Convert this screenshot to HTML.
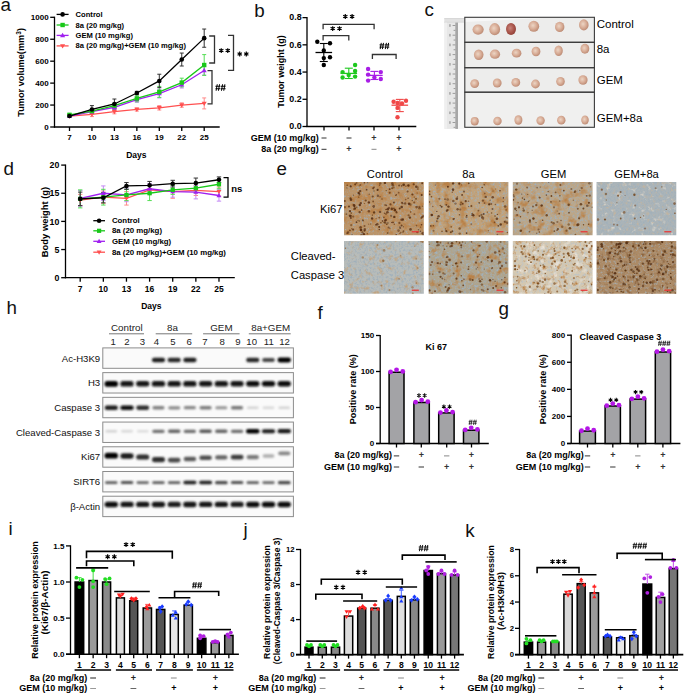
<!DOCTYPE html>
<html><head><meta charset="utf-8"><style>
html,body{margin:0;padding:0;background:#fff;}
svg{display:block;font-family:"Liberation Sans", sans-serif;}
</style></head><body>
<svg width="685" height="694" viewBox="0 0 685 694">
<defs><radialGradient id="tg" cx="0.42" cy="0.42" r="0.6"><stop offset="0" stop-color="#ecd5c4"/><stop offset="0.55" stop-color="#d9ae98"/><stop offset="1" stop-color="#bc8a73"/></radialGradient><radialGradient id="tgd" cx="0.42" cy="0.42" r="0.6"><stop offset="0" stop-color="#c8847a"/><stop offset="0.6" stop-color="#aa564c"/><stop offset="1" stop-color="#914036"/></radialGradient><filter id="nz11_0" x="0" y="0" width="1" height="1" color-interpolation-filters="sRGB"><feTurbulence type="fractalNoise" baseFrequency="0.45" numOctaves="3" seed="3"/><feColorMatrix type="matrix" values="0 0 0 0 0.624 0 0 0 0 0.690 0 0 0 0 0.737 3 0 0 0 -1.6"/></filter><filter id="nz11_1" x="0" y="0" width="1" height="1" color-interpolation-filters="sRGB"><feTurbulence type="fractalNoise" baseFrequency="0.15" numOctaves="3" seed="5"/><feColorMatrix type="matrix" values="0 0 0 0 0.753 0 0 0 0 0.502 0 0 0 0 0.243 3 0 0 0 -1.4"/></filter><filter id="nz12_0" x="0" y="0" width="1" height="1" color-interpolation-filters="sRGB"><feTurbulence type="fractalNoise" baseFrequency="0.45" numOctaves="3" seed="4"/><feColorMatrix type="matrix" values="0 0 0 0 0.624 0 0 0 0 0.690 0 0 0 0 0.737 3 0 0 0 -1.45"/></filter><filter id="nz12_1" x="0" y="0" width="1" height="1" color-interpolation-filters="sRGB"><feTurbulence type="fractalNoise" baseFrequency="0.13" numOctaves="3" seed="6"/><feColorMatrix type="matrix" values="0 0 0 0 0.753 0 0 0 0 0.502 0 0 0 0 0.243 3 0 0 0 -1.45"/></filter><filter id="nz13_0" x="0" y="0" width="1" height="1" color-interpolation-filters="sRGB"><feTurbulence type="fractalNoise" baseFrequency="0.45" numOctaves="3" seed="7"/><feColorMatrix type="matrix" values="0 0 0 0 0.624 0 0 0 0 0.690 0 0 0 0 0.737 3 0 0 0 -1.4"/></filter><filter id="nz13_1" x="0" y="0" width="1" height="1" color-interpolation-filters="sRGB"><feTurbulence type="fractalNoise" baseFrequency="0.12" numOctaves="3" seed="9"/><feColorMatrix type="matrix" values="0 0 0 0 0.753 0 0 0 0 0.502 0 0 0 0 0.243 3 0 0 0 -1.5"/></filter><filter id="nz14_0" x="0" y="0" width="1" height="1" color-interpolation-filters="sRGB"><feTurbulence type="fractalNoise" baseFrequency="0.5" numOctaves="3" seed="10"/><feColorMatrix type="matrix" values="0 0 0 0 0.624 0 0 0 0 0.690 0 0 0 0 0.737 3 0 0 0 -1.3"/></filter><filter id="nz14_1" x="0" y="0" width="1" height="1" color-interpolation-filters="sRGB"><feTurbulence type="fractalNoise" baseFrequency="0.2" numOctaves="3" seed="12"/><feColorMatrix type="matrix" values="0 0 0 0 0.886 0 0 0 0 0.847 0 0 0 0 0.784 3 0 0 0 -1.8"/></filter><filter id="nz14_2" x="0" y="0" width="1" height="1" color-interpolation-filters="sRGB"><feTurbulence type="fractalNoise" baseFrequency="0.3" numOctaves="3" seed="22"/><feColorMatrix type="matrix" values="0 0 0 0 0.769 0 0 0 0 0.706 0 0 0 0 0.612 3 0 0 0 -1.7"/></filter><filter id="nz15_0" x="0" y="0" width="1" height="1" color-interpolation-filters="sRGB"><feTurbulence type="fractalNoise" baseFrequency="0.45" numOctaves="3" seed="13"/><feColorMatrix type="matrix" values="0 0 0 0 0.624 0 0 0 0 0.690 0 0 0 0 0.737 3 0 0 0 -1.3"/></filter><filter id="nz15_1" x="0" y="0" width="1" height="1" color-interpolation-filters="sRGB"><feTurbulence type="fractalNoise" baseFrequency="0.2" numOctaves="3" seed="14"/><feColorMatrix type="matrix" values="0 0 0 0 0.784 0 0 0 0 0.627 0 0 0 0 0.439 3 0 0 0 -1.65"/></filter><filter id="nz16_0" x="0" y="0" width="1" height="1" color-interpolation-filters="sRGB"><feTurbulence type="fractalNoise" baseFrequency="0.45" numOctaves="3" seed="15"/><feColorMatrix type="matrix" values="0 0 0 0 0.624 0 0 0 0 0.690 0 0 0 0 0.737 3 0 0 0 -1.35"/></filter><filter id="nz16_1" x="0" y="0" width="1" height="1" color-interpolation-filters="sRGB"><feTurbulence type="fractalNoise" baseFrequency="0.15" numOctaves="3" seed="16"/><feColorMatrix type="matrix" values="0 0 0 0 0.753 0 0 0 0 0.502 0 0 0 0 0.243 3 0 0 0 -1.5"/></filter><filter id="nz17_0" x="0" y="0" width="1" height="1" color-interpolation-filters="sRGB"><feTurbulence type="fractalNoise" baseFrequency="0.45" numOctaves="3" seed="17"/><feColorMatrix type="matrix" values="0 0 0 0 0.737 0 0 0 0 0.769 0 0 0 0 0.784 3 0 0 0 -1.45"/></filter><filter id="nz17_1" x="0" y="0" width="1" height="1" color-interpolation-filters="sRGB"><feTurbulence type="fractalNoise" baseFrequency="0.2" numOctaves="3" seed="18"/><feColorMatrix type="matrix" values="0 0 0 0 0.753 0 0 0 0 0.502 0 0 0 0 0.243 3 0 0 0 -1.6"/></filter><filter id="nz17_2" x="0" y="0" width="1" height="1" color-interpolation-filters="sRGB"><feTurbulence type="fractalNoise" baseFrequency="0.15" numOctaves="3" seed="19"/><feColorMatrix type="matrix" values="0 0 0 0 0.937 0 0 0 0 0.914 0 0 0 0 0.875 3 0 0 0 -1.6"/></filter><filter id="nz18_0" x="0" y="0" width="1" height="1" color-interpolation-filters="sRGB"><feTurbulence type="fractalNoise" baseFrequency="0.45" numOctaves="3" seed="20"/><feColorMatrix type="matrix" values="0 0 0 0 0.651 0 0 0 0 0.675 0 0 0 0 0.675 3 0 0 0 -1.55"/></filter><filter id="nz18_1" x="0" y="0" width="1" height="1" color-interpolation-filters="sRGB"><feTurbulence type="fractalNoise" baseFrequency="0.2" numOctaves="3" seed="21"/><feColorMatrix type="matrix" values="0 0 0 0 0.541 0 0 0 0 0.353 0 0 0 0 0.180 3 0 0 0 -1.6"/></filter><filter id="desat" color-interpolation-filters="sRGB"><feGaussianBlur stdDeviation="0.5"/><feColorMatrix type="saturate" values="0.88"/></filter><filter id="soft"><feGaussianBlur stdDeviation="0.3"/></filter><filter id="bl" x="-50%" y="-100%" width="200%" height="300%"><feGaussianBlur stdDeviation="0.8"/></filter></defs>
<text x="0.6" y="11.2" font-size="18.8" fill="#111">a</text>
<text x="254.2" y="16.9" font-size="18.8" fill="#111">b</text>
<text x="424.6" y="15.9" font-size="18.8" fill="#111">c</text>
<text x="3.6" y="175" font-size="18.8" fill="#111">d</text>
<text x="276.6" y="175.1" font-size="18.8" fill="#111">e</text>
<text x="317.6" y="318.6" font-size="18.8" fill="#111">f</text>
<text x="498.6" y="315.3" font-size="18.8" fill="#111">g</text>
<text x="6.6" y="314" font-size="18.8" fill="#111">h</text>
<text x="8.6" y="534.5" font-size="18.8" fill="#111">i</text>
<text x="243.5" y="536.0" font-size="18.8" fill="#111">j</text>
<text x="465.2" y="536.7" font-size="18.8" fill="#111">k</text>
<line x1="54.50" y1="16.70" x2="54.50" y2="127.60" stroke="#000" stroke-width="1.3"/>
<line x1="53.90" y1="127.00" x2="219.70" y2="127.00" stroke="#000" stroke-width="1.3"/>
<line x1="50.20" y1="127.00" x2="54.50" y2="127.00" stroke="#000" stroke-width="1.3"/>
<text x="48.60" y="127.20" font-size="8" font-weight="bold" text-anchor="end" dominant-baseline="central" fill="#000">0</text>
<line x1="50.20" y1="105.06" x2="54.50" y2="105.06" stroke="#000" stroke-width="1.3"/>
<text x="48.60" y="105.26" font-size="8" font-weight="bold" text-anchor="end" dominant-baseline="central" fill="#000">200</text>
<line x1="50.20" y1="83.12" x2="54.50" y2="83.12" stroke="#000" stroke-width="1.3"/>
<text x="48.60" y="83.32" font-size="8" font-weight="bold" text-anchor="end" dominant-baseline="central" fill="#000">400</text>
<line x1="50.20" y1="61.18" x2="54.50" y2="61.18" stroke="#000" stroke-width="1.3"/>
<text x="48.60" y="61.38" font-size="8" font-weight="bold" text-anchor="end" dominant-baseline="central" fill="#000">600</text>
<line x1="50.20" y1="39.24" x2="54.50" y2="39.24" stroke="#000" stroke-width="1.3"/>
<text x="48.60" y="39.44" font-size="8" font-weight="bold" text-anchor="end" dominant-baseline="central" fill="#000">800</text>
<line x1="50.20" y1="17.30" x2="54.50" y2="17.30" stroke="#000" stroke-width="1.3"/>
<text x="48.60" y="17.50" font-size="8" font-weight="bold" text-anchor="end" dominant-baseline="central" fill="#000">1000</text>
<line x1="69.50" y1="127.00" x2="69.50" y2="131.00" stroke="#000" stroke-width="1.3"/>
<text x="69.50" y="137.80" font-size="8" font-weight="bold" text-anchor="middle" dominant-baseline="central" fill="#000">7</text>
<line x1="91.95" y1="127.00" x2="91.95" y2="131.00" stroke="#000" stroke-width="1.3"/>
<text x="91.95" y="137.80" font-size="8" font-weight="bold" text-anchor="middle" dominant-baseline="central" fill="#000">10</text>
<line x1="114.40" y1="127.00" x2="114.40" y2="131.00" stroke="#000" stroke-width="1.3"/>
<text x="114.40" y="137.80" font-size="8" font-weight="bold" text-anchor="middle" dominant-baseline="central" fill="#000">13</text>
<line x1="136.85" y1="127.00" x2="136.85" y2="131.00" stroke="#000" stroke-width="1.3"/>
<text x="136.85" y="137.80" font-size="8" font-weight="bold" text-anchor="middle" dominant-baseline="central" fill="#000">16</text>
<line x1="159.30" y1="127.00" x2="159.30" y2="131.00" stroke="#000" stroke-width="1.3"/>
<text x="159.30" y="137.80" font-size="8" font-weight="bold" text-anchor="middle" dominant-baseline="central" fill="#000">19</text>
<line x1="181.75" y1="127.00" x2="181.75" y2="131.00" stroke="#000" stroke-width="1.3"/>
<text x="181.75" y="137.80" font-size="8" font-weight="bold" text-anchor="middle" dominant-baseline="central" fill="#000">22</text>
<line x1="204.20" y1="127.00" x2="204.20" y2="131.00" stroke="#000" stroke-width="1.3"/>
<text x="204.20" y="137.80" font-size="8" font-weight="bold" text-anchor="middle" dominant-baseline="central" fill="#000">25</text>
<text x="136.30" y="155.00" font-size="8.5" font-weight="bold" text-anchor="middle" dominant-baseline="central" fill="#000">Days</text>
<text x="0" y="0" font-size="9.2" font-weight="bold" text-anchor="middle" dominant-baseline="central" transform="translate(21.4 72.4) rotate(-90)">Tumor volume(mm<tspan font-size="6.5" dy="-3.6">3</tspan><tspan dy="3.6">)</tspan></text>
<line x1="69.50" y1="117.13" x2="69.50" y2="114.93" stroke="#ff8a8a" stroke-width="1.0"/>
<line x1="67.50" y1="114.93" x2="71.50" y2="114.93" stroke="#ff8a8a" stroke-width="1.0"/>
<line x1="67.50" y1="117.13" x2="71.50" y2="117.13" stroke="#ff8a8a" stroke-width="1.0"/>
<line x1="91.95" y1="116.58" x2="91.95" y2="112.19" stroke="#ff8a8a" stroke-width="1.0"/>
<line x1="89.95" y1="112.19" x2="93.95" y2="112.19" stroke="#ff8a8a" stroke-width="1.0"/>
<line x1="89.95" y1="116.58" x2="93.95" y2="116.58" stroke="#ff8a8a" stroke-width="1.0"/>
<line x1="114.40" y1="113.84" x2="114.40" y2="109.45" stroke="#ff8a8a" stroke-width="1.0"/>
<line x1="112.40" y1="109.45" x2="116.40" y2="109.45" stroke="#ff8a8a" stroke-width="1.0"/>
<line x1="112.40" y1="113.84" x2="116.40" y2="113.84" stroke="#ff8a8a" stroke-width="1.0"/>
<line x1="136.85" y1="111.09" x2="136.85" y2="107.80" stroke="#ff8a8a" stroke-width="1.0"/>
<line x1="134.85" y1="107.80" x2="138.85" y2="107.80" stroke="#ff8a8a" stroke-width="1.0"/>
<line x1="134.85" y1="111.09" x2="138.85" y2="111.09" stroke="#ff8a8a" stroke-width="1.0"/>
<line x1="159.30" y1="110.00" x2="159.30" y2="105.61" stroke="#ff8a8a" stroke-width="1.0"/>
<line x1="157.30" y1="105.61" x2="161.30" y2="105.61" stroke="#ff8a8a" stroke-width="1.0"/>
<line x1="157.30" y1="110.00" x2="161.30" y2="110.00" stroke="#ff8a8a" stroke-width="1.0"/>
<line x1="181.75" y1="107.25" x2="181.75" y2="102.87" stroke="#ff8a8a" stroke-width="1.0"/>
<line x1="179.75" y1="102.87" x2="183.75" y2="102.87" stroke="#ff8a8a" stroke-width="1.0"/>
<line x1="179.75" y1="107.25" x2="183.75" y2="107.25" stroke="#ff8a8a" stroke-width="1.0"/>
<line x1="204.20" y1="108.90" x2="204.20" y2="97.93" stroke="#ff8a8a" stroke-width="1.0"/>
<line x1="202.20" y1="97.93" x2="206.20" y2="97.93" stroke="#ff8a8a" stroke-width="1.0"/>
<line x1="202.20" y1="108.90" x2="206.20" y2="108.90" stroke="#ff8a8a" stroke-width="1.0"/>
<line x1="69.50" y1="117.13" x2="69.50" y2="114.93" stroke="#c58af5" stroke-width="1.0"/>
<line x1="67.50" y1="114.93" x2="71.50" y2="114.93" stroke="#c58af5" stroke-width="1.0"/>
<line x1="67.50" y1="117.13" x2="71.50" y2="117.13" stroke="#c58af5" stroke-width="1.0"/>
<line x1="91.95" y1="113.29" x2="91.95" y2="110.00" stroke="#c58af5" stroke-width="1.0"/>
<line x1="89.95" y1="110.00" x2="93.95" y2="110.00" stroke="#c58af5" stroke-width="1.0"/>
<line x1="89.95" y1="113.29" x2="93.95" y2="113.29" stroke="#c58af5" stroke-width="1.0"/>
<line x1="114.40" y1="109.45" x2="114.40" y2="105.06" stroke="#c58af5" stroke-width="1.0"/>
<line x1="112.40" y1="105.06" x2="116.40" y2="105.06" stroke="#c58af5" stroke-width="1.0"/>
<line x1="112.40" y1="109.45" x2="116.40" y2="109.45" stroke="#c58af5" stroke-width="1.0"/>
<line x1="136.85" y1="102.32" x2="136.85" y2="96.83" stroke="#c58af5" stroke-width="1.0"/>
<line x1="134.85" y1="96.83" x2="138.85" y2="96.83" stroke="#c58af5" stroke-width="1.0"/>
<line x1="134.85" y1="102.32" x2="138.85" y2="102.32" stroke="#c58af5" stroke-width="1.0"/>
<line x1="159.30" y1="97.93" x2="159.30" y2="89.15" stroke="#c58af5" stroke-width="1.0"/>
<line x1="157.30" y1="89.15" x2="161.30" y2="89.15" stroke="#c58af5" stroke-width="1.0"/>
<line x1="157.30" y1="97.93" x2="161.30" y2="97.93" stroke="#c58af5" stroke-width="1.0"/>
<line x1="181.75" y1="88.06" x2="181.75" y2="81.47" stroke="#c58af5" stroke-width="1.0"/>
<line x1="179.75" y1="81.47" x2="183.75" y2="81.47" stroke="#c58af5" stroke-width="1.0"/>
<line x1="179.75" y1="88.06" x2="183.75" y2="88.06" stroke="#c58af5" stroke-width="1.0"/>
<line x1="204.20" y1="74.89" x2="204.20" y2="66.12" stroke="#c58af5" stroke-width="1.0"/>
<line x1="202.20" y1="66.12" x2="206.20" y2="66.12" stroke="#c58af5" stroke-width="1.0"/>
<line x1="202.20" y1="74.89" x2="206.20" y2="74.89" stroke="#c58af5" stroke-width="1.0"/>
<line x1="69.50" y1="116.58" x2="69.50" y2="113.29" stroke="#5d5" stroke-width="1.0"/>
<line x1="67.50" y1="113.29" x2="71.50" y2="113.29" stroke="#5d5" stroke-width="1.0"/>
<line x1="67.50" y1="116.58" x2="71.50" y2="116.58" stroke="#5d5" stroke-width="1.0"/>
<line x1="91.95" y1="113.29" x2="91.95" y2="108.90" stroke="#5d5" stroke-width="1.0"/>
<line x1="89.95" y1="108.90" x2="93.95" y2="108.90" stroke="#5d5" stroke-width="1.0"/>
<line x1="89.95" y1="113.29" x2="93.95" y2="113.29" stroke="#5d5" stroke-width="1.0"/>
<line x1="114.40" y1="107.80" x2="114.40" y2="103.41" stroke="#5d5" stroke-width="1.0"/>
<line x1="112.40" y1="103.41" x2="116.40" y2="103.41" stroke="#5d5" stroke-width="1.0"/>
<line x1="112.40" y1="107.80" x2="116.40" y2="107.80" stroke="#5d5" stroke-width="1.0"/>
<line x1="136.85" y1="101.77" x2="136.85" y2="95.19" stroke="#5d5" stroke-width="1.0"/>
<line x1="134.85" y1="95.19" x2="138.85" y2="95.19" stroke="#5d5" stroke-width="1.0"/>
<line x1="134.85" y1="101.77" x2="138.85" y2="101.77" stroke="#5d5" stroke-width="1.0"/>
<line x1="159.30" y1="97.38" x2="159.30" y2="86.41" stroke="#5d5" stroke-width="1.0"/>
<line x1="157.30" y1="86.41" x2="161.30" y2="86.41" stroke="#5d5" stroke-width="1.0"/>
<line x1="157.30" y1="97.38" x2="161.30" y2="97.38" stroke="#5d5" stroke-width="1.0"/>
<line x1="181.75" y1="86.96" x2="181.75" y2="78.18" stroke="#5d5" stroke-width="1.0"/>
<line x1="179.75" y1="78.18" x2="183.75" y2="78.18" stroke="#5d5" stroke-width="1.0"/>
<line x1="179.75" y1="86.96" x2="183.75" y2="86.96" stroke="#5d5" stroke-width="1.0"/>
<line x1="204.20" y1="75.44" x2="204.20" y2="54.60" stroke="#5d5" stroke-width="1.0"/>
<line x1="202.20" y1="54.60" x2="206.20" y2="54.60" stroke="#5d5" stroke-width="1.0"/>
<line x1="202.20" y1="75.44" x2="206.20" y2="75.44" stroke="#5d5" stroke-width="1.0"/>
<line x1="69.50" y1="117.13" x2="69.50" y2="114.93" stroke="#333" stroke-width="1.0"/>
<line x1="67.50" y1="114.93" x2="71.50" y2="114.93" stroke="#333" stroke-width="1.0"/>
<line x1="67.50" y1="117.13" x2="71.50" y2="117.13" stroke="#333" stroke-width="1.0"/>
<line x1="91.95" y1="113.29" x2="91.95" y2="105.61" stroke="#333" stroke-width="1.0"/>
<line x1="89.95" y1="105.61" x2="93.95" y2="105.61" stroke="#333" stroke-width="1.0"/>
<line x1="89.95" y1="113.29" x2="93.95" y2="113.29" stroke="#333" stroke-width="1.0"/>
<line x1="114.40" y1="108.90" x2="114.40" y2="99.03" stroke="#333" stroke-width="1.0"/>
<line x1="112.40" y1="99.03" x2="116.40" y2="99.03" stroke="#333" stroke-width="1.0"/>
<line x1="112.40" y1="108.90" x2="116.40" y2="108.90" stroke="#333" stroke-width="1.0"/>
<line x1="136.85" y1="94.64" x2="136.85" y2="91.35" stroke="#333" stroke-width="1.0"/>
<line x1="134.85" y1="91.35" x2="138.85" y2="91.35" stroke="#333" stroke-width="1.0"/>
<line x1="134.85" y1="94.64" x2="138.85" y2="94.64" stroke="#333" stroke-width="1.0"/>
<line x1="159.30" y1="87.62" x2="159.30" y2="74.23" stroke="#333" stroke-width="1.0"/>
<line x1="157.30" y1="74.23" x2="161.30" y2="74.23" stroke="#333" stroke-width="1.0"/>
<line x1="157.30" y1="87.62" x2="161.30" y2="87.62" stroke="#333" stroke-width="1.0"/>
<line x1="181.75" y1="66.01" x2="181.75" y2="53.06" stroke="#333" stroke-width="1.0"/>
<line x1="179.75" y1="53.06" x2="183.75" y2="53.06" stroke="#333" stroke-width="1.0"/>
<line x1="179.75" y1="66.01" x2="183.75" y2="66.01" stroke="#333" stroke-width="1.0"/>
<line x1="204.20" y1="47.25" x2="204.20" y2="29.04" stroke="#333" stroke-width="1.0"/>
<line x1="202.20" y1="29.04" x2="206.20" y2="29.04" stroke="#333" stroke-width="1.0"/>
<line x1="202.20" y1="47.25" x2="206.20" y2="47.25" stroke="#333" stroke-width="1.0"/>
<polyline points="69.50,116.03 91.95,114.38 114.40,111.64 136.85,109.45 159.30,107.80 181.75,105.06 204.20,103.41" stroke="#ff5050" stroke-width="1.3" fill="none"/>
<path d="M66.97,114.27 L72.03,114.27 L69.50,118.67 Z" fill="#ff5050"/>
<path d="M89.42,112.62 L94.48,112.62 L91.95,117.02 Z" fill="#ff5050"/>
<path d="M111.87,109.88 L116.93,109.88 L114.40,114.28 Z" fill="#ff5050"/>
<path d="M134.32,107.69 L139.38,107.69 L136.85,112.09 Z" fill="#ff5050"/>
<path d="M156.77,106.04 L161.83,106.04 L159.30,110.44 Z" fill="#ff5050"/>
<path d="M179.22,103.30 L184.28,103.30 L181.75,107.70 Z" fill="#ff5050"/>
<path d="M201.67,101.65 L206.73,101.65 L204.20,106.05 Z" fill="#ff5050"/>
<polyline points="69.50,116.03 91.95,111.64 114.40,107.25 136.85,99.58 159.30,93.54 181.75,84.77 204.20,70.50" stroke="#a020f0" stroke-width="1.3" fill="none"/>
<path d="M66.97,117.79 L72.03,117.79 L69.50,113.39 Z" fill="#a020f0"/>
<path d="M89.42,113.40 L94.48,113.40 L91.95,109.00 Z" fill="#a020f0"/>
<path d="M111.87,109.01 L116.93,109.01 L114.40,104.61 Z" fill="#a020f0"/>
<path d="M134.32,101.34 L139.38,101.34 L136.85,96.94 Z" fill="#a020f0"/>
<path d="M156.77,95.30 L161.83,95.30 L159.30,90.90 Z" fill="#a020f0"/>
<path d="M179.22,86.53 L184.28,86.53 L181.75,82.13 Z" fill="#a020f0"/>
<path d="M201.67,72.26 L206.73,72.26 L204.20,67.86 Z" fill="#a020f0"/>
<polyline points="69.50,114.93 91.95,111.09 114.40,105.61 136.85,98.48 159.30,91.90 181.75,82.57 204.20,65.02" stroke="#19c819" stroke-width="1.3" fill="none"/>
<rect x="67.30" y="112.73" width="4.40" height="4.40" fill="#19c819" stroke="none" stroke-width="0"/>
<rect x="89.75" y="108.89" width="4.40" height="4.40" fill="#19c819" stroke="none" stroke-width="0"/>
<rect x="112.20" y="103.41" width="4.40" height="4.40" fill="#19c819" stroke="none" stroke-width="0"/>
<rect x="134.65" y="96.28" width="4.40" height="4.40" fill="#19c819" stroke="none" stroke-width="0"/>
<rect x="157.10" y="89.70" width="4.40" height="4.40" fill="#19c819" stroke="none" stroke-width="0"/>
<rect x="179.55" y="80.37" width="4.40" height="4.40" fill="#19c819" stroke="none" stroke-width="0"/>
<rect x="202.00" y="62.82" width="4.40" height="4.40" fill="#19c819" stroke="none" stroke-width="0"/>
<polyline points="69.50,116.03 91.95,109.45 114.40,103.96 136.85,92.99 159.30,80.93 181.75,59.53 204.20,38.14" stroke="#000000" stroke-width="1.3" fill="none"/>
<circle cx="69.50" cy="116.03" r="2.30" fill="#000000"/>
<circle cx="91.95" cy="109.45" r="2.30" fill="#000000"/>
<circle cx="114.40" cy="103.96" r="2.30" fill="#000000"/>
<circle cx="136.85" cy="92.99" r="2.30" fill="#000000"/>
<circle cx="159.30" cy="80.93" r="2.30" fill="#000000"/>
<circle cx="181.75" cy="59.53" r="2.30" fill="#000000"/>
<circle cx="204.20" cy="38.14" r="2.30" fill="#000000"/>
<line x1="56.60" y1="14.40" x2="68.60" y2="14.40" stroke="#000000" stroke-width="1.3"/>
<circle cx="62.60" cy="14.40" r="2.30" fill="#000000"/>
<text x="75.60" y="14.40" font-size="7.6" font-weight="bold" text-anchor="start" dominant-baseline="central" fill="#000">Control</text>
<line x1="56.60" y1="25.00" x2="68.60" y2="25.00" stroke="#19c819" stroke-width="1.3"/>
<rect x="60.40" y="22.80" width="4.40" height="4.40" fill="#19c819" stroke="none" stroke-width="0"/>
<text x="75.60" y="25.00" font-size="7.6" font-weight="bold" text-anchor="start" dominant-baseline="central" fill="#000">8a (20 mg/kg)</text>
<line x1="56.60" y1="35.40" x2="68.60" y2="35.40" stroke="#a020f0" stroke-width="1.3"/>
<path d="M60.07,37.16 L65.13,37.16 L62.60,32.76 Z" fill="#a020f0"/>
<text x="75.60" y="35.40" font-size="7.6" font-weight="bold" text-anchor="start" dominant-baseline="central" fill="#000">GEM (10 mg/kg)</text>
<line x1="56.60" y1="45.90" x2="68.60" y2="45.90" stroke="#ff5050" stroke-width="1.3"/>
<path d="M60.07,44.14 L65.13,44.14 L62.60,48.54 Z" fill="#ff5050"/>
<text x="75.60" y="45.90" font-size="7.6" font-weight="bold" text-anchor="start" dominant-baseline="central" fill="#000">8a (20 mg/kg)+GEM (10 mg/kg)</text>
<path d="M209.2,36 H214.5 V63 H209.2" stroke="#333" stroke-width="1.3" fill="none"/>
<path d="M221.25,48.14V53.06M219.12,49.37L223.38,51.83M219.12,51.83L223.38,49.37M227.75,48.14V53.06M225.62,49.37L229.88,51.83M225.62,51.83L229.88,49.37" stroke="#000" stroke-width="1.16" fill="none"/>
<path d="M228,35.3 H233.5 V70.4 H228" stroke="#333" stroke-width="1.3" fill="none"/>
<path d="M239.70,51.54V56.46M237.57,52.77L241.83,55.23M237.57,55.23L241.83,52.77M246.30,51.54V56.46M244.17,52.77L248.43,55.23M244.17,55.23L248.43,52.77" stroke="#000" stroke-width="1.16" fill="none"/>
<path d="M207.5,70.6 H212 V103.8 H207.5" stroke="#333" stroke-width="1.3" fill="none"/>
<path d="M215.43,86.35H220.23M215.43,88.65H220.23M217.26,84.24L216.10,90.76M219.56,84.24L218.41,90.76M220.77,86.35H225.57M220.77,88.65H225.57M222.59,84.24L221.44,90.76M224.90,84.24L223.74,90.76" stroke="#000" stroke-width="1.01" fill="none"/>
<line x1="307.00" y1="17.02" x2="307.00" y2="127.10" stroke="#000" stroke-width="1.3"/>
<line x1="306.40" y1="126.50" x2="416.30" y2="126.50" stroke="#000" stroke-width="1.3"/>
<line x1="302.50" y1="126.50" x2="307.00" y2="126.50" stroke="#000" stroke-width="1.3"/>
<text x="301.70" y="126.20" font-size="8.9" font-weight="bold" text-anchor="end" dominant-baseline="central" fill="#000">0.0</text>
<line x1="302.50" y1="99.28" x2="307.00" y2="99.28" stroke="#000" stroke-width="1.3"/>
<text x="301.70" y="98.98" font-size="8.9" font-weight="bold" text-anchor="end" dominant-baseline="central" fill="#000">0.2</text>
<line x1="302.50" y1="72.06" x2="307.00" y2="72.06" stroke="#000" stroke-width="1.3"/>
<text x="301.70" y="71.76" font-size="8.9" font-weight="bold" text-anchor="end" dominant-baseline="central" fill="#000">0.4</text>
<line x1="302.50" y1="44.84" x2="307.00" y2="44.84" stroke="#000" stroke-width="1.3"/>
<text x="301.70" y="44.54" font-size="8.9" font-weight="bold" text-anchor="end" dominant-baseline="central" fill="#000">0.6</text>
<line x1="302.50" y1="17.62" x2="307.00" y2="17.62" stroke="#000" stroke-width="1.3"/>
<text x="301.70" y="17.32" font-size="8.9" font-weight="bold" text-anchor="end" dominant-baseline="central" fill="#000">0.8</text>
<line x1="324.00" y1="126.50" x2="324.00" y2="130.50" stroke="#000" stroke-width="1.3"/>
<line x1="349.00" y1="126.50" x2="349.00" y2="130.50" stroke="#000" stroke-width="1.3"/>
<line x1="374.00" y1="126.50" x2="374.00" y2="130.50" stroke="#000" stroke-width="1.3"/>
<line x1="399.00" y1="126.50" x2="399.00" y2="130.50" stroke="#000" stroke-width="1.3"/>
<text x="280.70" y="71.50" font-size="9" font-weight="bold" text-anchor="middle" dominant-baseline="central" fill="#000" transform="rotate(-90 280.7 71.5)">Tumor weight (g)</text>
<text x="318.80" y="137.50" font-size="9" font-weight="bold" text-anchor="end" dominant-baseline="central" fill="#000">GEM (10 mg/kg)</text>
<text x="318.80" y="148.80" font-size="9" font-weight="bold" text-anchor="end" dominant-baseline="central" fill="#000">8a (20 mg/kg)</text>
<line x1="321.50" y1="138.00" x2="326.50" y2="138.00" stroke="#333" stroke-width="1.0"/>
<line x1="321.50" y1="149.30" x2="326.50" y2="149.30" stroke="#333" stroke-width="1.0"/>
<line x1="346.50" y1="138.00" x2="351.50" y2="138.00" stroke="#333" stroke-width="1.0"/>
<text x="349.00" y="148.80" font-size="9" font-weight="bold" text-anchor="middle" dominant-baseline="central" fill="#333">+</text>
<text x="374.00" y="137.50" font-size="9" font-weight="bold" text-anchor="middle" dominant-baseline="central" fill="#333">+</text>
<line x1="371.50" y1="149.30" x2="376.50" y2="149.30" stroke="#888" stroke-width="1.0"/>
<text x="399.00" y="137.50" font-size="9" font-weight="bold" text-anchor="middle" dominant-baseline="central" fill="#333">+</text>
<text x="399.00" y="148.80" font-size="9" font-weight="bold" text-anchor="middle" dominant-baseline="central" fill="#333">+</text>
<circle cx="317.30" cy="41.70" r="2.20" fill="#000"/>
<circle cx="330.00" cy="43.20" r="2.20" fill="#000"/>
<circle cx="323.80" cy="50.40" r="2.20" fill="#000"/>
<circle cx="323.80" cy="58.10" r="2.20" fill="#000"/>
<circle cx="330.00" cy="57.30" r="2.20" fill="#000"/>
<circle cx="323.80" cy="65.00" r="2.20" fill="#000"/>
<line x1="315.50" y1="52.50" x2="332.10" y2="52.50" stroke="#000" stroke-width="1.3"/>
<line x1="323.80" y1="43.50" x2="323.80" y2="61.50" stroke="#000" stroke-width="1.1"/>
<line x1="319.80" y1="43.50" x2="327.80" y2="43.50" stroke="#000" stroke-width="1.1"/>
<line x1="319.80" y1="61.50" x2="327.80" y2="61.50" stroke="#000" stroke-width="1.1"/>
<circle cx="355.10" cy="65.00" r="2.20" fill="#1ec81e"/>
<circle cx="342.60" cy="72.10" r="2.20" fill="#1ec81e"/>
<circle cx="355.10" cy="71.00" r="2.20" fill="#1ec81e"/>
<circle cx="348.70" cy="75.00" r="2.20" fill="#1ec81e"/>
<circle cx="342.60" cy="77.50" r="2.20" fill="#1ec81e"/>
<circle cx="355.10" cy="76.60" r="2.20" fill="#1ec81e"/>
<line x1="340.50" y1="73.40" x2="357.10" y2="73.40" stroke="#1ec81e" stroke-width="1.3"/>
<line x1="348.80" y1="68.20" x2="348.80" y2="78.50" stroke="#1ec81e" stroke-width="1.1"/>
<line x1="344.80" y1="68.20" x2="352.80" y2="68.20" stroke="#1ec81e" stroke-width="1.1"/>
<line x1="344.80" y1="78.50" x2="352.80" y2="78.50" stroke="#1ec81e" stroke-width="1.1"/>
<circle cx="368.10" cy="69.00" r="2.20" fill="#a81ee6"/>
<circle cx="380.80" cy="72.10" r="2.20" fill="#a81ee6"/>
<circle cx="368.10" cy="74.60" r="2.20" fill="#a81ee6"/>
<circle cx="374.40" cy="77.40" r="2.20" fill="#a81ee6"/>
<circle cx="368.10" cy="80.60" r="2.20" fill="#a81ee6"/>
<circle cx="380.80" cy="79.00" r="2.20" fill="#a81ee6"/>
<line x1="366.10" y1="75.40" x2="382.70" y2="75.40" stroke="#a81ee6" stroke-width="1.3"/>
<line x1="374.40" y1="71.40" x2="374.40" y2="79.50" stroke="#a81ee6" stroke-width="1.1"/>
<line x1="370.40" y1="71.40" x2="378.40" y2="71.40" stroke="#a81ee6" stroke-width="1.1"/>
<line x1="370.40" y1="79.50" x2="378.40" y2="79.50" stroke="#a81ee6" stroke-width="1.1"/>
<circle cx="393.60" cy="101.80" r="2.20" fill="#f04848"/>
<circle cx="406.00" cy="100.70" r="2.20" fill="#f04848"/>
<circle cx="397.50" cy="103.00" r="2.20" fill="#f04848"/>
<circle cx="402.00" cy="103.50" r="2.20" fill="#f04848"/>
<circle cx="397.50" cy="107.90" r="2.20" fill="#f04848"/>
<circle cx="397.50" cy="117.20" r="2.20" fill="#f04848"/>
<line x1="391.50" y1="105.20" x2="408.10" y2="105.20" stroke="#f04848" stroke-width="1.3"/>
<line x1="399.80" y1="99.40" x2="399.80" y2="111.60" stroke="#f04848" stroke-width="1.1"/>
<line x1="395.80" y1="99.40" x2="403.80" y2="99.40" stroke="#f04848" stroke-width="1.1"/>
<line x1="395.80" y1="111.60" x2="403.80" y2="111.60" stroke="#f04848" stroke-width="1.1"/>
<path d="M323.1,29.3 V24.3 H374.1 V29.3" stroke="#333" stroke-width="1.3" fill="none"/>
<path d="M345.30,14.04V18.96M343.17,15.27L347.43,17.73M343.17,17.73L347.43,15.27M352.10,14.04V18.96M349.97,15.27L354.23,17.73M349.97,17.73L354.23,15.27" stroke="#000" stroke-width="1.16" fill="none"/>
<path d="M323.1,40.5 V35.6 H348.8 V40.5" stroke="#333" stroke-width="1.3" fill="none"/>
<path d="M332.70,26.14V31.06M330.57,27.37L334.83,29.83M330.57,29.83L334.83,27.37M339.50,26.14V31.06M337.37,27.37L341.63,29.83M337.37,29.83L341.63,27.37" stroke="#000" stroke-width="1.16" fill="none"/>
<path d="M372.4,59.1 V54.5 H396.1 V59.1" stroke="#333" stroke-width="1.3" fill="none"/>
<path d="M379.54,44.90H384.14M379.54,47.10H384.14M381.29,42.87L380.19,49.13M383.50,42.87L382.39,49.13M384.66,44.90H389.26M384.66,47.10H389.26M386.41,42.87L385.30,49.13M388.61,42.87L387.51,49.13" stroke="#000" stroke-width="0.97" fill="none"/>
<rect x="444.30" y="18.00" width="20.00" height="4.80" fill="#e2e2e2" stroke="none" stroke-width="0"/>
<line x1="444.30" y1="18.60" x2="464.30" y2="18.60" stroke="#cfcfcf" stroke-width="0.6"/>
<line x1="444.30" y1="22.30" x2="464.30" y2="22.30" stroke="#c8c8c8" stroke-width="0.6"/>
<rect x="444.50" y="22.60" width="13.50" height="106.30" fill="#e7e7e7" stroke="none" stroke-width="0"/>
<rect x="444.50" y="22.60" width="2.50" height="106.30" fill="#efefef" stroke="none" stroke-width="0"/>
<rect x="455.30" y="22.60" width="2.70" height="106.30" fill="#a6a6a6" stroke="none" stroke-width="0"/>
<line x1="452.60" y1="25.50" x2="455.30" y2="25.50" stroke="#7a7a7a" stroke-width="0.7"/>
<rect x="449.30" y="24.20" width="1.30" height="2.60" fill="#9a9a9a" stroke="none" stroke-width="0"/>
<line x1="453.60" y1="30.35" x2="455.30" y2="30.35" stroke="#7a7a7a" stroke-width="0.7"/>
<line x1="452.60" y1="35.20" x2="455.30" y2="35.20" stroke="#7a7a7a" stroke-width="0.7"/>
<rect x="449.30" y="33.90" width="1.30" height="2.60" fill="#9a9a9a" stroke="none" stroke-width="0"/>
<line x1="453.60" y1="40.05" x2="455.30" y2="40.05" stroke="#7a7a7a" stroke-width="0.7"/>
<line x1="452.60" y1="44.90" x2="455.30" y2="44.90" stroke="#7a7a7a" stroke-width="0.7"/>
<rect x="449.30" y="43.60" width="1.30" height="2.60" fill="#9a9a9a" stroke="none" stroke-width="0"/>
<line x1="453.60" y1="49.75" x2="455.30" y2="49.75" stroke="#7a7a7a" stroke-width="0.7"/>
<line x1="452.60" y1="54.60" x2="455.30" y2="54.60" stroke="#7a7a7a" stroke-width="0.7"/>
<rect x="449.30" y="53.30" width="1.30" height="2.60" fill="#9a9a9a" stroke="none" stroke-width="0"/>
<line x1="453.60" y1="59.45" x2="455.30" y2="59.45" stroke="#7a7a7a" stroke-width="0.7"/>
<line x1="452.60" y1="64.30" x2="455.30" y2="64.30" stroke="#7a7a7a" stroke-width="0.7"/>
<rect x="449.30" y="63.00" width="1.30" height="2.60" fill="#9a9a9a" stroke="none" stroke-width="0"/>
<line x1="453.60" y1="69.15" x2="455.30" y2="69.15" stroke="#7a7a7a" stroke-width="0.7"/>
<line x1="452.60" y1="74.00" x2="455.30" y2="74.00" stroke="#7a7a7a" stroke-width="0.7"/>
<rect x="449.30" y="72.70" width="1.30" height="2.60" fill="#9a9a9a" stroke="none" stroke-width="0"/>
<line x1="453.60" y1="78.85" x2="455.30" y2="78.85" stroke="#7a7a7a" stroke-width="0.7"/>
<line x1="452.60" y1="83.70" x2="455.30" y2="83.70" stroke="#7a7a7a" stroke-width="0.7"/>
<rect x="449.30" y="82.40" width="1.30" height="2.60" fill="#9a9a9a" stroke="none" stroke-width="0"/>
<line x1="453.60" y1="88.55" x2="455.30" y2="88.55" stroke="#7a7a7a" stroke-width="0.7"/>
<line x1="452.60" y1="93.40" x2="455.30" y2="93.40" stroke="#7a7a7a" stroke-width="0.7"/>
<rect x="449.30" y="92.10" width="1.30" height="2.60" fill="#9a9a9a" stroke="none" stroke-width="0"/>
<line x1="453.60" y1="98.25" x2="455.30" y2="98.25" stroke="#7a7a7a" stroke-width="0.7"/>
<line x1="452.60" y1="103.10" x2="455.30" y2="103.10" stroke="#7a7a7a" stroke-width="0.7"/>
<rect x="449.30" y="101.80" width="1.30" height="2.60" fill="#9a9a9a" stroke="none" stroke-width="0"/>
<line x1="453.60" y1="107.95" x2="455.30" y2="107.95" stroke="#7a7a7a" stroke-width="0.7"/>
<line x1="452.60" y1="112.80" x2="455.30" y2="112.80" stroke="#7a7a7a" stroke-width="0.7"/>
<rect x="449.30" y="111.50" width="1.30" height="2.60" fill="#9a9a9a" stroke="none" stroke-width="0"/>
<line x1="453.60" y1="117.65" x2="455.30" y2="117.65" stroke="#7a7a7a" stroke-width="0.7"/>
<line x1="452.60" y1="122.50" x2="455.30" y2="122.50" stroke="#7a7a7a" stroke-width="0.7"/>
<rect x="449.30" y="121.20" width="1.30" height="2.60" fill="#9a9a9a" stroke="none" stroke-width="0"/>
<line x1="453.60" y1="127.35" x2="455.30" y2="127.35" stroke="#7a7a7a" stroke-width="0.7"/>
<rect x="458.00" y="22.60" width="6.30" height="106.30" fill="#f6f6f6" stroke="none" stroke-width="0"/>
<rect x="464.30" y="17.30" width="130.60" height="110.00" fill="#ededec" stroke="none" stroke-width="0"/>
<rect x="464.30" y="92.20" width="130.60" height="35.00" fill="#f0f0ef" stroke="none" stroke-width="0"/>
<path d="M464.3,22 L560,17.3 L464.3,17.3 Z" fill="#f7f7f7"/>
<rect x="464.80" y="17.30" width="129.60" height="25.00" fill="none" stroke="#3a3a3a" stroke-width="1.1"/>
<rect x="464.80" y="42.30" width="129.60" height="25.40" fill="none" stroke="#3a3a3a" stroke-width="1.1"/>
<rect x="464.80" y="67.70" width="129.60" height="24.50" fill="none" stroke="#3a3a3a" stroke-width="1.1"/>
<rect x="464.80" y="92.20" width="129.60" height="35.10" fill="none" stroke="#3a3a3a" stroke-width="1.1"/>
<ellipse cx="478.1" cy="29.6" rx="5.6" ry="5.1" fill="url(#tg)" filter="url(#soft)"/>
<ellipse cx="494.7" cy="29.2" rx="5.4" ry="6.1" fill="url(#tg)" filter="url(#soft)"/>
<ellipse cx="511" cy="29.1" rx="5.0" ry="6.0" fill="url(#tgd)" filter="url(#soft)"/>
<ellipse cx="533.8" cy="26.3" rx="5.4" ry="5.5" fill="url(#tg)" filter="url(#soft)"/>
<ellipse cx="559.7" cy="26.9" rx="4.7" ry="5.2" fill="url(#tg)" filter="url(#soft)"/>
<ellipse cx="583.8" cy="24.9" rx="4.8" ry="5.6" fill="url(#tg)" filter="url(#soft)"/>
<ellipse cx="478.7" cy="54.8" rx="4.8" ry="5.2" fill="url(#tg)" filter="url(#soft)"/>
<ellipse cx="495" cy="54.2" rx="5.1" ry="4.6" fill="url(#tg)" filter="url(#soft)"/>
<ellipse cx="516.6" cy="53.2" rx="4.8" ry="4.4" fill="url(#tg)" filter="url(#soft)"/>
<ellipse cx="536" cy="51.5" rx="4.4" ry="4.8" fill="url(#tg)" filter="url(#soft)"/>
<ellipse cx="558.6" cy="50.8" rx="4.2" ry="5.2" fill="url(#tg)" filter="url(#soft)"/>
<ellipse cx="584.9" cy="48.8" rx="4.4" ry="5" fill="url(#tg)" filter="url(#soft)"/>
<ellipse cx="474.7" cy="83.6" rx="4.4" ry="4.4" fill="url(#tg)" filter="url(#soft)"/>
<ellipse cx="497.2" cy="83.0" rx="4.4" ry="4.6" fill="url(#tg)" filter="url(#soft)"/>
<ellipse cx="515.8" cy="82.4" rx="4.4" ry="4.4" fill="url(#tg)" filter="url(#soft)"/>
<ellipse cx="535.5" cy="84.0" rx="4.4" ry="4.4" fill="url(#tg)" filter="url(#soft)"/>
<ellipse cx="560.5" cy="81.5" rx="4.3" ry="4.6" fill="url(#tg)" filter="url(#soft)"/>
<ellipse cx="583" cy="80.0" rx="4.6" ry="4.8" fill="url(#tg)" filter="url(#soft)"/>
<ellipse cx="474.7" cy="121.2" rx="4.0" ry="4.2" fill="url(#tg)" filter="url(#soft)"/>
<ellipse cx="497.5" cy="121.0" rx="4.2" ry="4.3" fill="url(#tg)" filter="url(#soft)"/>
<ellipse cx="518.4" cy="120.0" rx="4.0" ry="4.8" fill="url(#tg)" filter="url(#soft)"/>
<ellipse cx="540.6" cy="120.6" rx="4.2" ry="4.4" fill="url(#tg)" filter="url(#soft)"/>
<ellipse cx="561.3" cy="120.2" rx="4.2" ry="4.4" fill="url(#tg)" filter="url(#soft)"/>
<ellipse cx="585" cy="120.0" rx="3.8" ry="4.6" fill="url(#tg)" filter="url(#soft)"/>
<text x="596.70" y="24.30" font-size="11.5" font-weight="normal" text-anchor="start" dominant-baseline="central" fill="#000">Control</text>
<text x="596.70" y="49.00" font-size="11.5" font-weight="normal" text-anchor="start" dominant-baseline="central" fill="#000">8a</text>
<text x="596.70" y="80.40" font-size="11.5" font-weight="normal" text-anchor="start" dominant-baseline="central" fill="#000">GEM</text>
<text x="596.70" y="118.30" font-size="11.5" font-weight="normal" text-anchor="start" dominant-baseline="central" fill="#000">GEM+8a</text>
<line x1="65.50" y1="164.50" x2="65.50" y2="278.30" stroke="#000" stroke-width="1.3"/>
<line x1="64.90" y1="277.70" x2="234.80" y2="277.70" stroke="#000" stroke-width="1.3"/>
<line x1="61.20" y1="277.70" x2="65.50" y2="277.70" stroke="#000" stroke-width="1.3"/>
<text x="59.40" y="277.90" font-size="8.8" font-weight="bold" text-anchor="end" dominant-baseline="central" fill="#000">0</text>
<line x1="61.20" y1="249.55" x2="65.50" y2="249.55" stroke="#000" stroke-width="1.3"/>
<text x="59.40" y="249.75" font-size="8.8" font-weight="bold" text-anchor="end" dominant-baseline="central" fill="#000">5</text>
<line x1="61.20" y1="221.40" x2="65.50" y2="221.40" stroke="#000" stroke-width="1.3"/>
<text x="59.40" y="221.60" font-size="8.8" font-weight="bold" text-anchor="end" dominant-baseline="central" fill="#000">10</text>
<line x1="61.20" y1="193.25" x2="65.50" y2="193.25" stroke="#000" stroke-width="1.3"/>
<text x="59.40" y="193.45" font-size="8.8" font-weight="bold" text-anchor="end" dominant-baseline="central" fill="#000">15</text>
<line x1="61.20" y1="165.10" x2="65.50" y2="165.10" stroke="#000" stroke-width="1.3"/>
<text x="59.40" y="165.30" font-size="8.8" font-weight="bold" text-anchor="end" dominant-baseline="central" fill="#000">20</text>
<line x1="80.20" y1="277.70" x2="80.20" y2="281.70" stroke="#000" stroke-width="1.3"/>
<text x="80.20" y="289.00" font-size="8.5" font-weight="bold" text-anchor="middle" dominant-baseline="central" fill="#000">7</text>
<line x1="103.33" y1="277.70" x2="103.33" y2="281.70" stroke="#000" stroke-width="1.3"/>
<text x="103.33" y="289.00" font-size="8.5" font-weight="bold" text-anchor="middle" dominant-baseline="central" fill="#000">10</text>
<line x1="126.46" y1="277.70" x2="126.46" y2="281.70" stroke="#000" stroke-width="1.3"/>
<text x="126.46" y="289.00" font-size="8.5" font-weight="bold" text-anchor="middle" dominant-baseline="central" fill="#000">13</text>
<line x1="149.59" y1="277.70" x2="149.59" y2="281.70" stroke="#000" stroke-width="1.3"/>
<text x="149.59" y="289.00" font-size="8.5" font-weight="bold" text-anchor="middle" dominant-baseline="central" fill="#000">16</text>
<line x1="172.72" y1="277.70" x2="172.72" y2="281.70" stroke="#000" stroke-width="1.3"/>
<text x="172.72" y="289.00" font-size="8.5" font-weight="bold" text-anchor="middle" dominant-baseline="central" fill="#000">19</text>
<line x1="195.85" y1="277.70" x2="195.85" y2="281.70" stroke="#000" stroke-width="1.3"/>
<text x="195.85" y="289.00" font-size="8.5" font-weight="bold" text-anchor="middle" dominant-baseline="central" fill="#000">22</text>
<line x1="218.98" y1="277.70" x2="218.98" y2="281.70" stroke="#000" stroke-width="1.3"/>
<text x="218.98" y="289.00" font-size="8.5" font-weight="bold" text-anchor="middle" dominant-baseline="central" fill="#000">25</text>
<text x="151.40" y="306.10" font-size="8.5" font-weight="bold" text-anchor="middle" dominant-baseline="central" fill="#000">Days</text>
<text x="44.40" y="222.00" font-size="9.4" font-weight="bold" text-anchor="middle" dominant-baseline="central" fill="#000" transform="rotate(-90 44.4 222)">Body weight (g)</text>
<line x1="80.20" y1="205.64" x2="80.20" y2="194.38" stroke="#ff8a8a" stroke-width="1.0"/>
<line x1="78.00" y1="194.38" x2="82.40" y2="194.38" stroke="#ff8a8a" stroke-width="1.0"/>
<line x1="78.00" y1="205.64" x2="82.40" y2="205.64" stroke="#ff8a8a" stroke-width="1.0"/>
<line x1="103.33" y1="203.38" x2="103.33" y2="191.00" stroke="#ff8a8a" stroke-width="1.0"/>
<line x1="101.13" y1="191.00" x2="105.53" y2="191.00" stroke="#ff8a8a" stroke-width="1.0"/>
<line x1="101.13" y1="203.38" x2="105.53" y2="203.38" stroke="#ff8a8a" stroke-width="1.0"/>
<line x1="126.46" y1="205.07" x2="126.46" y2="191.56" stroke="#ff8a8a" stroke-width="1.0"/>
<line x1="124.26" y1="191.56" x2="128.66" y2="191.56" stroke="#ff8a8a" stroke-width="1.0"/>
<line x1="124.26" y1="205.07" x2="128.66" y2="205.07" stroke="#ff8a8a" stroke-width="1.0"/>
<line x1="149.59" y1="194.38" x2="149.59" y2="185.37" stroke="#ff8a8a" stroke-width="1.0"/>
<line x1="147.39" y1="185.37" x2="151.79" y2="185.37" stroke="#ff8a8a" stroke-width="1.0"/>
<line x1="147.39" y1="194.38" x2="151.79" y2="194.38" stroke="#ff8a8a" stroke-width="1.0"/>
<line x1="172.72" y1="198.32" x2="172.72" y2="184.81" stroke="#ff8a8a" stroke-width="1.0"/>
<line x1="170.52" y1="184.81" x2="174.92" y2="184.81" stroke="#ff8a8a" stroke-width="1.0"/>
<line x1="170.52" y1="198.32" x2="174.92" y2="198.32" stroke="#ff8a8a" stroke-width="1.0"/>
<line x1="195.85" y1="195.50" x2="195.85" y2="185.37" stroke="#ff8a8a" stroke-width="1.0"/>
<line x1="193.65" y1="185.37" x2="198.05" y2="185.37" stroke="#ff8a8a" stroke-width="1.0"/>
<line x1="193.65" y1="195.50" x2="198.05" y2="195.50" stroke="#ff8a8a" stroke-width="1.0"/>
<line x1="218.98" y1="196.06" x2="218.98" y2="187.06" stroke="#ff8a8a" stroke-width="1.0"/>
<line x1="216.78" y1="187.06" x2="221.18" y2="187.06" stroke="#ff8a8a" stroke-width="1.0"/>
<line x1="216.78" y1="196.06" x2="221.18" y2="196.06" stroke="#ff8a8a" stroke-width="1.0"/>
<line x1="80.20" y1="206.20" x2="80.20" y2="190.44" stroke="#c58af5" stroke-width="1.0"/>
<line x1="78.00" y1="190.44" x2="82.40" y2="190.44" stroke="#c58af5" stroke-width="1.0"/>
<line x1="78.00" y1="206.20" x2="82.40" y2="206.20" stroke="#c58af5" stroke-width="1.0"/>
<line x1="103.33" y1="200.57" x2="103.33" y2="185.93" stroke="#c58af5" stroke-width="1.0"/>
<line x1="101.13" y1="185.93" x2="105.53" y2="185.93" stroke="#c58af5" stroke-width="1.0"/>
<line x1="101.13" y1="200.57" x2="105.53" y2="200.57" stroke="#c58af5" stroke-width="1.0"/>
<line x1="126.46" y1="201.69" x2="126.46" y2="188.18" stroke="#c58af5" stroke-width="1.0"/>
<line x1="124.26" y1="188.18" x2="128.66" y2="188.18" stroke="#c58af5" stroke-width="1.0"/>
<line x1="124.26" y1="201.69" x2="128.66" y2="201.69" stroke="#c58af5" stroke-width="1.0"/>
<line x1="149.59" y1="193.81" x2="149.59" y2="183.68" stroke="#c58af5" stroke-width="1.0"/>
<line x1="147.39" y1="183.68" x2="151.79" y2="183.68" stroke="#c58af5" stroke-width="1.0"/>
<line x1="147.39" y1="193.81" x2="151.79" y2="193.81" stroke="#c58af5" stroke-width="1.0"/>
<line x1="172.72" y1="197.19" x2="172.72" y2="185.93" stroke="#c58af5" stroke-width="1.0"/>
<line x1="170.52" y1="185.93" x2="174.92" y2="185.93" stroke="#c58af5" stroke-width="1.0"/>
<line x1="170.52" y1="197.19" x2="174.92" y2="197.19" stroke="#c58af5" stroke-width="1.0"/>
<line x1="195.85" y1="198.88" x2="195.85" y2="185.37" stroke="#c58af5" stroke-width="1.0"/>
<line x1="193.65" y1="185.37" x2="198.05" y2="185.37" stroke="#c58af5" stroke-width="1.0"/>
<line x1="193.65" y1="198.88" x2="198.05" y2="198.88" stroke="#c58af5" stroke-width="1.0"/>
<line x1="218.98" y1="201.13" x2="218.98" y2="189.87" stroke="#c58af5" stroke-width="1.0"/>
<line x1="216.78" y1="189.87" x2="221.18" y2="189.87" stroke="#c58af5" stroke-width="1.0"/>
<line x1="216.78" y1="201.13" x2="221.18" y2="201.13" stroke="#c58af5" stroke-width="1.0"/>
<line x1="80.20" y1="207.89" x2="80.20" y2="189.87" stroke="#5d5" stroke-width="1.0"/>
<line x1="78.00" y1="189.87" x2="82.40" y2="189.87" stroke="#5d5" stroke-width="1.0"/>
<line x1="78.00" y1="207.89" x2="82.40" y2="207.89" stroke="#5d5" stroke-width="1.0"/>
<line x1="103.33" y1="205.07" x2="103.33" y2="189.31" stroke="#5d5" stroke-width="1.0"/>
<line x1="101.13" y1="189.31" x2="105.53" y2="189.31" stroke="#5d5" stroke-width="1.0"/>
<line x1="101.13" y1="205.07" x2="105.53" y2="205.07" stroke="#5d5" stroke-width="1.0"/>
<line x1="126.46" y1="200.57" x2="126.46" y2="189.31" stroke="#5d5" stroke-width="1.0"/>
<line x1="124.26" y1="189.31" x2="128.66" y2="189.31" stroke="#5d5" stroke-width="1.0"/>
<line x1="124.26" y1="200.57" x2="128.66" y2="200.57" stroke="#5d5" stroke-width="1.0"/>
<line x1="149.59" y1="200.57" x2="149.59" y2="185.93" stroke="#5d5" stroke-width="1.0"/>
<line x1="147.39" y1="185.93" x2="151.79" y2="185.93" stroke="#5d5" stroke-width="1.0"/>
<line x1="147.39" y1="200.57" x2="151.79" y2="200.57" stroke="#5d5" stroke-width="1.0"/>
<line x1="172.72" y1="194.38" x2="172.72" y2="185.37" stroke="#5d5" stroke-width="1.0"/>
<line x1="170.52" y1="185.37" x2="174.92" y2="185.37" stroke="#5d5" stroke-width="1.0"/>
<line x1="170.52" y1="194.38" x2="174.92" y2="194.38" stroke="#5d5" stroke-width="1.0"/>
<line x1="195.85" y1="192.69" x2="195.85" y2="183.68" stroke="#5d5" stroke-width="1.0"/>
<line x1="193.65" y1="183.68" x2="198.05" y2="183.68" stroke="#5d5" stroke-width="1.0"/>
<line x1="193.65" y1="192.69" x2="198.05" y2="192.69" stroke="#5d5" stroke-width="1.0"/>
<line x1="218.98" y1="188.75" x2="218.98" y2="179.74" stroke="#5d5" stroke-width="1.0"/>
<line x1="216.78" y1="179.74" x2="221.18" y2="179.74" stroke="#5d5" stroke-width="1.0"/>
<line x1="216.78" y1="188.75" x2="221.18" y2="188.75" stroke="#5d5" stroke-width="1.0"/>
<line x1="80.20" y1="205.64" x2="80.20" y2="192.12" stroke="#333" stroke-width="1.0"/>
<line x1="78.00" y1="192.12" x2="82.40" y2="192.12" stroke="#333" stroke-width="1.0"/>
<line x1="78.00" y1="205.64" x2="82.40" y2="205.64" stroke="#333" stroke-width="1.0"/>
<line x1="103.33" y1="202.82" x2="103.33" y2="192.69" stroke="#333" stroke-width="1.0"/>
<line x1="101.13" y1="192.69" x2="105.53" y2="192.69" stroke="#333" stroke-width="1.0"/>
<line x1="101.13" y1="202.82" x2="105.53" y2="202.82" stroke="#333" stroke-width="1.0"/>
<line x1="126.46" y1="189.31" x2="126.46" y2="182.55" stroke="#333" stroke-width="1.0"/>
<line x1="124.26" y1="182.55" x2="128.66" y2="182.55" stroke="#333" stroke-width="1.0"/>
<line x1="124.26" y1="189.31" x2="128.66" y2="189.31" stroke="#333" stroke-width="1.0"/>
<line x1="149.59" y1="189.31" x2="149.59" y2="181.43" stroke="#333" stroke-width="1.0"/>
<line x1="147.39" y1="181.43" x2="151.79" y2="181.43" stroke="#333" stroke-width="1.0"/>
<line x1="147.39" y1="189.31" x2="151.79" y2="189.31" stroke="#333" stroke-width="1.0"/>
<line x1="172.72" y1="187.06" x2="172.72" y2="180.30" stroke="#333" stroke-width="1.0"/>
<line x1="170.52" y1="180.30" x2="174.92" y2="180.30" stroke="#333" stroke-width="1.0"/>
<line x1="170.52" y1="187.06" x2="174.92" y2="187.06" stroke="#333" stroke-width="1.0"/>
<line x1="195.85" y1="188.18" x2="195.85" y2="178.05" stroke="#333" stroke-width="1.0"/>
<line x1="193.65" y1="178.05" x2="198.05" y2="178.05" stroke="#333" stroke-width="1.0"/>
<line x1="193.65" y1="188.18" x2="198.05" y2="188.18" stroke="#333" stroke-width="1.0"/>
<line x1="218.98" y1="182.55" x2="218.98" y2="176.92" stroke="#333" stroke-width="1.0"/>
<line x1="216.78" y1="176.92" x2="221.18" y2="176.92" stroke="#333" stroke-width="1.0"/>
<line x1="216.78" y1="182.55" x2="221.18" y2="182.55" stroke="#333" stroke-width="1.0"/>
<polyline points="80.20,200.01 103.33,197.19 126.46,198.32 149.59,189.87 172.72,191.56 195.85,190.44 218.98,191.56" stroke="#ff5050" stroke-width="1.3" fill="none"/>
<path d="M77.78,198.33 L82.62,198.33 L80.20,202.53 Z" fill="#ff5050"/>
<path d="M100.91,195.51 L105.75,195.51 L103.33,199.71 Z" fill="#ff5050"/>
<path d="M124.05,196.64 L128.88,196.64 L126.46,200.84 Z" fill="#ff5050"/>
<path d="M147.18,188.19 L152.00,188.19 L149.59,192.39 Z" fill="#ff5050"/>
<path d="M170.31,189.88 L175.13,189.88 L172.72,194.08 Z" fill="#ff5050"/>
<path d="M193.44,188.75 L198.26,188.75 L195.85,192.96 Z" fill="#ff5050"/>
<path d="M216.57,189.88 L221.40,189.88 L218.98,194.08 Z" fill="#ff5050"/>
<polyline points="80.20,198.32 103.33,193.25 126.46,194.94 149.59,188.75 172.72,191.56 195.85,192.12 218.98,195.50" stroke="#a020f0" stroke-width="1.3" fill="none"/>
<path d="M77.78,200.00 L82.62,200.00 L80.20,195.80 Z" fill="#a020f0"/>
<path d="M100.91,194.93 L105.75,194.93 L103.33,190.73 Z" fill="#a020f0"/>
<path d="M124.05,196.62 L128.88,196.62 L126.46,192.42 Z" fill="#a020f0"/>
<path d="M147.18,190.43 L152.00,190.43 L149.59,186.23 Z" fill="#a020f0"/>
<path d="M170.31,193.24 L175.13,193.24 L172.72,189.04 Z" fill="#a020f0"/>
<path d="M193.44,193.80 L198.26,193.80 L195.85,189.60 Z" fill="#a020f0"/>
<path d="M216.57,197.18 L221.40,197.18 L218.98,192.98 Z" fill="#a020f0"/>
<polyline points="80.20,198.88 103.33,197.19 126.46,194.94 149.59,193.25 172.72,189.87 195.85,188.18 218.98,184.24" stroke="#19c819" stroke-width="1.3" fill="none"/>
<rect x="78.10" y="196.78" width="4.20" height="4.20" fill="#19c819" stroke="none" stroke-width="0"/>
<rect x="101.23" y="195.09" width="4.20" height="4.20" fill="#19c819" stroke="none" stroke-width="0"/>
<rect x="124.36" y="192.84" width="4.20" height="4.20" fill="#19c819" stroke="none" stroke-width="0"/>
<rect x="147.49" y="191.15" width="4.20" height="4.20" fill="#19c819" stroke="none" stroke-width="0"/>
<rect x="170.62" y="187.77" width="4.20" height="4.20" fill="#19c819" stroke="none" stroke-width="0"/>
<rect x="193.75" y="186.08" width="4.20" height="4.20" fill="#19c819" stroke="none" stroke-width="0"/>
<rect x="216.88" y="182.14" width="4.20" height="4.20" fill="#19c819" stroke="none" stroke-width="0"/>
<polyline points="80.20,198.88 103.33,197.75 126.46,185.93 149.59,185.37 172.72,183.68 195.85,183.12 218.98,179.74" stroke="#000000" stroke-width="1.3" fill="none"/>
<circle cx="80.20" cy="198.88" r="2.30" fill="#000000"/>
<circle cx="103.33" cy="197.75" r="2.30" fill="#000000"/>
<circle cx="126.46" cy="185.93" r="2.30" fill="#000000"/>
<circle cx="149.59" cy="185.37" r="2.30" fill="#000000"/>
<circle cx="172.72" cy="183.68" r="2.30" fill="#000000"/>
<circle cx="195.85" cy="183.12" r="2.30" fill="#000000"/>
<circle cx="218.98" cy="179.74" r="2.30" fill="#000000"/>
<line x1="93.30" y1="220.70" x2="105.00" y2="220.70" stroke="#000000" stroke-width="1.3"/>
<circle cx="99.10" cy="220.70" r="2.30" fill="#000000"/>
<text x="111.90" y="220.70" font-size="7.85" font-weight="bold" text-anchor="start" dominant-baseline="central" fill="#000">Control</text>
<line x1="93.30" y1="230.80" x2="105.00" y2="230.80" stroke="#19c819" stroke-width="1.3"/>
<rect x="97.00" y="228.70" width="4.20" height="4.20" fill="#19c819" stroke="none" stroke-width="0"/>
<text x="111.90" y="230.80" font-size="7.85" font-weight="bold" text-anchor="start" dominant-baseline="central" fill="#000">8a (20 mg/kg)</text>
<line x1="93.30" y1="241.30" x2="105.00" y2="241.30" stroke="#a020f0" stroke-width="1.3"/>
<path d="M96.68,242.98 L101.52,242.98 L99.10,238.78 Z" fill="#a020f0"/>
<text x="111.90" y="241.30" font-size="7.85" font-weight="bold" text-anchor="start" dominant-baseline="central" fill="#000">GEM (10 mg/kg)</text>
<line x1="93.30" y1="252.20" x2="105.00" y2="252.20" stroke="#ff5050" stroke-width="1.3"/>
<path d="M96.68,250.52 L101.52,250.52 L99.10,254.72 Z" fill="#ff5050"/>
<text x="111.90" y="252.20" font-size="7.85" font-weight="bold" text-anchor="start" dominant-baseline="central" fill="#000">8a (20 mg/kg)+GEM (10 mg/kg)</text>
<path d="M223.5,177.7 H228 V197.2 H223.5" stroke="#000" stroke-width="1.3" fill="none"/>
<text x="236.80" y="188.00" font-size="9.5" font-weight="bold" text-anchor="middle" dominant-baseline="central" fill="#000">ns</text>
<svg x="344" y="182.1" width="79.8" height="53.2" overflow="hidden"><g filter="url(#desat)">
<rect x="-4" y="-4" width="87.8" height="61.2" fill="#c09464"/>
<rect x="-4" y="-4" width="87.8" height="61.2" filter="url(#nz11_0)"/>
<rect x="-4" y="-4" width="87.8" height="61.2" filter="url(#nz11_1)"/>
<g filter="url(#soft)">
<circle cx="36.1" cy="29.8" r="1.2" fill="#5e2e0c" opacity="0.71"/>
<circle cx="40.5" cy="31.2" r="0.7" fill="#5e2e0c" opacity="0.73"/>
<circle cx="50.3" cy="42.2" r="0.7" fill="#5e2e0c" opacity="0.64"/>
<circle cx="7.2" cy="43.1" r="1.1" fill="#5e2e0c" opacity="0.52"/>
<circle cx="78.4" cy="51.3" r="1.1" fill="#5e2e0c" opacity="0.78"/>
<circle cx="12.6" cy="0.8" r="1.0" fill="#5e2e0c" opacity="0.53"/>
<circle cx="15.2" cy="12.9" r="0.6" fill="#5e2e0c" opacity="0.71"/>
<circle cx="35.2" cy="44.8" r="1.0" fill="#5e2e0c" opacity="0.79"/>
<circle cx="39.9" cy="35.2" r="0.9" fill="#5e2e0c" opacity="0.63"/>
<circle cx="79.6" cy="53.0" r="1.2" fill="#5e2e0c" opacity="0.82"/>
<circle cx="25.2" cy="12.2" r="0.8" fill="#5e2e0c" opacity="0.53"/>
<circle cx="61.1" cy="21.3" r="1.2" fill="#5e2e0c" opacity="0.67"/>
<circle cx="76.5" cy="45.1" r="0.6" fill="#5e2e0c" opacity="0.59"/>
<circle cx="72.6" cy="25.0" r="1.3" fill="#5e2e0c" opacity="0.68"/>
<circle cx="5.8" cy="33.5" r="1.1" fill="#5e2e0c" opacity="0.62"/>
<circle cx="7.0" cy="17.7" r="1.3" fill="#5e2e0c" opacity="0.84"/>
<circle cx="9.4" cy="13.1" r="0.7" fill="#5e2e0c" opacity="0.53"/>
<circle cx="63.6" cy="9.5" r="1.0" fill="#5e2e0c" opacity="0.70"/>
<circle cx="15.2" cy="38.9" r="0.7" fill="#5e2e0c" opacity="0.79"/>
<circle cx="9.3" cy="22.4" r="0.7" fill="#5e2e0c" opacity="0.62"/>
<circle cx="77.5" cy="42.7" r="0.8" fill="#5e2e0c" opacity="0.90"/>
<circle cx="16.8" cy="21.0" r="1.2" fill="#5e2e0c" opacity="0.79"/>
<circle cx="8.0" cy="52.6" r="0.7" fill="#5e2e0c" opacity="0.62"/>
<circle cx="61.7" cy="17.5" r="0.8" fill="#5e2e0c" opacity="0.53"/>
<circle cx="7.2" cy="31.0" r="0.8" fill="#5e2e0c" opacity="0.77"/>
<circle cx="29.7" cy="24.1" r="1.3" fill="#5e2e0c" opacity="0.72"/>
<circle cx="45.9" cy="46.1" r="0.7" fill="#5e2e0c" opacity="0.57"/>
<circle cx="72.5" cy="43.5" r="0.8" fill="#5e2e0c" opacity="0.59"/>
<circle cx="59.0" cy="50.0" r="0.7" fill="#5e2e0c" opacity="0.93"/>
<circle cx="70.4" cy="32.1" r="0.9" fill="#5e2e0c" opacity="0.55"/>
<circle cx="3.1" cy="51.2" r="0.8" fill="#5e2e0c" opacity="0.82"/>
<circle cx="20.5" cy="43.8" r="1.0" fill="#5e2e0c" opacity="0.63"/>
<circle cx="14.0" cy="38.3" r="0.6" fill="#5e2e0c" opacity="0.60"/>
<circle cx="44.6" cy="45.3" r="1.0" fill="#5e2e0c" opacity="0.63"/>
<circle cx="73.2" cy="10.9" r="0.6" fill="#5e2e0c" opacity="0.62"/>
<circle cx="35.6" cy="3.2" r="0.7" fill="#5e2e0c" opacity="0.67"/>
<circle cx="45.7" cy="7.0" r="0.9" fill="#5e2e0c" opacity="0.90"/>
<circle cx="78.2" cy="34.9" r="1.1" fill="#5e2e0c" opacity="0.76"/>
<circle cx="11.2" cy="1.9" r="0.6" fill="#5e2e0c" opacity="0.91"/>
<circle cx="55.9" cy="51.2" r="0.6" fill="#5e2e0c" opacity="0.79"/>
<circle cx="38.5" cy="38.9" r="0.8" fill="#5e2e0c" opacity="0.95"/>
<circle cx="6.0" cy="29.1" r="1.1" fill="#5e2e0c" opacity="0.91"/>
<circle cx="58.8" cy="37.4" r="1.2" fill="#5e2e0c" opacity="0.91"/>
<circle cx="28.1" cy="36.4" r="1.2" fill="#5e2e0c" opacity="0.89"/>
<circle cx="33.3" cy="42.1" r="1.2" fill="#5e2e0c" opacity="0.76"/>
<circle cx="49.9" cy="20.3" r="1.0" fill="#5e2e0c" opacity="0.77"/>
<circle cx="6.4" cy="34.0" r="1.3" fill="#5e2e0c" opacity="0.90"/>
<circle cx="58.1" cy="20.7" r="1.1" fill="#5e2e0c" opacity="0.76"/>
<circle cx="35.2" cy="44.6" r="0.7" fill="#5e2e0c" opacity="0.84"/>
<circle cx="2.4" cy="32.0" r="0.9" fill="#5e2e0c" opacity="0.60"/>
<circle cx="55.7" cy="26.5" r="1.0" fill="#5e2e0c" opacity="0.91"/>
<circle cx="20.4" cy="0.6" r="0.8" fill="#5e2e0c" opacity="0.81"/>
<circle cx="16.2" cy="9.0" r="1.2" fill="#5e2e0c" opacity="0.80"/>
<circle cx="35.3" cy="47.4" r="0.8" fill="#5e2e0c" opacity="0.80"/>
<circle cx="15.8" cy="22.9" r="1.2" fill="#5e2e0c" opacity="0.91"/>
<circle cx="70.2" cy="20.5" r="1.0" fill="#5e2e0c" opacity="0.64"/>
<circle cx="10.9" cy="26.4" r="1.2" fill="#5e2e0c" opacity="0.88"/>
<circle cx="56.8" cy="50.5" r="0.8" fill="#5e2e0c" opacity="0.58"/>
<circle cx="36.0" cy="14.6" r="0.7" fill="#5e2e0c" opacity="0.69"/>
<circle cx="49.9" cy="26.3" r="0.8" fill="#5e2e0c" opacity="0.88"/>
<circle cx="78.4" cy="24.1" r="0.7" fill="#5e2e0c" opacity="0.51"/>
<circle cx="69.7" cy="2.2" r="1.1" fill="#5e2e0c" opacity="0.76"/>
<circle cx="24.7" cy="42.1" r="0.6" fill="#5e2e0c" opacity="0.56"/>
<circle cx="36.3" cy="1.3" r="1.2" fill="#5e2e0c" opacity="0.61"/>
<circle cx="11.2" cy="2.5" r="1.0" fill="#5e2e0c" opacity="0.70"/>
<circle cx="50.3" cy="34.8" r="1.2" fill="#5e2e0c" opacity="0.93"/>
<circle cx="54.6" cy="10.6" r="0.9" fill="#5e2e0c" opacity="0.58"/>
<circle cx="0.9" cy="25.1" r="1.1" fill="#5e2e0c" opacity="0.58"/>
<circle cx="21.7" cy="18.4" r="1.1" fill="#5e2e0c" opacity="0.73"/>
<circle cx="49.0" cy="40.2" r="0.9" fill="#5e2e0c" opacity="0.86"/>
<circle cx="72.3" cy="4.6" r="1.3" fill="#5e2e0c" opacity="0.83"/>
<circle cx="10.4" cy="24.1" r="1.0" fill="#5e2e0c" opacity="0.91"/>
<circle cx="30.1" cy="30.3" r="1.2" fill="#5e2e0c" opacity="0.86"/>
<circle cx="75.4" cy="24.7" r="1.1" fill="#5e2e0c" opacity="0.59"/>
<circle cx="57.6" cy="43.5" r="1.0" fill="#5e2e0c" opacity="0.82"/>
<circle cx="17.0" cy="47.9" r="1.3" fill="#5e2e0c" opacity="0.94"/>
<circle cx="42.8" cy="42.1" r="0.8" fill="#5e2e0c" opacity="0.91"/>
<circle cx="68.3" cy="18.5" r="0.7" fill="#5e2e0c" opacity="0.70"/>
<circle cx="43.9" cy="40.9" r="0.9" fill="#5e2e0c" opacity="0.51"/>
<circle cx="64.6" cy="3.4" r="1.2" fill="#5e2e0c" opacity="0.58"/>
<circle cx="26.7" cy="41.9" r="0.7" fill="#5e2e0c" opacity="0.57"/>
<circle cx="41.2" cy="38.5" r="1.2" fill="#5e2e0c" opacity="0.81"/>
<circle cx="75.5" cy="26.2" r="1.3" fill="#5e2e0c" opacity="0.54"/>
<circle cx="17.7" cy="28.0" r="0.8" fill="#5e2e0c" opacity="0.83"/>
<circle cx="51.0" cy="27.8" r="1.2" fill="#5e2e0c" opacity="0.75"/>
<circle cx="24.9" cy="20.3" r="1.2" fill="#5e2e0c" opacity="0.91"/>
<circle cx="16.6" cy="45.3" r="1.3" fill="#5e2e0c" opacity="0.74"/>
<circle cx="45.7" cy="10.7" r="1.0" fill="#5e2e0c" opacity="0.73"/>
<circle cx="48.3" cy="1.5" r="1.3" fill="#5e2e0c" opacity="0.73"/>
<circle cx="32.0" cy="42.6" r="1.0" fill="#5e2e0c" opacity="0.72"/>
<circle cx="55.1" cy="3.5" r="1.0" fill="#5e2e0c" opacity="0.69"/>
<circle cx="76.4" cy="49.1" r="0.8" fill="#5e2e0c" opacity="0.71"/>
<circle cx="10.1" cy="23.1" r="1.2" fill="#5e2e0c" opacity="0.91"/>
<circle cx="38.0" cy="16.9" r="0.7" fill="#5e2e0c" opacity="0.78"/>
<circle cx="73.8" cy="6.9" r="1.1" fill="#5e2e0c" opacity="0.51"/>
<circle cx="15.5" cy="12.1" r="1.1" fill="#5e2e0c" opacity="0.64"/>
<circle cx="28.4" cy="33.0" r="0.7" fill="#5e2e0c" opacity="0.83"/>
<circle cx="9.8" cy="27.2" r="0.8" fill="#5e2e0c" opacity="0.59"/>
<circle cx="42.3" cy="23.2" r="0.9" fill="#5e2e0c" opacity="0.69"/>
<circle cx="42.2" cy="8.5" r="0.7" fill="#5e2e0c" opacity="0.78"/>
<circle cx="50.9" cy="28.2" r="1.2" fill="#5e2e0c" opacity="0.78"/>
<circle cx="68.4" cy="12.4" r="1.1" fill="#5e2e0c" opacity="0.86"/>
<circle cx="72.0" cy="16.8" r="0.8" fill="#5e2e0c" opacity="0.92"/>
<circle cx="17.4" cy="53.1" r="1.2" fill="#5e2e0c" opacity="0.56"/>
<circle cx="19.1" cy="38.7" r="0.8" fill="#5e2e0c" opacity="0.54"/>
<circle cx="66.4" cy="22.4" r="1.2" fill="#5e2e0c" opacity="0.56"/>
<circle cx="32.1" cy="36.5" r="0.6" fill="#5e2e0c" opacity="0.59"/>
<circle cx="54.5" cy="48.5" r="1.3" fill="#5e2e0c" opacity="0.55"/>
<circle cx="40.4" cy="40.3" r="1.0" fill="#5e2e0c" opacity="0.81"/>
<circle cx="15.1" cy="3.8" r="0.7" fill="#5e2e0c" opacity="0.52"/>
<circle cx="44.0" cy="27.4" r="1.0" fill="#5e2e0c" opacity="0.57"/>
<circle cx="14.7" cy="10.8" r="1.2" fill="#5e2e0c" opacity="0.95"/>
<circle cx="74.0" cy="5.1" r="0.6" fill="#5e2e0c" opacity="0.93"/>
<circle cx="36.9" cy="40.7" r="0.8" fill="#5e2e0c" opacity="0.71"/>
<circle cx="41.1" cy="22.9" r="1.0" fill="#5e2e0c" opacity="0.51"/>
<circle cx="55.9" cy="44.9" r="0.7" fill="#5e2e0c" opacity="0.70"/>
<circle cx="59.0" cy="21.6" r="0.7" fill="#5e2e0c" opacity="0.57"/>
<circle cx="40.9" cy="0.8" r="1.2" fill="#5e2e0c" opacity="0.86"/>
<circle cx="56.2" cy="45.8" r="1.0" fill="#5e2e0c" opacity="0.68"/>
<circle cx="47.8" cy="26.8" r="1.3" fill="#5e2e0c" opacity="0.86"/>
<circle cx="20.6" cy="48.5" r="1.1" fill="#5e2e0c" opacity="0.85"/>
<circle cx="65.0" cy="21.6" r="1.2" fill="#5e2e0c" opacity="0.90"/>
<circle cx="55.4" cy="40.8" r="1.1" fill="#5e2e0c" opacity="0.68"/>
<circle cx="57.7" cy="3.8" r="0.8" fill="#5e2e0c" opacity="0.71"/>
<circle cx="0.8" cy="18.9" r="1.0" fill="#5e2e0c" opacity="0.78"/>
<circle cx="18.5" cy="50.3" r="1.1" fill="#5e2e0c" opacity="0.65"/>
<circle cx="52.6" cy="30.3" r="1.0" fill="#5e2e0c" opacity="0.68"/>
<circle cx="79.8" cy="34.2" r="1.1" fill="#5e2e0c" opacity="0.84"/>
<circle cx="78.2" cy="1.2" r="1.0" fill="#5e2e0c" opacity="0.83"/>
<circle cx="20.5" cy="21.4" r="0.6" fill="#5e2e0c" opacity="0.59"/>
<circle cx="30.0" cy="5.2" r="0.8" fill="#5e2e0c" opacity="0.91"/>
<circle cx="43.9" cy="27.0" r="1.3" fill="#5e2e0c" opacity="0.76"/>
<circle cx="79.4" cy="33.9" r="1.2" fill="#5e2e0c" opacity="0.53"/>
<circle cx="47.7" cy="40.4" r="0.6" fill="#5e2e0c" opacity="0.92"/>
<circle cx="12.8" cy="25.1" r="0.7" fill="#5e2e0c" opacity="0.72"/>
<circle cx="48.8" cy="3.1" r="1.3" fill="#5e2e0c" opacity="0.69"/>
<circle cx="42.0" cy="31.8" r="0.9" fill="#5e2e0c" opacity="0.63"/>
<circle cx="52.3" cy="29.8" r="0.8" fill="#5e2e0c" opacity="0.82"/>
<circle cx="23.6" cy="0.7" r="0.8" fill="#5e2e0c" opacity="0.52"/>
<circle cx="12.5" cy="40.1" r="0.9" fill="#5e2e0c" opacity="0.90"/>
<circle cx="59.7" cy="2.7" r="1.3" fill="#5e2e0c" opacity="0.93"/>
<circle cx="5.9" cy="48.2" r="0.9" fill="#5e2e0c" opacity="0.71"/>
<circle cx="77.7" cy="13.0" r="1.0" fill="#5e2e0c" opacity="0.92"/>
<circle cx="57.7" cy="24.9" r="1.3" fill="#5e2e0c" opacity="0.87"/>
<circle cx="48.2" cy="6.1" r="1.0" fill="#5e2e0c" opacity="0.71"/>
<circle cx="16.3" cy="2.8" r="1.0" fill="#5e2e0c" opacity="0.56"/>
<circle cx="35.3" cy="35.5" r="0.9" fill="#5e2e0c" opacity="0.62"/>
<circle cx="46.5" cy="22.3" r="1.1" fill="#5e2e0c" opacity="0.74"/>
<circle cx="79.6" cy="50.7" r="1.1" fill="#5e2e0c" opacity="0.61"/>
<circle cx="9.1" cy="47.5" r="1.1" fill="#5e2e0c" opacity="0.78"/>
<circle cx="28.7" cy="14.4" r="1.1" fill="#5e2e0c" opacity="0.75"/>
<circle cx="47.2" cy="33.7" r="1.1" fill="#5e2e0c" opacity="0.59"/>
<circle cx="19.9" cy="52.1" r="1.2" fill="#5e2e0c" opacity="0.90"/>
<circle cx="3.2" cy="3.2" r="0.8" fill="#5e2e0c" opacity="0.69"/>
<circle cx="49.7" cy="5.5" r="1.0" fill="#5e2e0c" opacity="0.53"/>
<circle cx="6.9" cy="36.0" r="1.0" fill="#5e2e0c" opacity="0.78"/>
<circle cx="29.8" cy="25.5" r="0.7" fill="#5e2e0c" opacity="0.65"/>
<circle cx="59.4" cy="44.6" r="0.7" fill="#5e2e0c" opacity="0.55"/>
<circle cx="64.6" cy="33.2" r="1.1" fill="#5e2e0c" opacity="0.60"/>
<circle cx="33.9" cy="13.7" r="1.2" fill="#5e2e0c" opacity="0.67"/>
<circle cx="52.2" cy="52.6" r="0.8" fill="#5e2e0c" opacity="0.75"/>
<circle cx="59.5" cy="49.0" r="0.9" fill="#5e2e0c" opacity="0.67"/>
<circle cx="7.7" cy="46.6" r="0.7" fill="#5e2e0c" opacity="0.54"/>
<circle cx="45.0" cy="25.8" r="1.1" fill="#5e2e0c" opacity="0.63"/>
<circle cx="61.9" cy="4.0" r="0.7" fill="#5e2e0c" opacity="0.80"/>
<circle cx="6.5" cy="16.2" r="1.1" fill="#5e2e0c" opacity="0.81"/>
<circle cx="22.6" cy="7.6" r="0.9" fill="#5e2e0c" opacity="0.83"/>
<circle cx="29.2" cy="6.2" r="1.1" fill="#5e2e0c" opacity="0.76"/>
<circle cx="73.3" cy="50.0" r="1.2" fill="#5e2e0c" opacity="0.70"/>
<circle cx="64.1" cy="16.2" r="0.8" fill="#5e2e0c" opacity="0.68"/>
<circle cx="74.6" cy="47.6" r="0.8" fill="#5e2e0c" opacity="0.66"/>
<circle cx="29.2" cy="19.3" r="0.9" fill="#5e2e0c" opacity="0.67"/>
<circle cx="15.6" cy="30.0" r="1.2" fill="#5e2e0c" opacity="0.74"/>
<circle cx="66.7" cy="29.9" r="0.7" fill="#5e2e0c" opacity="0.84"/>
<circle cx="70.3" cy="15.0" r="0.6" fill="#5e2e0c" opacity="0.73"/>
<circle cx="43.4" cy="30.2" r="1.3" fill="#5e2e0c" opacity="0.79"/>
<circle cx="64.2" cy="3.4" r="1.0" fill="#5e2e0c" opacity="0.85"/>
<circle cx="6.7" cy="4.3" r="1.1" fill="#5e2e0c" opacity="0.90"/>
<circle cx="6.8" cy="33.7" r="0.7" fill="#5e2e0c" opacity="0.84"/>
<circle cx="51.8" cy="13.1" r="0.8" fill="#5e2e0c" opacity="0.84"/>
<circle cx="41.6" cy="40.7" r="0.9" fill="#5e2e0c" opacity="0.65"/>
<circle cx="77.3" cy="35.8" r="0.9" fill="#5e2e0c" opacity="0.74"/>
<circle cx="57.5" cy="37.7" r="1.2" fill="#5e2e0c" opacity="0.68"/>
<circle cx="65.9" cy="35.5" r="1.2" fill="#5e2e0c" opacity="0.86"/>
<circle cx="66.5" cy="47.3" r="1.3" fill="#5e2e0c" opacity="0.79"/>
<circle cx="41.8" cy="37.8" r="1.2" fill="#5e2e0c" opacity="0.69"/>
<circle cx="33.6" cy="7.8" r="1.1" fill="#5e2e0c" opacity="0.95"/>
<circle cx="30.0" cy="8.9" r="0.7" fill="#5e2e0c" opacity="0.69"/>
<circle cx="23.3" cy="51.6" r="0.6" fill="#5e2e0c" opacity="0.64"/>
<circle cx="9.2" cy="34.5" r="1.1" fill="#5e2e0c" opacity="0.58"/>
<circle cx="5.0" cy="24.4" r="1.0" fill="#5e2e0c" opacity="0.91"/>
<circle cx="2.9" cy="5.8" r="0.7" fill="#5e2e0c" opacity="0.60"/>
<circle cx="18.8" cy="38.2" r="1.0" fill="#5e2e0c" opacity="0.60"/>
<circle cx="14.8" cy="15.0" r="0.7" fill="#5e2e0c" opacity="0.84"/>
<circle cx="24.9" cy="29.2" r="1.2" fill="#5e2e0c" opacity="0.72"/>
<circle cx="20.8" cy="47.2" r="1.2" fill="#5e2e0c" opacity="0.65"/>
<circle cx="43.7" cy="50.9" r="0.9" fill="#5e2e0c" opacity="0.60"/>
<circle cx="4.0" cy="50.4" r="1.2" fill="#5e2e0c" opacity="0.67"/>
<circle cx="42.1" cy="27.4" r="0.8" fill="#5e2e0c" opacity="0.95"/>
<circle cx="52.5" cy="12.6" r="0.6" fill="#5e2e0c" opacity="0.71"/>
</g></g>
<rect x="67.8" y="49.0" width="7" height="1.3" fill="#e83a3a"/>
</svg>
<svg x="428.6" y="182.1" width="79.8" height="53.2" overflow="hidden"><g filter="url(#desat)">
<rect x="-4" y="-4" width="87.8" height="61.2" fill="#c4a276"/>
<rect x="-4" y="-4" width="87.8" height="61.2" filter="url(#nz12_0)"/>
<rect x="-4" y="-4" width="87.8" height="61.2" filter="url(#nz12_1)"/>
<g filter="url(#soft)">
<circle cx="37.9" cy="35.0" r="1.1" fill="#60300e" opacity="0.56"/>
<circle cx="0.9" cy="19.9" r="0.8" fill="#60300e" opacity="0.86"/>
<circle cx="55.1" cy="32.0" r="1.0" fill="#60300e" opacity="0.80"/>
<circle cx="11.6" cy="23.4" r="0.7" fill="#60300e" opacity="0.91"/>
<circle cx="4.7" cy="43.6" r="0.7" fill="#60300e" opacity="0.81"/>
<circle cx="26.9" cy="21.5" r="1.2" fill="#60300e" opacity="0.51"/>
<circle cx="4.9" cy="48.7" r="1.0" fill="#60300e" opacity="0.54"/>
<circle cx="78.8" cy="50.4" r="0.7" fill="#60300e" opacity="0.69"/>
<circle cx="10.8" cy="16.6" r="1.0" fill="#60300e" opacity="0.57"/>
<circle cx="55.6" cy="2.7" r="0.7" fill="#60300e" opacity="0.87"/>
<circle cx="32.0" cy="22.3" r="1.0" fill="#60300e" opacity="0.71"/>
<circle cx="30.7" cy="1.6" r="1.1" fill="#60300e" opacity="0.94"/>
<circle cx="77.9" cy="35.3" r="0.8" fill="#60300e" opacity="0.66"/>
<circle cx="55.1" cy="35.8" r="0.7" fill="#60300e" opacity="0.61"/>
<circle cx="29.0" cy="27.2" r="1.2" fill="#60300e" opacity="0.73"/>
<circle cx="2.2" cy="43.8" r="0.9" fill="#60300e" opacity="0.73"/>
<circle cx="17.7" cy="22.7" r="0.9" fill="#60300e" opacity="0.85"/>
<circle cx="8.2" cy="29.3" r="0.7" fill="#60300e" opacity="0.81"/>
<circle cx="2.9" cy="14.7" r="0.8" fill="#60300e" opacity="0.79"/>
<circle cx="4.2" cy="24.4" r="0.7" fill="#60300e" opacity="0.63"/>
<circle cx="38.0" cy="51.0" r="0.9" fill="#60300e" opacity="0.93"/>
<circle cx="13.4" cy="49.2" r="0.9" fill="#60300e" opacity="0.59"/>
<circle cx="59.7" cy="48.5" r="0.6" fill="#60300e" opacity="0.62"/>
<circle cx="61.5" cy="18.2" r="0.8" fill="#60300e" opacity="0.50"/>
<circle cx="3.2" cy="32.9" r="1.3" fill="#60300e" opacity="0.95"/>
<circle cx="40.2" cy="1.3" r="0.8" fill="#60300e" opacity="0.85"/>
<circle cx="66.4" cy="34.0" r="0.8" fill="#60300e" opacity="0.74"/>
<circle cx="38.1" cy="33.4" r="0.8" fill="#60300e" opacity="0.93"/>
<circle cx="71.4" cy="8.6" r="0.8" fill="#60300e" opacity="0.89"/>
<circle cx="22.2" cy="50.2" r="1.0" fill="#60300e" opacity="0.81"/>
<circle cx="56.2" cy="11.4" r="0.8" fill="#60300e" opacity="0.61"/>
<circle cx="54.5" cy="36.9" r="0.7" fill="#60300e" opacity="0.90"/>
<circle cx="33.5" cy="12.8" r="0.9" fill="#60300e" opacity="0.94"/>
<circle cx="44.7" cy="33.2" r="1.2" fill="#60300e" opacity="0.93"/>
<circle cx="60.7" cy="22.2" r="1.0" fill="#60300e" opacity="0.91"/>
<circle cx="63.0" cy="30.9" r="0.8" fill="#60300e" opacity="0.67"/>
<circle cx="58.7" cy="30.0" r="0.6" fill="#60300e" opacity="0.82"/>
<circle cx="72.1" cy="42.4" r="1.2" fill="#60300e" opacity="0.91"/>
<circle cx="42.7" cy="42.0" r="0.9" fill="#60300e" opacity="0.54"/>
<circle cx="28.2" cy="16.6" r="1.3" fill="#60300e" opacity="0.81"/>
<circle cx="43.2" cy="33.1" r="0.7" fill="#60300e" opacity="0.74"/>
<circle cx="55.9" cy="21.0" r="0.8" fill="#60300e" opacity="0.68"/>
<circle cx="25.8" cy="36.5" r="0.7" fill="#60300e" opacity="0.54"/>
<circle cx="24.9" cy="37.0" r="1.1" fill="#60300e" opacity="0.80"/>
<circle cx="74.6" cy="19.5" r="0.6" fill="#60300e" opacity="0.72"/>
<circle cx="35.4" cy="9.5" r="1.1" fill="#60300e" opacity="0.65"/>
<circle cx="19.0" cy="17.4" r="1.3" fill="#60300e" opacity="0.50"/>
<circle cx="28.8" cy="14.9" r="0.7" fill="#60300e" opacity="0.69"/>
<circle cx="17.6" cy="48.9" r="1.0" fill="#60300e" opacity="0.81"/>
<circle cx="13.0" cy="24.7" r="1.0" fill="#60300e" opacity="0.88"/>
<circle cx="19.9" cy="24.5" r="1.2" fill="#60300e" opacity="0.87"/>
<circle cx="18.2" cy="28.6" r="1.1" fill="#60300e" opacity="0.68"/>
<circle cx="53.7" cy="35.3" r="1.3" fill="#60300e" opacity="0.75"/>
<circle cx="54.3" cy="18.6" r="1.1" fill="#60300e" opacity="0.65"/>
<circle cx="39.9" cy="19.2" r="0.8" fill="#60300e" opacity="0.56"/>
<circle cx="18.0" cy="29.0" r="0.8" fill="#60300e" opacity="0.52"/>
<circle cx="64.1" cy="15.2" r="1.3" fill="#60300e" opacity="0.77"/>
<circle cx="31.0" cy="46.4" r="1.2" fill="#60300e" opacity="0.64"/>
<circle cx="10.0" cy="34.1" r="1.2" fill="#60300e" opacity="0.77"/>
<circle cx="62.6" cy="21.9" r="1.0" fill="#60300e" opacity="0.62"/>
<circle cx="32.5" cy="20.2" r="0.9" fill="#60300e" opacity="0.68"/>
<circle cx="64.4" cy="9.0" r="0.7" fill="#60300e" opacity="0.61"/>
<circle cx="77.5" cy="27.8" r="0.6" fill="#60300e" opacity="0.88"/>
<circle cx="69.7" cy="43.7" r="0.9" fill="#60300e" opacity="0.83"/>
<circle cx="24.4" cy="7.3" r="1.2" fill="#60300e" opacity="0.87"/>
<circle cx="16.9" cy="46.8" r="0.6" fill="#60300e" opacity="0.64"/>
<circle cx="1.0" cy="9.1" r="0.7" fill="#60300e" opacity="0.82"/>
<circle cx="23.7" cy="10.1" r="0.7" fill="#60300e" opacity="0.64"/>
<circle cx="68.8" cy="32.3" r="0.7" fill="#60300e" opacity="0.81"/>
<circle cx="42.8" cy="23.9" r="1.0" fill="#60300e" opacity="0.79"/>
<circle cx="63.9" cy="26.9" r="1.0" fill="#60300e" opacity="0.71"/>
<circle cx="50.6" cy="20.7" r="0.9" fill="#60300e" opacity="0.73"/>
<circle cx="57.1" cy="14.8" r="1.2" fill="#60300e" opacity="0.72"/>
<circle cx="68.3" cy="36.7" r="1.3" fill="#60300e" opacity="0.81"/>
<circle cx="34.1" cy="21.6" r="1.0" fill="#60300e" opacity="0.84"/>
<circle cx="67.0" cy="6.9" r="0.6" fill="#60300e" opacity="0.55"/>
<circle cx="6.7" cy="3.0" r="0.6" fill="#60300e" opacity="0.61"/>
<circle cx="9.0" cy="36.5" r="1.0" fill="#60300e" opacity="0.93"/>
<circle cx="76.6" cy="39.7" r="1.3" fill="#60300e" opacity="0.51"/>
<circle cx="18.2" cy="49.3" r="0.9" fill="#60300e" opacity="0.59"/>
<circle cx="60.4" cy="22.5" r="1.0" fill="#60300e" opacity="0.64"/>
<circle cx="19.3" cy="4.6" r="1.0" fill="#60300e" opacity="0.93"/>
<circle cx="78.7" cy="40.7" r="1.3" fill="#60300e" opacity="0.66"/>
<circle cx="23.8" cy="49.1" r="1.0" fill="#60300e" opacity="0.80"/>
<circle cx="1.0" cy="12.2" r="0.9" fill="#60300e" opacity="0.83"/>
<circle cx="65.9" cy="40.3" r="0.8" fill="#60300e" opacity="0.67"/>
<circle cx="68.8" cy="52.6" r="0.9" fill="#60300e" opacity="0.59"/>
<circle cx="49.8" cy="28.5" r="0.9" fill="#60300e" opacity="0.60"/>
<circle cx="30.8" cy="32.6" r="0.7" fill="#60300e" opacity="0.74"/>
<circle cx="76.0" cy="39.6" r="0.8" fill="#60300e" opacity="0.69"/>
<circle cx="8.2" cy="39.2" r="1.0" fill="#60300e" opacity="0.58"/>
<circle cx="43.7" cy="31.7" r="1.0" fill="#60300e" opacity="0.67"/>
<circle cx="24.7" cy="18.9" r="1.3" fill="#60300e" opacity="0.65"/>
<circle cx="40.1" cy="24.5" r="0.7" fill="#60300e" opacity="0.68"/>
<circle cx="16.4" cy="17.1" r="0.9" fill="#60300e" opacity="0.66"/>
<circle cx="74.8" cy="15.8" r="0.8" fill="#60300e" opacity="0.80"/>
<circle cx="31.7" cy="27.4" r="1.1" fill="#60300e" opacity="0.53"/>
<circle cx="53.6" cy="5.4" r="0.8" fill="#60300e" opacity="0.86"/>
<circle cx="79.0" cy="35.8" r="0.7" fill="#60300e" opacity="0.70"/>
<circle cx="22.6" cy="44.8" r="0.8" fill="#60300e" opacity="0.59"/>
<circle cx="50.9" cy="33.9" r="1.0" fill="#60300e" opacity="0.72"/>
<circle cx="76.5" cy="24.4" r="1.3" fill="#60300e" opacity="0.68"/>
<circle cx="37.1" cy="19.1" r="1.1" fill="#60300e" opacity="0.84"/>
<circle cx="19.1" cy="28.0" r="1.1" fill="#60300e" opacity="0.73"/>
<circle cx="52.9" cy="32.8" r="1.1" fill="#60300e" opacity="0.66"/>
<circle cx="24.5" cy="1.3" r="1.2" fill="#60300e" opacity="0.86"/>
<circle cx="31.1" cy="51.5" r="1.2" fill="#60300e" opacity="0.57"/>
<circle cx="66.8" cy="22.4" r="0.8" fill="#60300e" opacity="0.62"/>
<circle cx="33.0" cy="2.8" r="0.6" fill="#60300e" opacity="0.55"/>
<circle cx="24.5" cy="8.4" r="0.7" fill="#60300e" opacity="0.87"/>
</g></g>
<rect x="67.8" y="49.0" width="7" height="1.3" fill="#e83a3a"/>
</svg>
<svg x="512.8" y="182.1" width="79.8" height="53.2" overflow="hidden"><g filter="url(#desat)">
<rect x="-4" y="-4" width="87.8" height="61.2" fill="#bea684"/>
<rect x="-4" y="-4" width="87.8" height="61.2" filter="url(#nz13_0)"/>
<rect x="-4" y="-4" width="87.8" height="61.2" filter="url(#nz13_1)"/>
<g filter="url(#soft)">
<circle cx="20.7" cy="36.5" r="1.1" fill="#683810" opacity="0.88"/>
<circle cx="14.8" cy="12.3" r="0.7" fill="#683810" opacity="0.60"/>
<circle cx="58.6" cy="6.9" r="1.0" fill="#683810" opacity="0.60"/>
<circle cx="23.5" cy="23.0" r="1.2" fill="#683810" opacity="0.77"/>
<circle cx="1.2" cy="14.7" r="0.7" fill="#683810" opacity="0.89"/>
<circle cx="64.6" cy="42.9" r="1.2" fill="#683810" opacity="0.84"/>
<circle cx="75.8" cy="42.2" r="0.8" fill="#683810" opacity="0.88"/>
<circle cx="38.8" cy="40.2" r="1.0" fill="#683810" opacity="0.69"/>
<circle cx="29.1" cy="22.9" r="0.8" fill="#683810" opacity="0.55"/>
<circle cx="65.4" cy="42.5" r="1.3" fill="#683810" opacity="0.81"/>
<circle cx="44.2" cy="39.8" r="0.7" fill="#683810" opacity="0.80"/>
<circle cx="35.4" cy="9.4" r="0.7" fill="#683810" opacity="0.74"/>
<circle cx="20.2" cy="24.4" r="1.0" fill="#683810" opacity="0.68"/>
<circle cx="10.4" cy="26.1" r="0.8" fill="#683810" opacity="0.61"/>
<circle cx="15.5" cy="19.5" r="0.7" fill="#683810" opacity="0.79"/>
<circle cx="76.1" cy="20.7" r="1.1" fill="#683810" opacity="0.92"/>
<circle cx="3.4" cy="7.5" r="1.2" fill="#683810" opacity="0.88"/>
<circle cx="51.0" cy="8.5" r="0.9" fill="#683810" opacity="0.89"/>
<circle cx="70.7" cy="42.7" r="0.7" fill="#683810" opacity="0.88"/>
<circle cx="29.9" cy="38.1" r="0.7" fill="#683810" opacity="0.94"/>
<circle cx="48.2" cy="38.4" r="0.7" fill="#683810" opacity="0.78"/>
<circle cx="46.4" cy="31.5" r="0.9" fill="#683810" opacity="0.83"/>
<circle cx="27.2" cy="15.7" r="0.7" fill="#683810" opacity="0.81"/>
<circle cx="9.0" cy="12.0" r="0.6" fill="#683810" opacity="0.79"/>
<circle cx="44.4" cy="28.9" r="0.6" fill="#683810" opacity="0.70"/>
<circle cx="27.4" cy="4.9" r="0.6" fill="#683810" opacity="0.95"/>
<circle cx="9.7" cy="16.0" r="0.8" fill="#683810" opacity="0.77"/>
<circle cx="6.2" cy="25.0" r="0.9" fill="#683810" opacity="0.88"/>
<circle cx="0.5" cy="17.8" r="0.9" fill="#683810" opacity="0.94"/>
<circle cx="41.2" cy="25.2" r="1.1" fill="#683810" opacity="0.63"/>
<circle cx="2.5" cy="26.7" r="1.2" fill="#683810" opacity="0.83"/>
<circle cx="20.6" cy="36.4" r="1.2" fill="#683810" opacity="0.62"/>
<circle cx="46.9" cy="18.9" r="0.8" fill="#683810" opacity="0.63"/>
<circle cx="16.3" cy="18.7" r="0.6" fill="#683810" opacity="0.68"/>
<circle cx="6.9" cy="40.3" r="1.0" fill="#683810" opacity="0.50"/>
<circle cx="61.8" cy="10.1" r="0.9" fill="#683810" opacity="0.75"/>
<circle cx="26.6" cy="15.4" r="0.9" fill="#683810" opacity="0.56"/>
<circle cx="68.9" cy="6.0" r="1.2" fill="#683810" opacity="0.60"/>
<circle cx="24.2" cy="20.7" r="0.6" fill="#683810" opacity="0.56"/>
<circle cx="28.8" cy="23.5" r="1.2" fill="#683810" opacity="0.95"/>
<circle cx="3.5" cy="28.5" r="0.7" fill="#683810" opacity="0.86"/>
<circle cx="25.8" cy="47.5" r="1.0" fill="#683810" opacity="0.56"/>
<circle cx="0.4" cy="13.2" r="1.2" fill="#683810" opacity="0.57"/>
<circle cx="38.2" cy="19.8" r="0.8" fill="#683810" opacity="0.86"/>
<circle cx="17.1" cy="38.2" r="1.1" fill="#683810" opacity="0.92"/>
<circle cx="41.5" cy="49.0" r="0.9" fill="#683810" opacity="0.76"/>
<circle cx="49.5" cy="44.7" r="1.2" fill="#683810" opacity="0.55"/>
<circle cx="10.9" cy="28.4" r="1.2" fill="#683810" opacity="0.74"/>
<circle cx="23.9" cy="51.2" r="0.8" fill="#683810" opacity="0.54"/>
<circle cx="4.2" cy="1.6" r="1.1" fill="#683810" opacity="0.55"/>
<circle cx="57.1" cy="46.1" r="1.3" fill="#683810" opacity="0.86"/>
<circle cx="33.9" cy="33.1" r="1.2" fill="#683810" opacity="0.82"/>
<circle cx="23.2" cy="40.5" r="0.7" fill="#683810" opacity="0.64"/>
<circle cx="79.5" cy="25.1" r="0.8" fill="#683810" opacity="0.85"/>
<circle cx="35.9" cy="0.2" r="0.6" fill="#683810" opacity="0.62"/>
<circle cx="26.5" cy="49.9" r="0.8" fill="#683810" opacity="0.88"/>
<circle cx="68.1" cy="22.1" r="1.3" fill="#683810" opacity="0.84"/>
<circle cx="38.6" cy="13.9" r="0.9" fill="#683810" opacity="0.91"/>
<circle cx="42.8" cy="10.3" r="0.9" fill="#683810" opacity="0.71"/>
<circle cx="15.2" cy="30.5" r="0.6" fill="#683810" opacity="0.87"/>
<circle cx="14.3" cy="5.5" r="1.0" fill="#683810" opacity="0.64"/>
<circle cx="70.6" cy="26.4" r="1.0" fill="#683810" opacity="0.88"/>
<circle cx="17.1" cy="39.7" r="1.1" fill="#683810" opacity="0.69"/>
<circle cx="76.6" cy="1.2" r="1.2" fill="#683810" opacity="0.56"/>
<circle cx="67.0" cy="8.2" r="0.6" fill="#683810" opacity="0.73"/>
<circle cx="73.9" cy="13.7" r="0.9" fill="#683810" opacity="0.77"/>
<circle cx="19.4" cy="28.2" r="0.6" fill="#683810" opacity="0.70"/>
<circle cx="60.6" cy="18.1" r="0.8" fill="#683810" opacity="0.52"/>
<circle cx="55.9" cy="22.7" r="1.2" fill="#683810" opacity="0.83"/>
<circle cx="8.0" cy="48.6" r="1.3" fill="#683810" opacity="0.87"/>
<circle cx="66.3" cy="36.2" r="1.1" fill="#683810" opacity="0.80"/>
<circle cx="47.1" cy="13.7" r="0.7" fill="#683810" opacity="0.83"/>
<circle cx="47.6" cy="3.0" r="1.0" fill="#683810" opacity="0.77"/>
<circle cx="40.8" cy="41.2" r="1.2" fill="#683810" opacity="0.67"/>
<circle cx="65.0" cy="26.6" r="1.0" fill="#683810" opacity="0.69"/>
<circle cx="74.5" cy="23.6" r="1.3" fill="#683810" opacity="0.65"/>
<circle cx="53.7" cy="48.6" r="1.1" fill="#683810" opacity="0.67"/>
<circle cx="6.2" cy="25.4" r="0.9" fill="#683810" opacity="0.87"/>
<circle cx="62.6" cy="52.5" r="0.9" fill="#683810" opacity="0.68"/>
<circle cx="45.0" cy="39.9" r="0.7" fill="#683810" opacity="0.60"/>
<circle cx="11.6" cy="17.3" r="0.8" fill="#683810" opacity="0.94"/>
<circle cx="16.6" cy="49.7" r="0.8" fill="#683810" opacity="0.59"/>
<circle cx="77.8" cy="4.7" r="0.7" fill="#683810" opacity="0.56"/>
<circle cx="5.3" cy="20.6" r="0.7" fill="#683810" opacity="0.57"/>
<circle cx="1.3" cy="37.1" r="0.6" fill="#683810" opacity="0.60"/>
<circle cx="45.1" cy="47.0" r="1.1" fill="#683810" opacity="0.82"/>
<circle cx="55.9" cy="42.4" r="1.2" fill="#683810" opacity="0.57"/>
<circle cx="4.3" cy="33.0" r="1.0" fill="#683810" opacity="0.73"/>
<circle cx="62.4" cy="9.3" r="1.1" fill="#683810" opacity="0.69"/>
<circle cx="33.6" cy="13.0" r="0.8" fill="#683810" opacity="0.76"/>
<circle cx="44.2" cy="48.2" r="0.8" fill="#683810" opacity="0.82"/>
<circle cx="7.7" cy="34.7" r="0.7" fill="#683810" opacity="0.89"/>
<circle cx="77.0" cy="13.5" r="1.2" fill="#683810" opacity="0.60"/>
<circle cx="24.4" cy="5.5" r="0.9" fill="#683810" opacity="0.55"/>
<circle cx="56.2" cy="30.6" r="0.9" fill="#683810" opacity="0.82"/>
</g></g>
<rect x="67.8" y="49.0" width="7" height="1.3" fill="#e83a3a"/>
</svg>
<svg x="596.5" y="182.1" width="79.8" height="53.2" overflow="hidden"><g filter="url(#desat)">
<rect x="-4" y="-4" width="87.8" height="61.2" fill="#aab4b9"/>
<rect x="-4" y="-4" width="87.8" height="61.2" filter="url(#nz14_0)"/>
<rect x="-4" y="-4" width="87.8" height="61.2" filter="url(#nz14_1)"/>
<rect x="-4" y="-4" width="87.8" height="61.2" filter="url(#nz14_2)"/>
<g filter="url(#soft)">
<circle cx="8.5" cy="37.4" r="1.1" fill="#7a4a20" opacity="0.92"/>
<circle cx="21.6" cy="13.6" r="1.1" fill="#7a4a20" opacity="0.80"/>
<circle cx="24.2" cy="36.4" r="0.9" fill="#7a4a20" opacity="0.85"/>
<circle cx="9.4" cy="11.9" r="1.2" fill="#7a4a20" opacity="0.66"/>
<circle cx="20.8" cy="42.8" r="1.0" fill="#7a4a20" opacity="0.57"/>
<circle cx="44.0" cy="35.3" r="0.7" fill="#7a4a20" opacity="0.79"/>
<circle cx="9.8" cy="17.9" r="0.7" fill="#7a4a20" opacity="0.59"/>
<circle cx="78.0" cy="21.5" r="1.3" fill="#7a4a20" opacity="0.70"/>
<circle cx="48.5" cy="46.4" r="1.1" fill="#7a4a20" opacity="0.55"/>
<circle cx="47.0" cy="33.7" r="0.7" fill="#7a4a20" opacity="0.54"/>
<circle cx="69.8" cy="27.3" r="0.7" fill="#7a4a20" opacity="0.70"/>
<circle cx="17.4" cy="42.5" r="1.0" fill="#7a4a20" opacity="0.55"/>
<circle cx="65.3" cy="4.8" r="0.8" fill="#7a4a20" opacity="0.51"/>
<circle cx="59.1" cy="6.1" r="1.0" fill="#7a4a20" opacity="0.54"/>
<circle cx="38.3" cy="36.5" r="1.0" fill="#7a4a20" opacity="0.70"/>
<circle cx="38.7" cy="23.3" r="1.0" fill="#7a4a20" opacity="0.54"/>
<circle cx="37.9" cy="12.6" r="1.2" fill="#7a4a20" opacity="0.92"/>
<circle cx="5.3" cy="7.6" r="1.1" fill="#7a4a20" opacity="0.76"/>
<circle cx="1.5" cy="37.5" r="1.3" fill="#7a4a20" opacity="0.69"/>
<circle cx="27.7" cy="30.3" r="1.3" fill="#7a4a20" opacity="0.62"/>
<circle cx="24.1" cy="10.0" r="1.0" fill="#7a4a20" opacity="0.71"/>
<circle cx="20.4" cy="20.6" r="0.6" fill="#7a4a20" opacity="0.64"/>
<circle cx="78.4" cy="31.2" r="0.8" fill="#7a4a20" opacity="0.92"/>
<circle cx="28.6" cy="13.4" r="0.6" fill="#7a4a20" opacity="0.57"/>
</g></g>
<rect x="67.8" y="49.0" width="7" height="1.3" fill="#e83a3a"/>
</svg>
<svg x="344" y="240.9" width="79.8" height="52.9" overflow="hidden"><g filter="url(#desat)">
<rect x="-4" y="-4" width="87.8" height="60.9" fill="#b8bcb9"/>
<rect x="-4" y="-4" width="87.8" height="60.9" filter="url(#nz15_0)"/>
<rect x="-4" y="-4" width="87.8" height="60.9" filter="url(#nz15_1)"/>
<g filter="url(#soft)">
<circle cx="77.0" cy="0.6" r="1.1" fill="#a06a35" opacity="0.57"/>
<circle cx="78.7" cy="0.9" r="1.2" fill="#a06a35" opacity="0.81"/>
<circle cx="68.4" cy="52.9" r="0.8" fill="#a06a35" opacity="0.65"/>
<circle cx="56.5" cy="14.8" r="0.8" fill="#a06a35" opacity="0.60"/>
<circle cx="68.5" cy="46.3" r="1.2" fill="#a06a35" opacity="0.60"/>
<circle cx="73.8" cy="27.1" r="0.8" fill="#a06a35" opacity="0.70"/>
<circle cx="33.5" cy="4.2" r="1.0" fill="#a06a35" opacity="0.66"/>
<circle cx="45.5" cy="49.2" r="1.1" fill="#a06a35" opacity="0.68"/>
<circle cx="68.9" cy="52.6" r="0.9" fill="#a06a35" opacity="0.93"/>
<circle cx="1.5" cy="7.4" r="0.7" fill="#a06a35" opacity="0.92"/>
<circle cx="55.1" cy="38.0" r="0.8" fill="#a06a35" opacity="0.72"/>
<circle cx="70.8" cy="5.3" r="0.7" fill="#a06a35" opacity="0.52"/>
<circle cx="37.4" cy="44.5" r="1.0" fill="#a06a35" opacity="0.68"/>
<circle cx="40.1" cy="9.5" r="1.3" fill="#a06a35" opacity="0.66"/>
<circle cx="18.8" cy="16.5" r="1.2" fill="#a06a35" opacity="0.64"/>
<circle cx="72.2" cy="17.8" r="0.9" fill="#a06a35" opacity="0.53"/>
<circle cx="72.4" cy="42.1" r="0.9" fill="#a06a35" opacity="0.55"/>
<circle cx="39.3" cy="19.9" r="1.2" fill="#a06a35" opacity="0.92"/>
</g></g>
<rect x="67.8" y="48.699999999999996" width="7" height="1.3" fill="#e83a3a"/>
</svg>
<svg x="428.6" y="240.9" width="79.8" height="52.9" overflow="hidden"><g filter="url(#desat)">
<rect x="-4" y="-4" width="87.8" height="60.9" fill="#b0a48a"/>
<rect x="-4" y="-4" width="87.8" height="60.9" filter="url(#nz16_0)"/>
<rect x="-4" y="-4" width="87.8" height="60.9" filter="url(#nz16_1)"/>
<g filter="url(#soft)">
<circle cx="28.8" cy="25.4" r="0.9" fill="#683610" opacity="0.70"/>
<circle cx="32.7" cy="34.8" r="0.8" fill="#683610" opacity="0.79"/>
<circle cx="0.8" cy="16.0" r="0.8" fill="#683610" opacity="0.56"/>
<circle cx="59.3" cy="16.4" r="1.2" fill="#683610" opacity="0.93"/>
<circle cx="20.2" cy="47.3" r="1.2" fill="#683610" opacity="0.80"/>
<circle cx="2.2" cy="24.2" r="1.0" fill="#683610" opacity="0.63"/>
<circle cx="17.9" cy="16.4" r="0.8" fill="#683610" opacity="0.85"/>
<circle cx="27.8" cy="22.4" r="1.1" fill="#683610" opacity="0.93"/>
<circle cx="23.4" cy="2.3" r="1.3" fill="#683610" opacity="0.87"/>
<circle cx="63.1" cy="27.7" r="0.8" fill="#683610" opacity="0.57"/>
<circle cx="24.3" cy="24.4" r="0.6" fill="#683610" opacity="0.81"/>
<circle cx="58.1" cy="0.7" r="1.2" fill="#683610" opacity="0.72"/>
<circle cx="73.3" cy="25.1" r="1.2" fill="#683610" opacity="0.70"/>
<circle cx="48.9" cy="26.4" r="0.6" fill="#683610" opacity="0.56"/>
<circle cx="18.5" cy="21.5" r="0.9" fill="#683610" opacity="0.74"/>
<circle cx="52.6" cy="21.2" r="0.8" fill="#683610" opacity="0.73"/>
<circle cx="76.0" cy="41.4" r="1.1" fill="#683610" opacity="0.87"/>
<circle cx="18.2" cy="5.3" r="0.7" fill="#683610" opacity="0.55"/>
<circle cx="0.7" cy="33.1" r="1.2" fill="#683610" opacity="0.55"/>
<circle cx="54.8" cy="49.8" r="1.1" fill="#683610" opacity="0.57"/>
<circle cx="50.9" cy="13.5" r="0.7" fill="#683610" opacity="0.51"/>
<circle cx="41.9" cy="48.6" r="0.7" fill="#683610" opacity="0.57"/>
<circle cx="31.0" cy="2.0" r="0.9" fill="#683610" opacity="0.83"/>
<circle cx="36.8" cy="2.1" r="0.6" fill="#683610" opacity="0.59"/>
<circle cx="53.2" cy="48.9" r="1.0" fill="#683610" opacity="0.55"/>
<circle cx="17.2" cy="22.0" r="0.7" fill="#683610" opacity="0.55"/>
<circle cx="34.6" cy="44.5" r="0.8" fill="#683610" opacity="0.90"/>
<circle cx="69.9" cy="22.9" r="0.8" fill="#683610" opacity="0.58"/>
<circle cx="53.3" cy="43.7" r="1.2" fill="#683610" opacity="0.59"/>
<circle cx="34.0" cy="1.2" r="0.8" fill="#683610" opacity="0.63"/>
<circle cx="9.9" cy="4.0" r="1.3" fill="#683610" opacity="0.64"/>
<circle cx="39.8" cy="28.3" r="0.9" fill="#683610" opacity="0.77"/>
<circle cx="40.1" cy="25.9" r="0.7" fill="#683610" opacity="0.78"/>
<circle cx="53.4" cy="38.3" r="0.8" fill="#683610" opacity="0.71"/>
<circle cx="64.3" cy="38.5" r="0.6" fill="#683610" opacity="0.65"/>
<circle cx="13.7" cy="37.6" r="0.9" fill="#683610" opacity="0.68"/>
<circle cx="17.8" cy="24.0" r="1.1" fill="#683610" opacity="0.78"/>
<circle cx="17.7" cy="20.9" r="1.0" fill="#683610" opacity="0.52"/>
<circle cx="72.0" cy="1.2" r="1.0" fill="#683610" opacity="0.57"/>
<circle cx="76.3" cy="36.6" r="0.8" fill="#683610" opacity="0.73"/>
<circle cx="67.5" cy="45.2" r="1.1" fill="#683610" opacity="0.79"/>
<circle cx="59.2" cy="48.4" r="1.0" fill="#683610" opacity="0.78"/>
<circle cx="63.7" cy="27.0" r="0.8" fill="#683610" opacity="0.76"/>
<circle cx="27.9" cy="37.8" r="1.1" fill="#683610" opacity="0.91"/>
<circle cx="8.7" cy="1.2" r="1.3" fill="#683610" opacity="0.83"/>
<circle cx="79.6" cy="43.1" r="1.3" fill="#683610" opacity="0.57"/>
<circle cx="14.8" cy="32.4" r="1.1" fill="#683610" opacity="0.55"/>
<circle cx="75.7" cy="12.2" r="0.7" fill="#683610" opacity="0.70"/>
<circle cx="14.5" cy="4.8" r="0.7" fill="#683610" opacity="0.51"/>
<circle cx="12.0" cy="35.9" r="1.1" fill="#683610" opacity="0.85"/>
<circle cx="33.3" cy="39.8" r="0.7" fill="#683610" opacity="0.89"/>
<circle cx="32.7" cy="6.5" r="0.9" fill="#683610" opacity="0.59"/>
<circle cx="59.3" cy="19.8" r="0.6" fill="#683610" opacity="0.59"/>
<circle cx="6.4" cy="50.3" r="0.9" fill="#683610" opacity="0.85"/>
<circle cx="47.4" cy="21.8" r="1.1" fill="#683610" opacity="0.75"/>
<circle cx="3.5" cy="52.6" r="0.8" fill="#683610" opacity="0.79"/>
<circle cx="33.3" cy="50.9" r="0.7" fill="#683610" opacity="0.53"/>
<circle cx="3.4" cy="21.2" r="1.2" fill="#683610" opacity="0.70"/>
<circle cx="74.3" cy="7.6" r="1.3" fill="#683610" opacity="0.58"/>
<circle cx="70.6" cy="10.3" r="1.0" fill="#683610" opacity="0.78"/>
<circle cx="77.5" cy="21.8" r="1.2" fill="#683610" opacity="0.52"/>
<circle cx="71.8" cy="27.4" r="1.0" fill="#683610" opacity="0.94"/>
<circle cx="25.0" cy="32.5" r="1.0" fill="#683610" opacity="0.64"/>
<circle cx="11.7" cy="22.7" r="0.8" fill="#683610" opacity="0.77"/>
<circle cx="32.6" cy="4.4" r="1.1" fill="#683610" opacity="0.92"/>
<circle cx="49.2" cy="15.8" r="0.8" fill="#683610" opacity="0.93"/>
<circle cx="35.4" cy="38.3" r="0.7" fill="#683610" opacity="0.87"/>
<circle cx="71.3" cy="13.8" r="0.8" fill="#683610" opacity="0.79"/>
<circle cx="76.0" cy="41.6" r="0.6" fill="#683610" opacity="0.55"/>
<circle cx="70.9" cy="21.3" r="1.3" fill="#683610" opacity="0.70"/>
<circle cx="66.6" cy="11.6" r="1.3" fill="#683610" opacity="0.71"/>
<circle cx="0.3" cy="10.5" r="0.7" fill="#683610" opacity="0.69"/>
<circle cx="76.4" cy="51.4" r="1.2" fill="#683610" opacity="0.68"/>
<circle cx="61.4" cy="39.3" r="1.2" fill="#683610" opacity="0.94"/>
<circle cx="66.5" cy="40.4" r="0.8" fill="#683610" opacity="0.58"/>
<circle cx="33.4" cy="15.4" r="1.1" fill="#683610" opacity="0.57"/>
<circle cx="16.2" cy="38.7" r="0.6" fill="#683610" opacity="0.54"/>
<circle cx="0.0" cy="1.0" r="0.7" fill="#683610" opacity="0.83"/>
<circle cx="21.5" cy="5.6" r="0.9" fill="#683610" opacity="0.66"/>
<circle cx="0.3" cy="3.5" r="0.8" fill="#683610" opacity="0.69"/>
<circle cx="9.4" cy="22.2" r="0.9" fill="#683610" opacity="0.92"/>
<circle cx="48.6" cy="16.1" r="0.8" fill="#683610" opacity="0.58"/>
<circle cx="30.9" cy="50.5" r="1.3" fill="#683610" opacity="0.57"/>
<circle cx="51.5" cy="40.4" r="1.2" fill="#683610" opacity="0.84"/>
<circle cx="50.5" cy="4.8" r="0.8" fill="#683610" opacity="0.92"/>
<circle cx="72.7" cy="46.8" r="0.8" fill="#683610" opacity="0.85"/>
<circle cx="62.9" cy="20.9" r="0.8" fill="#683610" opacity="0.71"/>
<circle cx="42.9" cy="1.0" r="0.6" fill="#683610" opacity="0.95"/>
<circle cx="32.5" cy="21.7" r="1.0" fill="#683610" opacity="0.74"/>
<circle cx="55.7" cy="28.2" r="0.6" fill="#683610" opacity="0.52"/>
<circle cx="21.0" cy="19.1" r="1.3" fill="#683610" opacity="0.72"/>
<circle cx="10.4" cy="44.2" r="0.8" fill="#683610" opacity="0.69"/>
<circle cx="50.5" cy="38.1" r="0.8" fill="#683610" opacity="0.69"/>
<circle cx="0.8" cy="49.5" r="1.2" fill="#683610" opacity="0.87"/>
<circle cx="16.3" cy="33.2" r="0.9" fill="#683610" opacity="0.57"/>
<circle cx="17.0" cy="46.1" r="1.0" fill="#683610" opacity="0.77"/>
<circle cx="10.9" cy="31.1" r="1.2" fill="#683610" opacity="0.59"/>
<circle cx="18.7" cy="49.4" r="0.8" fill="#683610" opacity="0.71"/>
<circle cx="73.2" cy="38.9" r="0.8" fill="#683610" opacity="0.65"/>
<circle cx="19.7" cy="2.1" r="1.0" fill="#683610" opacity="0.57"/>
<circle cx="20.5" cy="43.8" r="0.7" fill="#683610" opacity="0.54"/>
<circle cx="4.1" cy="33.4" r="0.8" fill="#683610" opacity="0.62"/>
<circle cx="41.6" cy="38.7" r="1.3" fill="#683610" opacity="0.53"/>
<circle cx="27.8" cy="0.8" r="0.8" fill="#683610" opacity="0.80"/>
<circle cx="27.0" cy="22.7" r="0.8" fill="#683610" opacity="0.94"/>
<circle cx="64.6" cy="47.0" r="1.0" fill="#683610" opacity="0.90"/>
<circle cx="51.4" cy="4.9" r="0.7" fill="#683610" opacity="0.93"/>
<circle cx="44.1" cy="39.0" r="1.0" fill="#683610" opacity="0.90"/>
<circle cx="15.9" cy="8.4" r="0.8" fill="#683610" opacity="0.83"/>
<circle cx="47.6" cy="28.1" r="0.7" fill="#683610" opacity="0.69"/>
<circle cx="23.0" cy="5.1" r="1.3" fill="#683610" opacity="0.86"/>
<circle cx="63.3" cy="19.8" r="1.2" fill="#683610" opacity="0.86"/>
<circle cx="18.6" cy="50.5" r="1.2" fill="#683610" opacity="0.53"/>
<circle cx="8.4" cy="4.6" r="1.1" fill="#683610" opacity="0.57"/>
<circle cx="11.8" cy="1.8" r="0.9" fill="#683610" opacity="0.64"/>
<circle cx="44.9" cy="9.5" r="1.1" fill="#683610" opacity="0.78"/>
<circle cx="31.6" cy="51.1" r="1.0" fill="#683610" opacity="0.74"/>
<circle cx="18.9" cy="16.0" r="1.1" fill="#683610" opacity="0.66"/>
<circle cx="8.6" cy="22.2" r="0.9" fill="#683610" opacity="0.56"/>
<circle cx="19.5" cy="49.0" r="1.2" fill="#683610" opacity="0.70"/>
</g></g>
<rect x="67.8" y="48.699999999999996" width="7" height="1.3" fill="#e83a3a"/>
</svg>
<svg x="512.8" y="240.9" width="79.8" height="52.9" overflow="hidden"><g filter="url(#desat)">
<rect x="-4" y="-4" width="87.8" height="60.9" fill="#d6c8ae"/>
<rect x="-4" y="-4" width="87.8" height="60.9" filter="url(#nz17_0)"/>
<rect x="-4" y="-4" width="87.8" height="60.9" filter="url(#nz17_1)"/>
<rect x="-4" y="-4" width="87.8" height="60.9" filter="url(#nz17_2)"/>
<g filter="url(#soft)">
<circle cx="41.7" cy="42.7" r="1.3" fill="#80460f" opacity="0.63"/>
<circle cx="61.1" cy="37.3" r="1.1" fill="#80460f" opacity="0.55"/>
<circle cx="2.1" cy="20.3" r="1.1" fill="#80460f" opacity="0.61"/>
<circle cx="40.0" cy="16.8" r="1.2" fill="#80460f" opacity="0.93"/>
<circle cx="32.0" cy="52.8" r="0.6" fill="#80460f" opacity="0.87"/>
<circle cx="69.9" cy="8.0" r="1.1" fill="#80460f" opacity="0.75"/>
<circle cx="76.2" cy="11.1" r="1.0" fill="#80460f" opacity="0.90"/>
<circle cx="51.0" cy="16.4" r="0.7" fill="#80460f" opacity="0.92"/>
<circle cx="37.8" cy="52.7" r="0.7" fill="#80460f" opacity="0.87"/>
<circle cx="64.9" cy="48.7" r="0.6" fill="#80460f" opacity="0.67"/>
<circle cx="4.1" cy="39.8" r="0.8" fill="#80460f" opacity="0.93"/>
<circle cx="29.9" cy="41.0" r="1.2" fill="#80460f" opacity="0.61"/>
<circle cx="44.4" cy="50.6" r="1.0" fill="#80460f" opacity="0.66"/>
<circle cx="21.3" cy="41.6" r="0.7" fill="#80460f" opacity="0.77"/>
<circle cx="44.3" cy="29.3" r="0.7" fill="#80460f" opacity="0.80"/>
<circle cx="73.1" cy="16.9" r="0.8" fill="#80460f" opacity="0.91"/>
<circle cx="46.2" cy="14.4" r="0.6" fill="#80460f" opacity="0.84"/>
<circle cx="27.8" cy="24.7" r="0.8" fill="#80460f" opacity="0.78"/>
<circle cx="58.2" cy="16.4" r="0.7" fill="#80460f" opacity="0.94"/>
<circle cx="72.6" cy="1.1" r="1.0" fill="#80460f" opacity="0.81"/>
<circle cx="32.2" cy="38.7" r="1.3" fill="#80460f" opacity="0.77"/>
<circle cx="31.2" cy="10.3" r="0.8" fill="#80460f" opacity="0.57"/>
<circle cx="8.8" cy="11.2" r="1.2" fill="#80460f" opacity="0.74"/>
<circle cx="64.2" cy="48.7" r="1.2" fill="#80460f" opacity="0.52"/>
<circle cx="73.9" cy="4.9" r="1.1" fill="#80460f" opacity="0.88"/>
<circle cx="52.5" cy="21.4" r="0.7" fill="#80460f" opacity="0.54"/>
<circle cx="50.8" cy="12.8" r="1.0" fill="#80460f" opacity="0.62"/>
<circle cx="13.0" cy="15.6" r="1.1" fill="#80460f" opacity="0.72"/>
<circle cx="31.3" cy="25.7" r="1.0" fill="#80460f" opacity="0.73"/>
<circle cx="35.5" cy="51.2" r="1.1" fill="#80460f" opacity="0.60"/>
<circle cx="25.4" cy="10.0" r="0.9" fill="#80460f" opacity="0.51"/>
<circle cx="59.4" cy="30.0" r="0.9" fill="#80460f" opacity="0.90"/>
<circle cx="26.2" cy="30.6" r="1.3" fill="#80460f" opacity="0.75"/>
<circle cx="48.9" cy="19.5" r="1.3" fill="#80460f" opacity="0.84"/>
<circle cx="24.2" cy="18.8" r="1.0" fill="#80460f" opacity="0.73"/>
<circle cx="41.8" cy="10.2" r="1.0" fill="#80460f" opacity="0.82"/>
<circle cx="61.0" cy="23.8" r="0.9" fill="#80460f" opacity="0.73"/>
<circle cx="42.8" cy="25.1" r="0.6" fill="#80460f" opacity="0.62"/>
<circle cx="78.8" cy="43.7" r="0.9" fill="#80460f" opacity="0.84"/>
<circle cx="16.9" cy="14.1" r="1.0" fill="#80460f" opacity="0.81"/>
<circle cx="2.2" cy="25.0" r="1.2" fill="#80460f" opacity="0.78"/>
<circle cx="79.2" cy="5.2" r="1.2" fill="#80460f" opacity="0.88"/>
<circle cx="2.1" cy="28.4" r="1.1" fill="#80460f" opacity="0.60"/>
<circle cx="51.8" cy="45.0" r="1.2" fill="#80460f" opacity="0.69"/>
<circle cx="4.7" cy="28.5" r="0.7" fill="#80460f" opacity="0.74"/>
<circle cx="21.5" cy="18.4" r="1.0" fill="#80460f" opacity="0.87"/>
<circle cx="77.8" cy="21.5" r="0.6" fill="#80460f" opacity="0.84"/>
<circle cx="27.1" cy="40.1" r="1.2" fill="#80460f" opacity="0.52"/>
<circle cx="58.3" cy="15.1" r="0.8" fill="#80460f" opacity="0.65"/>
<circle cx="43.0" cy="12.9" r="0.9" fill="#80460f" opacity="0.63"/>
<circle cx="9.9" cy="13.2" r="1.1" fill="#80460f" opacity="0.64"/>
<circle cx="16.0" cy="19.3" r="0.7" fill="#80460f" opacity="0.94"/>
<circle cx="62.8" cy="8.0" r="0.8" fill="#80460f" opacity="0.70"/>
<circle cx="42.1" cy="20.5" r="1.0" fill="#80460f" opacity="0.84"/>
<circle cx="12.3" cy="29.6" r="0.7" fill="#80460f" opacity="0.74"/>
<circle cx="25.3" cy="42.5" r="1.2" fill="#80460f" opacity="0.93"/>
<circle cx="32.5" cy="32.6" r="0.7" fill="#80460f" opacity="0.82"/>
<circle cx="62.1" cy="22.6" r="0.8" fill="#80460f" opacity="0.84"/>
<circle cx="59.9" cy="42.3" r="0.8" fill="#80460f" opacity="0.61"/>
<circle cx="20.0" cy="10.1" r="0.6" fill="#80460f" opacity="0.56"/>
<circle cx="39.3" cy="22.8" r="1.2" fill="#80460f" opacity="0.67"/>
<circle cx="13.6" cy="49.2" r="0.7" fill="#80460f" opacity="0.65"/>
<circle cx="60.9" cy="17.0" r="1.3" fill="#80460f" opacity="0.83"/>
<circle cx="24.6" cy="45.7" r="1.2" fill="#80460f" opacity="0.73"/>
<circle cx="11.5" cy="5.5" r="1.2" fill="#80460f" opacity="0.90"/>
<circle cx="52.2" cy="40.9" r="1.2" fill="#80460f" opacity="0.61"/>
<circle cx="17.0" cy="45.9" r="1.2" fill="#80460f" opacity="0.70"/>
<circle cx="21.6" cy="4.2" r="0.9" fill="#80460f" opacity="0.91"/>
<circle cx="16.2" cy="16.7" r="0.6" fill="#80460f" opacity="0.76"/>
<circle cx="4.8" cy="35.7" r="0.9" fill="#80460f" opacity="0.69"/>
<circle cx="20.7" cy="16.0" r="1.2" fill="#80460f" opacity="0.92"/>
<circle cx="60.0" cy="11.3" r="0.7" fill="#80460f" opacity="0.66"/>
<circle cx="69.9" cy="49.9" r="0.8" fill="#80460f" opacity="0.79"/>
<circle cx="30.3" cy="24.1" r="0.7" fill="#80460f" opacity="0.82"/>
<circle cx="62.4" cy="49.7" r="0.9" fill="#80460f" opacity="0.70"/>
<circle cx="51.6" cy="6.9" r="1.2" fill="#80460f" opacity="0.85"/>
<circle cx="18.2" cy="21.3" r="0.9" fill="#80460f" opacity="0.88"/>
<circle cx="55.3" cy="12.7" r="1.3" fill="#80460f" opacity="0.92"/>
<circle cx="68.5" cy="26.1" r="0.9" fill="#80460f" opacity="0.68"/>
<circle cx="78.0" cy="25.5" r="1.3" fill="#80460f" opacity="0.58"/>
<circle cx="2.4" cy="25.0" r="0.7" fill="#80460f" opacity="0.62"/>
<circle cx="2.9" cy="6.6" r="0.9" fill="#80460f" opacity="0.54"/>
<circle cx="23.7" cy="32.4" r="0.8" fill="#80460f" opacity="0.64"/>
<circle cx="30.2" cy="13.9" r="1.0" fill="#80460f" opacity="0.85"/>
<circle cx="2.5" cy="28.4" r="1.0" fill="#80460f" opacity="0.91"/>
<circle cx="56.2" cy="14.5" r="1.0" fill="#80460f" opacity="0.91"/>
<circle cx="75.9" cy="40.6" r="0.7" fill="#80460f" opacity="0.67"/>
<circle cx="38.2" cy="17.4" r="1.1" fill="#80460f" opacity="0.72"/>
<circle cx="78.1" cy="0.4" r="1.2" fill="#80460f" opacity="0.55"/>
<circle cx="41.4" cy="7.9" r="0.9" fill="#80460f" opacity="0.78"/>
<circle cx="76.5" cy="2.2" r="0.9" fill="#80460f" opacity="0.55"/>
<circle cx="59.3" cy="7.6" r="0.7" fill="#80460f" opacity="0.86"/>
<circle cx="3.8" cy="46.8" r="0.8" fill="#80460f" opacity="0.95"/>
<circle cx="8.5" cy="5.1" r="0.9" fill="#80460f" opacity="0.64"/>
<circle cx="51.4" cy="16.0" r="0.8" fill="#80460f" opacity="0.51"/>
</g></g>
<rect x="67.8" y="48.699999999999996" width="7" height="1.3" fill="#e83a3a"/>
</svg>
<svg x="596.5" y="240.9" width="79.8" height="52.9" overflow="hidden"><g filter="url(#desat)">
<rect x="-4" y="-4" width="87.8" height="60.9" fill="#b08a62"/>
<rect x="-4" y="-4" width="87.8" height="60.9" filter="url(#nz18_0)"/>
<rect x="-4" y="-4" width="87.8" height="60.9" filter="url(#nz18_1)"/>
<g filter="url(#soft)">
<circle cx="14.5" cy="35.0" r="0.8" fill="#5a2e0c" opacity="0.59"/>
<circle cx="39.1" cy="26.1" r="0.9" fill="#5a2e0c" opacity="0.71"/>
<circle cx="21.1" cy="13.4" r="1.1" fill="#5a2e0c" opacity="0.65"/>
<circle cx="53.9" cy="41.6" r="1.2" fill="#5a2e0c" opacity="0.92"/>
<circle cx="18.7" cy="12.6" r="1.1" fill="#5a2e0c" opacity="0.76"/>
<circle cx="16.1" cy="35.8" r="1.2" fill="#5a2e0c" opacity="0.88"/>
<circle cx="17.2" cy="15.8" r="0.6" fill="#5a2e0c" opacity="0.94"/>
<circle cx="17.6" cy="38.5" r="1.0" fill="#5a2e0c" opacity="0.77"/>
<circle cx="42.0" cy="43.7" r="1.0" fill="#5a2e0c" opacity="0.64"/>
<circle cx="9.2" cy="25.3" r="1.2" fill="#5a2e0c" opacity="0.57"/>
<circle cx="54.6" cy="33.4" r="0.7" fill="#5a2e0c" opacity="0.59"/>
<circle cx="54.8" cy="23.1" r="0.9" fill="#5a2e0c" opacity="0.72"/>
<circle cx="8.1" cy="37.3" r="1.0" fill="#5a2e0c" opacity="0.74"/>
<circle cx="27.1" cy="42.9" r="1.2" fill="#5a2e0c" opacity="0.75"/>
<circle cx="7.1" cy="7.8" r="0.7" fill="#5a2e0c" opacity="0.54"/>
<circle cx="51.7" cy="28.8" r="0.7" fill="#5a2e0c" opacity="0.91"/>
<circle cx="50.3" cy="41.9" r="1.2" fill="#5a2e0c" opacity="0.81"/>
<circle cx="42.0" cy="52.1" r="0.7" fill="#5a2e0c" opacity="0.81"/>
<circle cx="70.6" cy="25.3" r="1.2" fill="#5a2e0c" opacity="0.58"/>
<circle cx="33.2" cy="14.3" r="0.9" fill="#5a2e0c" opacity="0.82"/>
<circle cx="11.5" cy="17.9" r="1.2" fill="#5a2e0c" opacity="0.64"/>
<circle cx="10.1" cy="52.6" r="1.0" fill="#5a2e0c" opacity="0.51"/>
<circle cx="45.6" cy="7.7" r="0.7" fill="#5a2e0c" opacity="0.83"/>
<circle cx="52.0" cy="22.6" r="1.0" fill="#5a2e0c" opacity="0.75"/>
<circle cx="36.6" cy="5.4" r="1.1" fill="#5a2e0c" opacity="0.85"/>
<circle cx="33.7" cy="21.4" r="1.0" fill="#5a2e0c" opacity="0.71"/>
<circle cx="33.1" cy="46.3" r="1.2" fill="#5a2e0c" opacity="0.57"/>
<circle cx="13.7" cy="41.5" r="1.3" fill="#5a2e0c" opacity="0.83"/>
<circle cx="23.7" cy="3.1" r="1.2" fill="#5a2e0c" opacity="0.92"/>
<circle cx="60.5" cy="38.9" r="1.3" fill="#5a2e0c" opacity="0.74"/>
<circle cx="74.2" cy="13.9" r="0.7" fill="#5a2e0c" opacity="0.88"/>
<circle cx="55.8" cy="42.1" r="0.7" fill="#5a2e0c" opacity="0.64"/>
<circle cx="46.9" cy="3.4" r="0.8" fill="#5a2e0c" opacity="0.77"/>
<circle cx="74.8" cy="38.1" r="0.9" fill="#5a2e0c" opacity="0.68"/>
<circle cx="40.9" cy="39.2" r="1.3" fill="#5a2e0c" opacity="0.50"/>
<circle cx="73.9" cy="42.5" r="0.6" fill="#5a2e0c" opacity="0.62"/>
<circle cx="21.8" cy="11.4" r="0.7" fill="#5a2e0c" opacity="0.56"/>
<circle cx="53.9" cy="23.2" r="0.7" fill="#5a2e0c" opacity="0.88"/>
<circle cx="66.6" cy="13.8" r="1.2" fill="#5a2e0c" opacity="0.85"/>
<circle cx="42.3" cy="4.7" r="1.1" fill="#5a2e0c" opacity="0.89"/>
<circle cx="70.8" cy="50.3" r="0.7" fill="#5a2e0c" opacity="0.94"/>
<circle cx="7.5" cy="19.2" r="1.0" fill="#5a2e0c" opacity="0.79"/>
<circle cx="42.3" cy="48.0" r="1.1" fill="#5a2e0c" opacity="0.89"/>
<circle cx="54.0" cy="24.1" r="0.6" fill="#5a2e0c" opacity="0.79"/>
<circle cx="74.7" cy="10.1" r="1.3" fill="#5a2e0c" opacity="0.51"/>
<circle cx="31.7" cy="39.7" r="1.1" fill="#5a2e0c" opacity="0.76"/>
<circle cx="22.4" cy="13.0" r="0.7" fill="#5a2e0c" opacity="0.79"/>
<circle cx="1.5" cy="6.8" r="1.1" fill="#5a2e0c" opacity="0.70"/>
<circle cx="1.4" cy="22.4" r="1.2" fill="#5a2e0c" opacity="0.73"/>
<circle cx="21.4" cy="7.2" r="0.9" fill="#5a2e0c" opacity="0.61"/>
<circle cx="21.9" cy="3.2" r="1.0" fill="#5a2e0c" opacity="0.86"/>
<circle cx="40.4" cy="32.4" r="0.8" fill="#5a2e0c" opacity="0.95"/>
<circle cx="22.9" cy="48.6" r="0.6" fill="#5a2e0c" opacity="0.80"/>
<circle cx="69.5" cy="30.1" r="0.8" fill="#5a2e0c" opacity="0.58"/>
<circle cx="78.9" cy="52.5" r="0.8" fill="#5a2e0c" opacity="0.69"/>
<circle cx="66.1" cy="45.9" r="0.6" fill="#5a2e0c" opacity="0.75"/>
<circle cx="19.9" cy="4.4" r="1.1" fill="#5a2e0c" opacity="0.72"/>
<circle cx="16.6" cy="40.2" r="0.8" fill="#5a2e0c" opacity="0.62"/>
<circle cx="23.8" cy="10.4" r="1.2" fill="#5a2e0c" opacity="0.65"/>
<circle cx="74.4" cy="36.3" r="1.0" fill="#5a2e0c" opacity="0.90"/>
<circle cx="29.8" cy="1.9" r="1.1" fill="#5a2e0c" opacity="0.53"/>
<circle cx="74.0" cy="51.5" r="0.9" fill="#5a2e0c" opacity="0.54"/>
<circle cx="76.4" cy="13.7" r="1.3" fill="#5a2e0c" opacity="0.71"/>
<circle cx="70.7" cy="46.3" r="0.7" fill="#5a2e0c" opacity="0.65"/>
<circle cx="34.4" cy="10.6" r="1.3" fill="#5a2e0c" opacity="0.59"/>
<circle cx="18.8" cy="9.7" r="0.7" fill="#5a2e0c" opacity="0.87"/>
<circle cx="16.2" cy="31.2" r="0.7" fill="#5a2e0c" opacity="0.87"/>
<circle cx="62.6" cy="49.9" r="0.6" fill="#5a2e0c" opacity="0.80"/>
<circle cx="58.0" cy="17.9" r="1.1" fill="#5a2e0c" opacity="0.64"/>
<circle cx="46.6" cy="45.1" r="1.2" fill="#5a2e0c" opacity="0.65"/>
<circle cx="20.7" cy="50.4" r="0.8" fill="#5a2e0c" opacity="0.71"/>
<circle cx="33.3" cy="19.3" r="1.0" fill="#5a2e0c" opacity="0.55"/>
<circle cx="37.1" cy="35.6" r="1.2" fill="#5a2e0c" opacity="0.72"/>
<circle cx="18.4" cy="15.0" r="0.7" fill="#5a2e0c" opacity="0.57"/>
<circle cx="24.5" cy="20.3" r="1.3" fill="#5a2e0c" opacity="0.84"/>
<circle cx="73.5" cy="26.0" r="0.7" fill="#5a2e0c" opacity="0.76"/>
<circle cx="55.6" cy="52.6" r="0.8" fill="#5a2e0c" opacity="0.84"/>
<circle cx="76.7" cy="20.8" r="1.0" fill="#5a2e0c" opacity="0.55"/>
<circle cx="53.6" cy="2.9" r="1.1" fill="#5a2e0c" opacity="0.84"/>
<circle cx="66.3" cy="44.7" r="0.6" fill="#5a2e0c" opacity="0.89"/>
<circle cx="56.4" cy="50.1" r="1.2" fill="#5a2e0c" opacity="0.72"/>
<circle cx="68.4" cy="10.6" r="1.3" fill="#5a2e0c" opacity="0.80"/>
<circle cx="64.8" cy="28.9" r="1.0" fill="#5a2e0c" opacity="0.61"/>
<circle cx="63.9" cy="27.8" r="0.8" fill="#5a2e0c" opacity="0.84"/>
<circle cx="46.4" cy="22.7" r="1.2" fill="#5a2e0c" opacity="0.69"/>
<circle cx="54.1" cy="28.7" r="0.9" fill="#5a2e0c" opacity="0.66"/>
<circle cx="47.0" cy="9.7" r="0.7" fill="#5a2e0c" opacity="0.64"/>
<circle cx="56.9" cy="9.9" r="1.1" fill="#5a2e0c" opacity="0.65"/>
<circle cx="75.4" cy="5.7" r="1.2" fill="#5a2e0c" opacity="0.87"/>
<circle cx="66.2" cy="33.3" r="0.8" fill="#5a2e0c" opacity="0.93"/>
<circle cx="17.8" cy="37.2" r="0.9" fill="#5a2e0c" opacity="0.53"/>
<circle cx="33.1" cy="16.8" r="1.2" fill="#5a2e0c" opacity="0.59"/>
<circle cx="66.0" cy="1.6" r="0.7" fill="#5a2e0c" opacity="0.78"/>
<circle cx="74.2" cy="32.5" r="0.7" fill="#5a2e0c" opacity="0.91"/>
<circle cx="53.7" cy="0.3" r="0.7" fill="#5a2e0c" opacity="0.68"/>
<circle cx="42.3" cy="29.9" r="1.2" fill="#5a2e0c" opacity="0.78"/>
<circle cx="76.5" cy="21.5" r="0.8" fill="#5a2e0c" opacity="0.80"/>
<circle cx="71.9" cy="22.8" r="0.6" fill="#5a2e0c" opacity="0.67"/>
<circle cx="16.3" cy="47.4" r="0.8" fill="#5a2e0c" opacity="0.70"/>
<circle cx="49.3" cy="3.0" r="0.7" fill="#5a2e0c" opacity="0.73"/>
<circle cx="20.1" cy="3.2" r="1.1" fill="#5a2e0c" opacity="0.83"/>
<circle cx="49.0" cy="6.8" r="1.2" fill="#5a2e0c" opacity="0.95"/>
<circle cx="8.9" cy="36.0" r="0.6" fill="#5a2e0c" opacity="0.55"/>
<circle cx="26.6" cy="51.2" r="0.9" fill="#5a2e0c" opacity="0.74"/>
<circle cx="70.8" cy="20.8" r="0.8" fill="#5a2e0c" opacity="0.54"/>
<circle cx="18.6" cy="32.4" r="1.2" fill="#5a2e0c" opacity="0.94"/>
<circle cx="20.9" cy="35.4" r="0.8" fill="#5a2e0c" opacity="0.75"/>
<circle cx="1.3" cy="49.2" r="1.1" fill="#5a2e0c" opacity="0.84"/>
<circle cx="50.9" cy="20.1" r="1.2" fill="#5a2e0c" opacity="0.73"/>
<circle cx="52.9" cy="14.3" r="0.7" fill="#5a2e0c" opacity="0.82"/>
<circle cx="25.2" cy="2.4" r="0.8" fill="#5a2e0c" opacity="0.69"/>
<circle cx="15.1" cy="7.4" r="1.1" fill="#5a2e0c" opacity="0.71"/>
<circle cx="40.3" cy="37.9" r="0.6" fill="#5a2e0c" opacity="0.73"/>
<circle cx="78.7" cy="14.6" r="1.1" fill="#5a2e0c" opacity="0.58"/>
<circle cx="30.2" cy="23.8" r="0.8" fill="#5a2e0c" opacity="0.61"/>
<circle cx="26.5" cy="25.0" r="0.9" fill="#5a2e0c" opacity="0.72"/>
<circle cx="19.9" cy="28.8" r="1.1" fill="#5a2e0c" opacity="0.71"/>
<circle cx="28.7" cy="43.5" r="1.0" fill="#5a2e0c" opacity="0.72"/>
<circle cx="24.7" cy="50.6" r="0.7" fill="#5a2e0c" opacity="0.92"/>
<circle cx="24.4" cy="48.5" r="0.6" fill="#5a2e0c" opacity="0.81"/>
<circle cx="38.2" cy="32.5" r="0.7" fill="#5a2e0c" opacity="0.67"/>
<circle cx="29.0" cy="29.6" r="1.1" fill="#5a2e0c" opacity="0.93"/>
<circle cx="23.3" cy="2.4" r="0.7" fill="#5a2e0c" opacity="0.91"/>
<circle cx="43.8" cy="35.3" r="1.3" fill="#5a2e0c" opacity="0.86"/>
<circle cx="47.1" cy="41.1" r="0.7" fill="#5a2e0c" opacity="0.87"/>
<circle cx="13.9" cy="46.6" r="1.2" fill="#5a2e0c" opacity="0.76"/>
<circle cx="22.2" cy="6.6" r="0.9" fill="#5a2e0c" opacity="0.60"/>
<circle cx="29.3" cy="8.0" r="0.7" fill="#5a2e0c" opacity="0.86"/>
<circle cx="62.5" cy="31.4" r="1.0" fill="#5a2e0c" opacity="0.87"/>
<circle cx="47.5" cy="33.5" r="0.6" fill="#5a2e0c" opacity="0.54"/>
<circle cx="55.2" cy="28.7" r="0.8" fill="#5a2e0c" opacity="0.86"/>
<circle cx="36.9" cy="30.7" r="1.3" fill="#5a2e0c" opacity="0.70"/>
<circle cx="71.1" cy="26.2" r="1.1" fill="#5a2e0c" opacity="0.83"/>
<circle cx="40.7" cy="28.2" r="1.2" fill="#5a2e0c" opacity="0.84"/>
<circle cx="48.8" cy="37.6" r="0.8" fill="#5a2e0c" opacity="0.75"/>
<circle cx="66.8" cy="38.1" r="1.3" fill="#5a2e0c" opacity="0.52"/>
<circle cx="13.3" cy="11.8" r="1.3" fill="#5a2e0c" opacity="0.90"/>
<circle cx="21.6" cy="3.6" r="0.8" fill="#5a2e0c" opacity="0.87"/>
<circle cx="66.7" cy="33.0" r="1.3" fill="#5a2e0c" opacity="0.85"/>
<circle cx="1.0" cy="9.2" r="1.2" fill="#5a2e0c" opacity="0.84"/>
<circle cx="69.3" cy="31.3" r="1.2" fill="#5a2e0c" opacity="0.50"/>
<circle cx="30.3" cy="2.0" r="1.3" fill="#5a2e0c" opacity="0.89"/>
<circle cx="52.1" cy="29.0" r="1.0" fill="#5a2e0c" opacity="0.76"/>
<circle cx="22.6" cy="5.9" r="1.2" fill="#5a2e0c" opacity="0.87"/>
<circle cx="21.3" cy="22.7" r="0.9" fill="#5a2e0c" opacity="0.84"/>
<circle cx="27.1" cy="35.7" r="0.7" fill="#5a2e0c" opacity="0.91"/>
<circle cx="53.0" cy="20.0" r="1.0" fill="#5a2e0c" opacity="0.81"/>
<circle cx="44.5" cy="6.9" r="0.7" fill="#5a2e0c" opacity="0.55"/>
<circle cx="50.5" cy="52.9" r="0.7" fill="#5a2e0c" opacity="0.89"/>
<circle cx="61.2" cy="13.6" r="0.9" fill="#5a2e0c" opacity="0.54"/>
<circle cx="65.0" cy="24.7" r="1.2" fill="#5a2e0c" opacity="0.69"/>
<circle cx="34.9" cy="28.9" r="1.2" fill="#5a2e0c" opacity="0.76"/>
<circle cx="51.8" cy="21.6" r="0.7" fill="#5a2e0c" opacity="0.61"/>
<circle cx="65.6" cy="0.9" r="1.2" fill="#5a2e0c" opacity="0.74"/>
<circle cx="28.1" cy="24.1" r="0.9" fill="#5a2e0c" opacity="0.82"/>
<circle cx="58.5" cy="48.8" r="0.9" fill="#5a2e0c" opacity="0.79"/>
<circle cx="15.4" cy="36.9" r="0.6" fill="#5a2e0c" opacity="0.88"/>
<circle cx="73.4" cy="23.5" r="0.7" fill="#5a2e0c" opacity="0.58"/>
<circle cx="48.2" cy="0.5" r="0.8" fill="#5a2e0c" opacity="0.50"/>
<circle cx="5.4" cy="5.5" r="1.3" fill="#5a2e0c" opacity="0.85"/>
<circle cx="36.7" cy="36.9" r="0.7" fill="#5a2e0c" opacity="0.82"/>
<circle cx="19.1" cy="37.1" r="0.9" fill="#5a2e0c" opacity="0.89"/>
<circle cx="5.1" cy="3.3" r="1.2" fill="#5a2e0c" opacity="0.87"/>
<circle cx="27.2" cy="6.7" r="1.0" fill="#5a2e0c" opacity="0.73"/>
<circle cx="32.4" cy="44.0" r="0.7" fill="#5a2e0c" opacity="0.67"/>
<circle cx="51.2" cy="26.6" r="0.9" fill="#5a2e0c" opacity="0.77"/>
<circle cx="13.9" cy="26.8" r="0.6" fill="#5a2e0c" opacity="0.62"/>
<circle cx="3.1" cy="15.0" r="0.6" fill="#5a2e0c" opacity="0.95"/>
<circle cx="75.1" cy="2.0" r="0.7" fill="#5a2e0c" opacity="0.92"/>
<circle cx="75.9" cy="49.3" r="1.3" fill="#5a2e0c" opacity="0.74"/>
</g></g>
<rect x="67.8" y="48.699999999999996" width="7" height="1.3" fill="#e83a3a"/>
</svg>
<text x="384.90" y="174.30" font-size="11.2" font-weight="normal" text-anchor="middle" dominant-baseline="central" fill="#000">Control</text>
<text x="468.40" y="174.30" font-size="11.2" font-weight="normal" text-anchor="middle" dominant-baseline="central" fill="#000">8a</text>
<text x="553.50" y="174.30" font-size="11.2" font-weight="normal" text-anchor="middle" dominant-baseline="central" fill="#000">GEM</text>
<text x="636.60" y="174.30" font-size="11.2" font-weight="normal" text-anchor="middle" dominant-baseline="central" fill="#000">GEM+8a</text>
<text x="342.50" y="209.40" font-size="11.2" font-weight="normal" text-anchor="end" dominant-baseline="central" fill="#000">Ki67</text>
<text x="290.80" y="256.00" font-size="11.2" font-weight="normal" text-anchor="start" dominant-baseline="central" fill="#000">Cleaved-</text>
<text x="290.80" y="275.20" font-size="11.2" font-weight="normal" text-anchor="start" dominant-baseline="central" fill="#000">Caspase 3</text>
<text x="113.10" y="341.70" font-size="9.6" font-weight="normal" text-anchor="middle" dominant-baseline="central" fill="#222">1</text>
<text x="127.00" y="341.70" font-size="9.6" font-weight="normal" text-anchor="middle" dominant-baseline="central" fill="#222">2</text>
<text x="142.30" y="341.70" font-size="9.6" font-weight="normal" text-anchor="middle" dominant-baseline="central" fill="#222">3</text>
<text x="156.40" y="341.70" font-size="9.6" font-weight="normal" text-anchor="middle" dominant-baseline="central" fill="#222">4</text>
<text x="173.00" y="341.70" font-size="9.6" font-weight="normal" text-anchor="middle" dominant-baseline="central" fill="#222">5</text>
<text x="189.20" y="341.70" font-size="9.6" font-weight="normal" text-anchor="middle" dominant-baseline="central" fill="#222">6</text>
<text x="205.00" y="341.70" font-size="9.6" font-weight="normal" text-anchor="middle" dominant-baseline="central" fill="#222">7</text>
<text x="222.10" y="341.70" font-size="9.6" font-weight="normal" text-anchor="middle" dominant-baseline="central" fill="#222">8</text>
<text x="237.80" y="341.70" font-size="9.6" font-weight="normal" text-anchor="middle" dominant-baseline="central" fill="#222">9</text>
<text x="251.70" y="341.70" font-size="9.6" font-weight="normal" text-anchor="middle" dominant-baseline="central" fill="#222">10</text>
<text x="268.80" y="341.70" font-size="9.6" font-weight="normal" text-anchor="middle" dominant-baseline="central" fill="#222">11</text>
<text x="284.50" y="341.70" font-size="9.6" font-weight="normal" text-anchor="middle" dominant-baseline="central" fill="#222">12</text>
<text x="126.80" y="327.30" font-size="9.8" font-weight="normal" text-anchor="middle" dominant-baseline="central" fill="#222">Control</text>
<line x1="109.00" y1="333.80" x2="144.00" y2="333.80" stroke="#777" stroke-width="1.0"/>
<text x="172.50" y="327.30" font-size="9.8" font-weight="normal" text-anchor="middle" dominant-baseline="central" fill="#222">8a</text>
<line x1="155.70" y1="333.80" x2="192.20" y2="333.80" stroke="#777" stroke-width="1.0"/>
<text x="221.40" y="327.30" font-size="9.8" font-weight="normal" text-anchor="middle" dominant-baseline="central" fill="#222">GEM</text>
<line x1="203.10" y1="333.80" x2="239.60" y2="333.80" stroke="#777" stroke-width="1.0"/>
<text x="270.70" y="327.30" font-size="9.8" font-weight="normal" text-anchor="middle" dominant-baseline="central" fill="#222">8a+GEM</text>
<line x1="248.80" y1="333.80" x2="290.70" y2="333.80" stroke="#777" stroke-width="1.0"/>
<text x="100.20" y="358.10" font-size="9.6" font-weight="normal" text-anchor="end" dominant-baseline="central" fill="#111">Ac-H3K9</text>
<rect x="102.80" y="347.90" width="190.60" height="20.40" fill="#fafafa" stroke="#8c8c8c" stroke-width="1.0"/>
<g filter="url(#bl)">
<rect x="151.9" y="357.8" width="13.2" height="4.5" rx="2.2" fill="rgb(29,29,29)"/>
<rect x="167.6" y="357.8" width="13.1" height="4.4" rx="2.2" fill="rgb(37,37,37)"/>
<rect x="183.3" y="357.8" width="13.2" height="4.5" rx="2.2" fill="rgb(29,29,29)"/>
<rect x="246.2" y="357.8" width="13.1" height="4.4" rx="2.2" fill="rgb(37,37,37)"/>
<rect x="262.1" y="358.0" width="12.7" height="4.0" rx="2.0" fill="rgb(68,68,68)"/>
<rect x="277.5" y="357.6" width="13.5" height="4.8" rx="2.4" fill="rgb(6,6,6)"/>
</g>
<text x="100.20" y="382.82" font-size="9.6" font-weight="normal" text-anchor="end" dominant-baseline="central" fill="#111">H3</text>
<rect x="102.80" y="372.62" width="190.60" height="20.40" fill="#fafafa" stroke="#8c8c8c" stroke-width="1.0"/>
<g filter="url(#bl)">
<rect x="104.5" y="381.0" width="13.5" height="5.7" rx="2.8" fill="rgb(6,6,6)"/>
<rect x="120.3" y="381.1" width="13.3" height="5.5" rx="2.7" fill="rgb(18,18,18)"/>
<rect x="136.1" y="381.1" width="13.3" height="5.4" rx="2.7" fill="rgb(21,21,21)"/>
<rect x="151.8" y="381.1" width="13.3" height="5.5" rx="2.7" fill="rgb(18,18,18)"/>
<rect x="167.5" y="381.1" width="13.3" height="5.5" rx="2.7" fill="rgb(18,18,18)"/>
<rect x="183.2" y="381.1" width="13.3" height="5.5" rx="2.7" fill="rgb(18,18,18)"/>
<rect x="199.0" y="381.1" width="13.3" height="5.4" rx="2.7" fill="rgb(21,21,21)"/>
<rect x="214.7" y="381.1" width="13.3" height="5.5" rx="2.7" fill="rgb(18,18,18)"/>
<rect x="230.4" y="381.1" width="13.3" height="5.4" rx="2.7" fill="rgb(21,21,21)"/>
<rect x="246.1" y="381.1" width="13.4" height="5.5" rx="2.8" fill="rgb(13,13,13)"/>
<rect x="261.8" y="381.1" width="13.4" height="5.5" rx="2.8" fill="rgb(15,15,15)"/>
<rect x="277.5" y="381.1" width="13.4" height="5.5" rx="2.8" fill="rgb(13,13,13)"/>
</g>
<text x="100.20" y="407.54" font-size="9.6" font-weight="normal" text-anchor="end" dominant-baseline="central" fill="#111">Caspase 3</text>
<rect x="102.80" y="397.34" width="190.60" height="20.40" fill="#fafafa" stroke="#8c8c8c" stroke-width="1.0"/>
<g filter="url(#bl)">
<rect x="104.7" y="405.5" width="13.2" height="4.5" rx="2.2" fill="rgb(29,29,29)"/>
<rect x="120.3" y="405.4" width="13.4" height="4.7" rx="2.4" fill="rgb(13,13,13)"/>
<rect x="136.2" y="405.6" width="13.0" height="4.3" rx="2.1" fill="rgb(45,45,45)"/>
<rect x="152.4" y="406.1" width="12.1" height="3.3" rx="1.6" fill="rgb(128,128,128)"/>
<rect x="168.2" y="406.2" width="12.1" height="3.2" rx="1.6" fill="rgb(138,138,138)"/>
<rect x="183.8" y="406.1" width="12.1" height="3.2" rx="1.6" fill="rgb(133,133,133)"/>
<rect x="199.5" y="406.1" width="12.2" height="3.3" rx="1.7" fill="rgb(124,124,124)"/>
<rect x="215.3" y="406.2" width="12.0" height="3.1" rx="1.5" fill="rgb(148,148,148)"/>
<rect x="230.9" y="406.1" width="12.2" height="3.4" rx="1.7" fill="rgb(119,119,119)"/>
<rect x="247.0" y="406.4" width="11.6" height="2.6" rx="1.3" fill="rgb(210,210,210)"/>
<rect x="262.7" y="406.4" width="11.6" height="2.6" rx="1.3" fill="rgb(215,215,215)"/>
<rect x="278.4" y="406.4" width="11.6" height="2.6" rx="1.3" fill="rgb(210,210,210)"/>
</g>
<text x="100.20" y="432.26" font-size="9.6" font-weight="normal" text-anchor="end" dominant-baseline="central" fill="#111">Cleaved-Caspase 3</text>
<rect x="102.80" y="422.06" width="190.60" height="20.40" fill="#fafafa" stroke="#8c8c8c" stroke-width="1.0"/>
<g filter="url(#bl)">
<rect x="105.5" y="430.1" width="11.6" height="2.4" rx="1.2" fill="rgb(210,210,210)"/>
<rect x="121.2" y="430.1" width="11.6" height="2.4" rx="1.2" fill="rgb(215,215,215)"/>
<rect x="137.0" y="430.1" width="11.6" height="2.4" rx="1.2" fill="rgb(220,220,220)"/>
<rect x="152.3" y="429.7" width="12.3" height="3.2" rx="1.6" fill="rgb(110,110,110)"/>
<rect x="168.0" y="429.6" width="12.4" height="3.3" rx="1.6" fill="rgb(100,100,100)"/>
<rect x="183.7" y="429.7" width="12.3" height="3.2" rx="1.6" fill="rgb(106,106,106)"/>
<rect x="199.3" y="429.6" width="12.5" height="3.4" rx="1.7" fill="rgb(86,86,86)"/>
<rect x="215.1" y="429.6" width="12.4" height="3.3" rx="1.6" fill="rgb(100,100,100)"/>
<rect x="230.9" y="429.7" width="12.3" height="3.2" rx="1.6" fill="rgb(106,106,106)"/>
<rect x="246.0" y="429.1" width="13.5" height="4.4" rx="2.2" fill="rgb(6,6,6)"/>
<rect x="261.9" y="429.2" width="13.2" height="4.1" rx="2.0" fill="rgb(29,29,29)"/>
<rect x="277.6" y="429.1" width="13.3" height="4.2" rx="2.1" fill="rgb(18,18,18)"/>
</g>
<text x="100.20" y="456.98" font-size="9.6" font-weight="normal" text-anchor="end" dominant-baseline="central" fill="#111">Ki67</text>
<rect x="102.80" y="446.78" width="190.60" height="20.40" fill="#fafafa" stroke="#8c8c8c" stroke-width="1.0"/>
<g filter="url(#bl)">
<rect x="104.5" y="452.7" width="13.5" height="5.9" rx="2.9" fill="rgb(6,6,6)"/>
<rect x="120.4" y="453.2" width="13.2" height="5.5" rx="2.7" fill="rgb(29,29,29)"/>
<rect x="136.2" y="454.4" width="13.0" height="5.2" rx="2.6" fill="rgb(45,45,45)"/>
<rect x="152.0" y="457.0" width="13.0" height="5.2" rx="2.6" fill="rgb(45,45,45)"/>
<rect x="167.8" y="457.7" width="12.7" height="4.7" rx="2.4" fill="rgb(75,75,75)"/>
<rect x="183.7" y="456.7" width="12.5" height="4.5" rx="2.2" fill="rgb(90,90,90)"/>
<rect x="199.3" y="455.5" width="12.6" height="4.6" rx="2.3" fill="rgb(80,80,80)"/>
<rect x="215.1" y="455.3" width="12.4" height="4.3" rx="2.2" fill="rgb(100,100,100)"/>
<rect x="230.7" y="454.7" width="12.8" height="4.9" rx="2.4" fill="rgb(62,62,62)"/>
<rect x="246.7" y="455.1" width="12.2" height="4.1" rx="2.0" fill="rgb(121,121,121)"/>
<rect x="262.6" y="454.2" width="11.8" height="3.5" rx="1.8" fill="rgb(173,173,173)"/>
<rect x="278.2" y="451.4" width="12.1" height="3.9" rx="2.0" fill="rgb(133,133,133)"/>
</g>
<text x="100.20" y="481.70" font-size="9.6" font-weight="normal" text-anchor="end" dominant-baseline="central" fill="#111">SIRT6</text>
<rect x="102.80" y="471.50" width="190.60" height="20.40" fill="#fafafa" stroke="#8c8c8c" stroke-width="1.0"/>
<g filter="url(#bl)">
<rect x="105.0" y="481.2" width="12.5" height="2.9" rx="1.4" fill="rgb(90,90,90)"/>
<rect x="120.7" y="481.1" width="12.6" height="3.0" rx="1.5" fill="rgb(80,80,80)"/>
<rect x="136.5" y="481.2" width="12.4" height="2.8" rx="1.4" fill="rgb(100,100,100)"/>
<rect x="152.2" y="481.2" width="12.5" height="2.9" rx="1.4" fill="rgb(90,90,90)"/>
<rect x="167.9" y="481.2" width="12.5" height="2.9" rx="1.4" fill="rgb(90,90,90)"/>
<rect x="183.3" y="480.8" width="13.2" height="3.5" rx="1.8" fill="rgb(29,29,29)"/>
<rect x="199.0" y="480.8" width="13.2" height="3.5" rx="1.8" fill="rgb(29,29,29)"/>
<rect x="215.0" y="481.1" width="12.7" height="3.1" rx="1.5" fill="rgb(71,71,71)"/>
<rect x="230.8" y="481.1" width="12.6" height="3.0" rx="1.5" fill="rgb(80,80,80)"/>
<rect x="246.5" y="481.2" width="12.5" height="2.9" rx="1.4" fill="rgb(90,90,90)"/>
<rect x="262.3" y="481.2" width="12.4" height="2.8" rx="1.4" fill="rgb(100,100,100)"/>
<rect x="277.9" y="481.1" width="12.7" height="3.1" rx="1.5" fill="rgb(71,71,71)"/>
</g>
<text x="100.20" y="506.42" font-size="9.6" font-weight="normal" text-anchor="end" dominant-baseline="central" fill="#111">β-Actin</text>
<rect x="102.80" y="496.22" width="190.60" height="20.40" fill="#fafafa" stroke="#8c8c8c" stroke-width="1.0"/>
<g filter="url(#bl)">
<rect x="104.6" y="501.7" width="13.4" height="5.5" rx="2.8" fill="rgb(13,13,13)"/>
<rect x="120.4" y="501.7" width="13.3" height="5.4" rx="2.7" fill="rgb(21,21,21)"/>
<rect x="136.1" y="501.7" width="13.3" height="5.4" rx="2.7" fill="rgb(21,21,21)"/>
<rect x="151.8" y="501.7" width="13.3" height="5.5" rx="2.7" fill="rgb(18,18,18)"/>
<rect x="167.6" y="501.8" width="13.2" height="5.3" rx="2.6" fill="rgb(29,29,29)"/>
<rect x="183.2" y="501.7" width="13.3" height="5.5" rx="2.7" fill="rgb(18,18,18)"/>
<rect x="199.0" y="501.7" width="13.3" height="5.4" rx="2.7" fill="rgb(21,21,21)"/>
<rect x="214.7" y="501.7" width="13.3" height="5.4" rx="2.7" fill="rgb(21,21,21)"/>
<rect x="230.5" y="501.8" width="13.2" height="5.3" rx="2.6" fill="rgb(29,29,29)"/>
<rect x="246.1" y="501.7" width="13.4" height="5.5" rx="2.8" fill="rgb(13,13,13)"/>
<rect x="261.8" y="501.7" width="13.4" height="5.5" rx="2.8" fill="rgb(13,13,13)"/>
<rect x="277.5" y="501.7" width="13.4" height="5.5" rx="2.8" fill="rgb(13,13,13)"/>
</g>
<line x1="380.20" y1="334.90" x2="380.20" y2="444.10" stroke="#000" stroke-width="1.3"/>
<line x1="376.00" y1="443.50" x2="380.20" y2="443.50" stroke="#000" stroke-width="1.3"/>
<text x="374.20" y="443.70" font-size="8" font-weight="bold" text-anchor="end" dominant-baseline="central" fill="#000">0</text>
<line x1="376.00" y1="407.50" x2="380.20" y2="407.50" stroke="#000" stroke-width="1.3"/>
<text x="374.20" y="407.70" font-size="8" font-weight="bold" text-anchor="end" dominant-baseline="central" fill="#000">50</text>
<line x1="376.00" y1="371.50" x2="380.20" y2="371.50" stroke="#000" stroke-width="1.3"/>
<text x="374.20" y="371.70" font-size="8" font-weight="bold" text-anchor="end" dominant-baseline="central" fill="#000">100</text>
<line x1="376.00" y1="335.50" x2="380.20" y2="335.50" stroke="#000" stroke-width="1.3"/>
<text x="374.20" y="335.70" font-size="8" font-weight="bold" text-anchor="end" dominant-baseline="central" fill="#000">150</text>
<line x1="376.00" y1="443.50" x2="488.80" y2="443.50" stroke="#000" stroke-width="1.3"/>
<rect x="389.10" y="372.22" width="14.90" height="71.28" fill="#a3a3a6" stroke="#000" stroke-width="1.5"/>
<rect x="413.90" y="402.46" width="15.40" height="41.04" fill="#a3a3a6" stroke="#000" stroke-width="1.5"/>
<rect x="438.70" y="412.90" width="15.40" height="30.60" fill="#a3a3a6" stroke="#000" stroke-width="1.5"/>
<rect x="463.50" y="430.18" width="15.40" height="13.32" fill="#a3a3a6" stroke="#000" stroke-width="1.5"/>
<line x1="396.50" y1="443.50" x2="396.50" y2="447.50" stroke="#000" stroke-width="1.3"/>
<circle cx="390.55" cy="371.92" r="2.40" fill="#b416e6"/>
<circle cx="396.55" cy="369.82" r="2.40" fill="#b416e6"/>
<circle cx="402.75" cy="371.42" r="2.40" fill="#b416e6"/>
<line x1="421.30" y1="443.50" x2="421.30" y2="447.50" stroke="#000" stroke-width="1.3"/>
<circle cx="415.60" cy="402.16" r="2.40" fill="#b416e6"/>
<circle cx="421.60" cy="400.06" r="2.40" fill="#b416e6"/>
<circle cx="427.80" cy="401.66" r="2.40" fill="#b416e6"/>
<line x1="446.70" y1="443.50" x2="446.70" y2="447.50" stroke="#000" stroke-width="1.3"/>
<circle cx="440.40" cy="412.60" r="2.40" fill="#b416e6"/>
<circle cx="446.40" cy="410.50" r="2.40" fill="#b416e6"/>
<circle cx="452.60" cy="412.10" r="2.40" fill="#b416e6"/>
<line x1="471.50" y1="443.50" x2="471.50" y2="447.50" stroke="#000" stroke-width="1.3"/>
<circle cx="465.20" cy="429.88" r="2.40" fill="#b416e6"/>
<circle cx="471.20" cy="427.78" r="2.40" fill="#b416e6"/>
<circle cx="477.40" cy="429.38" r="2.40" fill="#b416e6"/>
<text x="436.20" y="346.60" font-size="9" font-weight="bold" text-anchor="middle" dominant-baseline="central" fill="#000">Ki 67</text>
<text x="352.80" y="389.30" font-size="9" font-weight="bold" text-anchor="middle" dominant-baseline="central" fill="#000" transform="rotate(-90 352.8 389.3)">Positive rate (%)</text>
<path d="M418.95,393.35V397.65M417.09,394.42L420.81,396.58M417.09,396.58L420.81,394.42M424.65,393.35V397.65M422.79,394.42L426.51,396.58M422.79,396.58L426.51,394.42" stroke="#000" stroke-width="1.02" fill="none"/>
<path d="M443.85,404.55V408.85M441.99,405.62L445.71,407.78M441.99,407.78L445.71,405.62M449.55,404.55V408.85M447.69,405.62L451.41,407.78M447.69,407.78L451.41,405.62" stroke="#000" stroke-width="1.02" fill="none"/>
<path d="M468.69,421.39H472.49M468.69,423.21H472.49M470.13,419.72L469.22,424.88M471.96,419.72L471.04,424.88M472.91,421.39H476.71M472.91,423.21H476.71M474.36,419.72L473.44,424.88M476.18,419.72L475.27,424.88" stroke="#222" stroke-width="0.80" fill="none"/>
<text x="392.00" y="455.40" font-size="9" font-weight="bold" text-anchor="end" dominant-baseline="central" fill="#000">8a (20 mg/kg)</text>
<text x="392.00" y="466.50" font-size="9" font-weight="bold" text-anchor="end" dominant-baseline="central" fill="#000">GEM (10 mg/kg)</text>
<line x1="393.80" y1="455.90" x2="399.20" y2="455.90" stroke="#333" stroke-width="1.0"/>
<line x1="393.80" y1="467.00" x2="399.20" y2="467.00" stroke="#333" stroke-width="1.0"/>
<text x="421.30" y="455.40" font-size="9" font-weight="bold" text-anchor="middle" dominant-baseline="central" fill="#333">+</text>
<line x1="418.60" y1="467.00" x2="424.00" y2="467.00" stroke="#333" stroke-width="1.0"/>
<line x1="444.00" y1="455.90" x2="449.40" y2="455.90" stroke="#888" stroke-width="1.0"/>
<text x="446.70" y="466.50" font-size="9" font-weight="bold" text-anchor="middle" dominant-baseline="central" fill="#333">+</text>
<text x="471.50" y="455.40" font-size="9" font-weight="bold" text-anchor="middle" dominant-baseline="central" fill="#333">+</text>
<text x="471.50" y="466.50" font-size="9" font-weight="bold" text-anchor="middle" dominant-baseline="central" fill="#333">+</text>
<line x1="571.20" y1="334.60" x2="571.20" y2="444.10" stroke="#000" stroke-width="1.3"/>
<line x1="567.00" y1="443.50" x2="571.20" y2="443.50" stroke="#000" stroke-width="1.3"/>
<text x="565.20" y="443.70" font-size="8" font-weight="bold" text-anchor="end" dominant-baseline="central" fill="#000">0</text>
<line x1="567.00" y1="416.43" x2="571.20" y2="416.43" stroke="#000" stroke-width="1.3"/>
<text x="565.20" y="416.62" font-size="8" font-weight="bold" text-anchor="end" dominant-baseline="central" fill="#000">200</text>
<line x1="567.00" y1="389.35" x2="571.20" y2="389.35" stroke="#000" stroke-width="1.3"/>
<text x="565.20" y="389.55" font-size="8" font-weight="bold" text-anchor="end" dominant-baseline="central" fill="#000">400</text>
<line x1="567.00" y1="362.27" x2="571.20" y2="362.27" stroke="#000" stroke-width="1.3"/>
<text x="565.20" y="362.47" font-size="8" font-weight="bold" text-anchor="end" dominant-baseline="central" fill="#000">600</text>
<line x1="567.00" y1="335.20" x2="571.20" y2="335.20" stroke="#000" stroke-width="1.3"/>
<text x="565.20" y="335.40" font-size="8" font-weight="bold" text-anchor="end" dominant-baseline="central" fill="#000">800</text>
<line x1="567.00" y1="443.50" x2="680.40" y2="443.50" stroke="#000" stroke-width="1.3"/>
<rect x="579.60" y="431.05" width="15.80" height="12.45" fill="#a3a3a6" stroke="#000" stroke-width="1.5"/>
<rect x="605.10" y="406.00" width="15.30" height="37.50" fill="#a3a3a6" stroke="#000" stroke-width="1.5"/>
<rect x="630.10" y="399.10" width="15.50" height="44.40" fill="#a3a3a6" stroke="#000" stroke-width="1.5"/>
<rect x="655.30" y="351.99" width="15.30" height="91.51" fill="#a3a3a6" stroke="#000" stroke-width="1.5"/>
<line x1="587.50" y1="443.50" x2="587.50" y2="447.50" stroke="#000" stroke-width="1.3"/>
<circle cx="581.50" cy="430.75" r="2.40" fill="#b416e6"/>
<circle cx="587.50" cy="428.65" r="2.40" fill="#b416e6"/>
<circle cx="593.70" cy="430.25" r="2.40" fill="#b416e6"/>
<line x1="612.80" y1="443.50" x2="612.80" y2="447.50" stroke="#000" stroke-width="1.3"/>
<circle cx="606.75" cy="405.70" r="2.40" fill="#b416e6"/>
<circle cx="612.75" cy="403.60" r="2.40" fill="#b416e6"/>
<circle cx="618.95" cy="405.20" r="2.40" fill="#b416e6"/>
<line x1="637.80" y1="443.50" x2="637.80" y2="447.50" stroke="#000" stroke-width="1.3"/>
<circle cx="631.85" cy="398.80" r="2.40" fill="#b416e6"/>
<circle cx="637.85" cy="396.70" r="2.40" fill="#b416e6"/>
<circle cx="644.05" cy="398.30" r="2.40" fill="#b416e6"/>
<line x1="662.90" y1="443.50" x2="662.90" y2="447.50" stroke="#000" stroke-width="1.3"/>
<circle cx="656.95" cy="351.69" r="2.40" fill="#b416e6"/>
<circle cx="662.95" cy="349.59" r="2.40" fill="#b416e6"/>
<circle cx="669.15" cy="351.19" r="2.40" fill="#b416e6"/>
<text x="620.40" y="337.40" font-size="9" font-weight="bold" text-anchor="middle" dominant-baseline="central" fill="#000">Cleaved Caspase 3</text>
<text x="543.50" y="389.30" font-size="9" font-weight="bold" text-anchor="middle" dominant-baseline="central" fill="#000" transform="rotate(-90 543.5 389.3)">Positive rate (%)</text>
<path d="M610.55,397.75V402.05M608.69,398.82L612.41,400.98M608.69,400.98L612.41,398.82M616.25,397.75V402.05M614.39,398.82L618.11,400.98M614.39,400.98L618.11,398.82" stroke="#000" stroke-width="1.02" fill="none"/>
<path d="M635.55,389.95V394.25M633.69,391.02L637.41,393.18M633.69,393.18L637.41,391.02M641.25,389.95V394.25M639.39,391.02L643.11,393.18M639.39,393.18L643.11,391.02" stroke="#000" stroke-width="1.02" fill="none"/>
<path d="M658.07,342.39H661.87M658.07,344.21H661.87M659.52,340.72L658.61,345.88M661.34,340.72L660.43,345.88M662.30,342.39H666.10M662.30,344.21H666.10M663.74,340.72L662.83,345.88M665.57,340.72L664.66,345.88M666.53,342.39H670.33M666.53,344.21H670.33M667.97,340.72L667.06,345.88M669.79,340.72L668.88,345.88" stroke="#222" stroke-width="0.80" fill="none"/>
<text x="583.70" y="455.40" font-size="9" font-weight="bold" text-anchor="end" dominant-baseline="central" fill="#000">8a (20 mg/kg)</text>
<text x="583.70" y="466.50" font-size="9" font-weight="bold" text-anchor="end" dominant-baseline="central" fill="#000">GEM (10 mg/kg)</text>
<line x1="584.80" y1="455.90" x2="590.20" y2="455.90" stroke="#333" stroke-width="1.0"/>
<line x1="584.80" y1="467.00" x2="590.20" y2="467.00" stroke="#333" stroke-width="1.0"/>
<text x="612.80" y="455.40" font-size="9" font-weight="bold" text-anchor="middle" dominant-baseline="central" fill="#333">+</text>
<line x1="610.10" y1="467.00" x2="615.50" y2="467.00" stroke="#333" stroke-width="1.0"/>
<line x1="635.10" y1="455.90" x2="640.50" y2="455.90" stroke="#888" stroke-width="1.0"/>
<text x="637.80" y="466.50" font-size="9" font-weight="bold" text-anchor="middle" dominant-baseline="central" fill="#333">+</text>
<text x="662.90" y="455.40" font-size="9" font-weight="bold" text-anchor="middle" dominant-baseline="central" fill="#333">+</text>
<text x="662.90" y="466.50" font-size="9" font-weight="bold" text-anchor="middle" dominant-baseline="central" fill="#333">+</text>
<line x1="70.50" y1="545.30" x2="70.50" y2="654.80" stroke="#000" stroke-width="1.3"/>
<line x1="66.00" y1="654.20" x2="70.50" y2="654.20" stroke="#000" stroke-width="1.3"/>
<text x="64.40" y="654.40" font-size="8" font-weight="bold" text-anchor="end" dominant-baseline="central" fill="#000">0.0</text>
<line x1="66.00" y1="618.10" x2="70.50" y2="618.10" stroke="#000" stroke-width="1.3"/>
<text x="64.40" y="618.30" font-size="8" font-weight="bold" text-anchor="end" dominant-baseline="central" fill="#000">0.5</text>
<line x1="66.00" y1="582.00" x2="70.50" y2="582.00" stroke="#000" stroke-width="1.3"/>
<text x="64.40" y="582.20" font-size="8" font-weight="bold" text-anchor="end" dominant-baseline="central" fill="#000">1.0</text>
<line x1="66.00" y1="545.90" x2="70.50" y2="545.90" stroke="#000" stroke-width="1.3"/>
<text x="64.40" y="546.10" font-size="8" font-weight="bold" text-anchor="end" dominant-baseline="central" fill="#000">1.5</text>
<line x1="66.00" y1="654.20" x2="238.90" y2="654.20" stroke="#000" stroke-width="1.6"/>
<rect x="75.10" y="582.00" width="8.60" height="72.20" fill="#000" stroke="#000" stroke-width="1.5"/>
<rect x="89.00" y="580.56" width="8.30" height="73.64" fill="#9a9a9a" stroke="#000" stroke-width="1.5"/>
<rect x="102.60" y="582.00" width="8.00" height="72.20" fill="#8a8a8a" stroke="#000" stroke-width="1.5"/>
<rect x="116.40" y="597.88" width="8.00" height="56.32" fill="#dcdcdc" stroke="#000" stroke-width="1.5"/>
<rect x="129.70" y="600.77" width="8.00" height="53.43" fill="#555" stroke="#000" stroke-width="1.5"/>
<rect x="143.20" y="607.99" width="8.30" height="46.21" fill="#9a9a9a" stroke="#000" stroke-width="1.5"/>
<rect x="156.50" y="609.44" width="8.30" height="44.76" fill="#555" stroke="#000" stroke-width="1.5"/>
<rect x="170.30" y="614.49" width="8.00" height="39.71" fill="#e6e6e6" stroke="#000" stroke-width="1.5"/>
<rect x="184.10" y="605.10" width="8.30" height="49.10" fill="#9a9a9a" stroke="#000" stroke-width="1.5"/>
<rect x="197.40" y="638.32" width="8.50" height="15.88" fill="#000" stroke="#000" stroke-width="1.5"/>
<rect x="211.20" y="642.65" width="8.00" height="11.55" fill="#9a9a9a" stroke="#000" stroke-width="1.5"/>
<rect x="224.70" y="635.43" width="8.30" height="18.77" fill="#7a7a7a" stroke="#000" stroke-width="1.5"/>
<line x1="79.40" y1="582.00" x2="79.40" y2="577.67" stroke="#44e044" stroke-width="1.0"/>
<line x1="77.20" y1="577.67" x2="81.60" y2="577.67" stroke="#44e044" stroke-width="1.0"/>
<circle cx="76.40" cy="577.67" r="1.90" fill="#22dd22"/>
<circle cx="82.40" cy="579.83" r="1.90" fill="#22dd22"/>
<circle cx="79.40" cy="587.05" r="1.90" fill="#22dd22"/>
<line x1="93.15" y1="580.56" x2="93.15" y2="569.00" stroke="#44e044" stroke-width="1.0"/>
<line x1="90.95" y1="569.00" x2="95.35" y2="569.00" stroke="#44e044" stroke-width="1.0"/>
<circle cx="93.15" cy="570.45" r="1.90" fill="#22dd22"/>
<circle cx="93.15" cy="581.28" r="1.90" fill="#22dd22"/>
<circle cx="93.15" cy="587.05" r="1.90" fill="#22dd22"/>
<line x1="106.60" y1="582.00" x2="106.60" y2="579.11" stroke="#44e044" stroke-width="1.0"/>
<line x1="104.40" y1="579.11" x2="108.80" y2="579.11" stroke="#44e044" stroke-width="1.0"/>
<circle cx="105.10" cy="579.11" r="1.90" fill="#22dd22"/>
<circle cx="109.60" cy="578.39" r="1.90" fill="#22dd22"/>
<circle cx="106.60" cy="584.17" r="1.90" fill="#22dd22"/>
<line x1="120.40" y1="597.88" x2="120.40" y2="594.27" stroke="#ff5a5a" stroke-width="1.0"/>
<line x1="118.20" y1="594.27" x2="122.60" y2="594.27" stroke="#ff5a5a" stroke-width="1.0"/>
<path d="M116.83,593.56 L120.97,593.56 L118.90,597.16 Z" fill="#ff2020"/>
<path d="M120.63,592.83 L124.77,592.83 L122.70,596.43 Z" fill="#ff2020"/>
<path d="M118.33,595.00 L122.47,595.00 L120.40,598.60 Z" fill="#ff2020"/>
<line x1="133.70" y1="600.77" x2="133.70" y2="597.88" stroke="#ff5a5a" stroke-width="1.0"/>
<line x1="131.50" y1="597.88" x2="135.90" y2="597.88" stroke="#ff5a5a" stroke-width="1.0"/>
<path d="M131.40,596.27 L133.38,598.61 L131.40,600.95 L129.42,598.61 Z" fill="#ff2020"/>
<path d="M136.00,596.27 L137.98,598.61 L136.00,600.95 L134.02,598.61 Z" fill="#ff2020"/>
<path d="M133.70,597.71 L135.68,600.05 L133.70,602.39 L131.72,600.05 Z" fill="#ff2020"/>
<line x1="147.35" y1="607.99" x2="147.35" y2="604.38" stroke="#ff5a5a" stroke-width="1.0"/>
<line x1="145.15" y1="604.38" x2="149.55" y2="604.38" stroke="#ff5a5a" stroke-width="1.0"/>
<path d="M144.28,607.99 L148.42,607.99 L146.35,604.39 Z" fill="#ff2020"/>
<path d="M147.28,606.54 L151.42,606.54 L149.35,602.94 Z" fill="#ff2020"/>
<path d="M145.28,610.15 L149.42,610.15 L147.35,606.55 Z" fill="#ff2020"/>
<line x1="160.65" y1="609.44" x2="160.65" y2="606.55" stroke="#4a64ff" stroke-width="1.0"/>
<line x1="158.45" y1="606.55" x2="162.85" y2="606.55" stroke="#4a64ff" stroke-width="1.0"/>
<path d="M159.65,605.65 L161.63,607.99 L159.65,610.33 L157.67,607.99 Z" fill="#1a3cff"/>
<path d="M162.15,604.21 L164.13,606.55 L162.15,608.89 L160.17,606.55 Z" fill="#1a3cff"/>
<path d="M160.65,609.26 L162.63,611.60 L160.65,613.94 L158.67,611.60 Z" fill="#1a3cff"/>
<line x1="174.30" y1="614.49" x2="174.30" y2="610.88" stroke="#4a64ff" stroke-width="1.0"/>
<line x1="172.10" y1="610.88" x2="176.50" y2="610.88" stroke="#4a64ff" stroke-width="1.0"/>
<path d="M173.73,613.76 L177.87,613.76 L175.80,610.16 Z" fill="#1a3cff"/>
<path d="M170.73,616.65 L174.87,616.65 L172.80,613.05 Z" fill="#1a3cff"/>
<path d="M173.73,619.54 L177.87,619.54 L175.80,615.94 Z" fill="#1a3cff"/>
<line x1="188.25" y1="605.10" x2="188.25" y2="602.22" stroke="#4a64ff" stroke-width="1.0"/>
<line x1="186.05" y1="602.22" x2="190.45" y2="602.22" stroke="#4a64ff" stroke-width="1.0"/>
<path d="M188.25,599.15 L190.23,601.49 L188.25,603.83 L186.27,601.49 Z" fill="#1a3cff"/>
<path d="M186.25,602.04 L188.23,604.38 L186.25,606.72 L184.27,604.38 Z" fill="#1a3cff"/>
<path d="M191.25,602.76 L193.23,605.10 L191.25,607.44 L189.27,605.10 Z" fill="#1a3cff"/>
<line x1="201.65" y1="638.32" x2="201.65" y2="636.15" stroke="#c050e8" stroke-width="1.0"/>
<line x1="199.45" y1="636.15" x2="203.85" y2="636.15" stroke="#c050e8" stroke-width="1.0"/>
<circle cx="200.15" cy="635.43" r="1.90" fill="#b020e0"/>
<circle cx="203.65" cy="636.15" r="1.90" fill="#b020e0"/>
<circle cx="200.15" cy="638.32" r="1.90" fill="#b020e0"/>
<line x1="215.20" y1="642.65" x2="215.20" y2="640.48" stroke="#c050e8" stroke-width="1.0"/>
<line x1="213.00" y1="640.48" x2="217.40" y2="640.48" stroke="#c050e8" stroke-width="1.0"/>
<circle cx="212.70" cy="641.93" r="1.90" fill="#b020e0"/>
<circle cx="215.20" cy="641.20" r="1.90" fill="#b020e0"/>
<circle cx="217.70" cy="641.93" r="1.90" fill="#b020e0"/>
<line x1="228.85" y1="635.43" x2="228.85" y2="633.26" stroke="#c050e8" stroke-width="1.0"/>
<line x1="226.65" y1="633.26" x2="231.05" y2="633.26" stroke="#c050e8" stroke-width="1.0"/>
<circle cx="227.35" cy="634.71" r="1.90" fill="#b020e0"/>
<circle cx="230.85" cy="632.54" r="1.90" fill="#b020e0"/>
<circle cx="228.85" cy="636.87" r="1.90" fill="#b020e0"/>
<line x1="79.40" y1="654.20" x2="79.40" y2="658.20" stroke="#000" stroke-width="1.3"/>
<text x="79.40" y="664.90" font-size="8.6" font-weight="bold" text-anchor="middle" dominant-baseline="central" fill="#000">1</text>
<line x1="93.15" y1="654.20" x2="93.15" y2="658.20" stroke="#000" stroke-width="1.3"/>
<text x="93.15" y="664.90" font-size="8.6" font-weight="bold" text-anchor="middle" dominant-baseline="central" fill="#000">2</text>
<line x1="106.60" y1="654.20" x2="106.60" y2="658.20" stroke="#000" stroke-width="1.3"/>
<text x="106.60" y="664.90" font-size="8.6" font-weight="bold" text-anchor="middle" dominant-baseline="central" fill="#000">3</text>
<line x1="120.40" y1="654.20" x2="120.40" y2="658.20" stroke="#000" stroke-width="1.3"/>
<text x="120.40" y="664.90" font-size="8.6" font-weight="bold" text-anchor="middle" dominant-baseline="central" fill="#000">4</text>
<line x1="133.70" y1="654.20" x2="133.70" y2="658.20" stroke="#000" stroke-width="1.3"/>
<text x="133.70" y="664.90" font-size="8.6" font-weight="bold" text-anchor="middle" dominant-baseline="central" fill="#000">5</text>
<line x1="147.35" y1="654.20" x2="147.35" y2="658.20" stroke="#000" stroke-width="1.3"/>
<text x="147.35" y="664.90" font-size="8.6" font-weight="bold" text-anchor="middle" dominant-baseline="central" fill="#000">6</text>
<line x1="160.65" y1="654.20" x2="160.65" y2="658.20" stroke="#000" stroke-width="1.3"/>
<text x="160.65" y="664.90" font-size="8.6" font-weight="bold" text-anchor="middle" dominant-baseline="central" fill="#000">7</text>
<line x1="174.30" y1="654.20" x2="174.30" y2="658.20" stroke="#000" stroke-width="1.3"/>
<text x="174.30" y="664.90" font-size="8.6" font-weight="bold" text-anchor="middle" dominant-baseline="central" fill="#000">8</text>
<line x1="188.25" y1="654.20" x2="188.25" y2="658.20" stroke="#000" stroke-width="1.3"/>
<text x="188.25" y="664.90" font-size="8.6" font-weight="bold" text-anchor="middle" dominant-baseline="central" fill="#000">9</text>
<line x1="201.65" y1="654.20" x2="201.65" y2="658.20" stroke="#000" stroke-width="1.3"/>
<text x="201.65" y="664.90" font-size="8.6" font-weight="bold" text-anchor="middle" dominant-baseline="central" fill="#000">10</text>
<line x1="215.20" y1="654.20" x2="215.20" y2="658.20" stroke="#000" stroke-width="1.3"/>
<text x="215.20" y="664.90" font-size="8.6" font-weight="bold" text-anchor="middle" dominant-baseline="central" fill="#000">11</text>
<line x1="228.85" y1="654.20" x2="228.85" y2="658.20" stroke="#000" stroke-width="1.3"/>
<text x="228.85" y="664.90" font-size="8.6" font-weight="bold" text-anchor="middle" dominant-baseline="central" fill="#000">12</text>
<line x1="74.60" y1="670.00" x2="111.10" y2="670.00" stroke="#000" stroke-width="1.6"/>
<line x1="115.90" y1="670.00" x2="152.00" y2="670.00" stroke="#000" stroke-width="1.6"/>
<line x1="156.00" y1="670.00" x2="192.90" y2="670.00" stroke="#000" stroke-width="1.6"/>
<line x1="196.90" y1="670.00" x2="233.50" y2="670.00" stroke="#000" stroke-width="1.6"/>
<line x1="76.10" y1="567.90" x2="108.20" y2="567.90" stroke="#000" stroke-width="1.6"/>
<line x1="114.20" y1="591.50" x2="149.80" y2="591.50" stroke="#000" stroke-width="1.6"/>
<line x1="158.50" y1="597.70" x2="190.40" y2="597.70" stroke="#000" stroke-width="1.6"/>
<line x1="199.20" y1="629.60" x2="231.00" y2="629.60" stroke="#000" stroke-width="1.6"/>
<path d="M86.5,558.3 V551.4 H172.3 V558.8" stroke="#000" stroke-width="1.6" fill="none"/>
<path d="M126.05,542.14V547.06M123.92,543.37L128.18,545.83M123.92,545.83L128.18,543.37M132.75,542.14V547.06M130.62,543.37L134.88,545.83M130.62,545.83L134.88,543.37" stroke="#000" stroke-width="1.16" fill="none"/>
<path d="M86.5,566.3 V561 H133.8 V566.3" stroke="#000" stroke-width="1.6" fill="none"/>
<path d="M107.65,554.24V559.16M105.52,555.47L109.78,557.93M105.52,557.93L109.78,555.47M114.35,554.24V559.16M112.22,555.47L116.48,557.93M112.22,557.93L116.48,555.47" stroke="#000" stroke-width="1.16" fill="none"/>
<path d="M174.6,597 V591.5 H218.7 V596" stroke="#000" stroke-width="1.6" fill="none"/>
<path d="M192.24,584.10H196.84M192.24,586.30H196.84M193.99,582.07L192.89,588.33M196.20,582.07L195.09,588.33M197.36,584.10H201.96M197.36,586.30H201.96M199.11,582.07L198.00,588.33M201.31,582.07L200.21,588.33" stroke="#111" stroke-width="0.97" fill="none"/>
<text x="87.20" y="677.50" font-size="9" font-weight="bold" text-anchor="end" dominant-baseline="central" fill="#000">8a (20 mg/kg)</text>
<text x="87.20" y="688.00" font-size="9" font-weight="bold" text-anchor="end" dominant-baseline="central" fill="#000">GEM (10 mg/kg)</text>
<line x1="90.20" y1="678.00" x2="96.00" y2="678.00" stroke="#222" stroke-width="1.0"/>
<line x1="90.20" y1="688.50" x2="96.00" y2="688.50" stroke="#999" stroke-width="1.0"/>
<text x="133.40" y="677.50" font-size="9" font-weight="bold" text-anchor="middle" dominant-baseline="central" fill="#222">+</text>
<line x1="130.50" y1="688.50" x2="136.30" y2="688.50" stroke="#666" stroke-width="1.0"/>
<line x1="170.90" y1="678.00" x2="176.70" y2="678.00" stroke="#888" stroke-width="1.0"/>
<text x="173.80" y="688.00" font-size="9" font-weight="bold" text-anchor="middle" dominant-baseline="central" fill="#000">+</text>
<text x="215.50" y="677.50" font-size="9" font-weight="bold" text-anchor="middle" dominant-baseline="central" fill="#222">+</text>
<text x="215.50" y="688.00" font-size="9" font-weight="bold" text-anchor="middle" dominant-baseline="central" fill="#000">+</text>
<text x="34.60" y="600.00" font-size="9" font-weight="bold" text-anchor="middle" dominant-baseline="central" fill="#000" transform="rotate(-90 34.6 600)" textLength="117.7" lengthAdjust="spacingAndGlyphs">Relative protein expression</text>
<text x="44.60" y="602.50" font-size="9" font-weight="bold" text-anchor="middle" dominant-baseline="central" fill="#000" transform="rotate(-90 44.6 602.5)" textLength="64" lengthAdjust="spacingAndGlyphs">(Ki67/β-Actin)</text>
<line x1="300.50" y1="548.90" x2="300.50" y2="655.20" stroke="#000" stroke-width="1.3"/>
<line x1="296.00" y1="654.60" x2="300.50" y2="654.60" stroke="#000" stroke-width="1.3"/>
<text x="294.60" y="654.80" font-size="7.7" font-weight="bold" text-anchor="end" dominant-baseline="central" fill="#000">0</text>
<line x1="296.00" y1="619.57" x2="300.50" y2="619.57" stroke="#000" stroke-width="1.3"/>
<text x="294.60" y="619.77" font-size="7.7" font-weight="bold" text-anchor="end" dominant-baseline="central" fill="#000">4</text>
<line x1="296.00" y1="584.53" x2="300.50" y2="584.53" stroke="#000" stroke-width="1.3"/>
<text x="294.60" y="584.73" font-size="7.7" font-weight="bold" text-anchor="end" dominant-baseline="central" fill="#000">8</text>
<line x1="296.00" y1="549.50" x2="300.50" y2="549.50" stroke="#000" stroke-width="1.3"/>
<text x="294.60" y="549.70" font-size="7.7" font-weight="bold" text-anchor="end" dominant-baseline="central" fill="#000">12</text>
<line x1="296.00" y1="654.60" x2="463.90" y2="654.60" stroke="#000" stroke-width="1.6"/>
<rect x="305.00" y="647.16" width="8.00" height="7.44" fill="#000" stroke="#000" stroke-width="1.5"/>
<rect x="318.30" y="647.16" width="8.00" height="7.44" fill="#888" stroke="#000" stroke-width="1.5"/>
<rect x="331.40" y="647.16" width="8.20" height="7.44" fill="#888" stroke="#000" stroke-width="1.5"/>
<rect x="344.40" y="616.06" width="8.30" height="38.54" fill="#dcdcdc" stroke="#000" stroke-width="1.5"/>
<rect x="357.70" y="608.18" width="8.00" height="46.42" fill="#555" stroke="#000" stroke-width="1.5"/>
<rect x="371.00" y="608.18" width="8.00" height="46.42" fill="#888" stroke="#000" stroke-width="1.5"/>
<rect x="384.00" y="600.30" width="8.30" height="54.30" fill="#555" stroke="#000" stroke-width="1.5"/>
<rect x="397.30" y="596.36" width="8.00" height="58.24" fill="#e0e0e0" stroke="#000" stroke-width="1.5"/>
<rect x="410.30" y="599.86" width="8.30" height="54.74" fill="#888" stroke="#000" stroke-width="1.5"/>
<rect x="424.10" y="570.52" width="8.30" height="84.08" fill="#000" stroke="#000" stroke-width="1.5"/>
<rect x="437.40" y="573.59" width="8.10" height="81.01" fill="#999" stroke="#000" stroke-width="1.5"/>
<rect x="450.50" y="574.90" width="8.20" height="79.70" fill="#777" stroke="#000" stroke-width="1.5"/>
<line x1="309.00" y1="647.16" x2="309.00" y2="646.28" stroke="#44e044" stroke-width="1.0"/>
<line x1="306.80" y1="646.28" x2="311.20" y2="646.28" stroke="#44e044" stroke-width="1.0"/>
<circle cx="307.00" cy="644.97" r="1.90" fill="#22dd22"/>
<circle cx="311.00" cy="644.97" r="1.90" fill="#22dd22"/>
<circle cx="309.00" cy="646.28" r="1.90" fill="#22dd22"/>
<line x1="322.30" y1="647.16" x2="322.30" y2="646.28" stroke="#44e044" stroke-width="1.0"/>
<line x1="320.10" y1="646.28" x2="324.50" y2="646.28" stroke="#44e044" stroke-width="1.0"/>
<circle cx="320.30" cy="644.97" r="1.90" fill="#22dd22"/>
<circle cx="324.30" cy="644.97" r="1.90" fill="#22dd22"/>
<circle cx="322.30" cy="646.28" r="1.90" fill="#22dd22"/>
<line x1="335.50" y1="647.16" x2="335.50" y2="646.28" stroke="#44e044" stroke-width="1.0"/>
<line x1="333.30" y1="646.28" x2="337.70" y2="646.28" stroke="#44e044" stroke-width="1.0"/>
<circle cx="333.50" cy="644.97" r="1.90" fill="#22dd22"/>
<circle cx="337.50" cy="644.97" r="1.90" fill="#22dd22"/>
<circle cx="335.50" cy="646.28" r="1.90" fill="#22dd22"/>
<line x1="348.55" y1="616.06" x2="348.55" y2="611.68" stroke="#ff5a5a" stroke-width="1.0"/>
<line x1="346.35" y1="611.68" x2="350.75" y2="611.68" stroke="#ff5a5a" stroke-width="1.0"/>
<path d="M344.48,610.24 L348.62,610.24 L346.55,613.84 Z" fill="#ff2020"/>
<path d="M347.98,610.24 L352.12,610.24 L350.05,613.84 Z" fill="#ff2020"/>
<path d="M344.48,615.50 L348.62,615.50 L346.55,619.10 Z" fill="#ff2020"/>
<line x1="361.70" y1="608.18" x2="361.70" y2="606.87" stroke="#ff5a5a" stroke-width="1.0"/>
<line x1="359.50" y1="606.87" x2="363.90" y2="606.87" stroke="#ff5a5a" stroke-width="1.0"/>
<path d="M359.70,605.84 L361.68,608.18 L359.70,610.52 L357.72,608.18 Z" fill="#ff2020"/>
<path d="M362.70,604.09 L364.68,606.43 L362.70,608.77 L360.72,606.43 Z" fill="#ff2020"/>
<path d="M364.70,605.84 L366.68,608.18 L364.70,610.52 L362.72,608.18 Z" fill="#ff2020"/>
<line x1="375.00" y1="608.18" x2="375.00" y2="604.68" stroke="#ff5a5a" stroke-width="1.0"/>
<line x1="372.80" y1="604.68" x2="377.20" y2="604.68" stroke="#ff5a5a" stroke-width="1.0"/>
<path d="M369.93,610.50 L374.07,610.50 L372.00,606.90 Z" fill="#ff2020"/>
<path d="M372.93,606.12 L377.07,606.12 L375.00,602.52 Z" fill="#ff2020"/>
<path d="M375.93,610.50 L380.07,610.50 L378.00,606.90 Z" fill="#ff2020"/>
<line x1="388.15" y1="600.30" x2="388.15" y2="598.55" stroke="#4a64ff" stroke-width="1.0"/>
<line x1="385.95" y1="598.55" x2="390.35" y2="598.55" stroke="#4a64ff" stroke-width="1.0"/>
<path d="M385.65,597.96 L387.63,600.30 L385.65,602.64 L383.67,600.30 Z" fill="#1a3cff"/>
<path d="M388.15,593.58 L390.13,595.92 L388.15,598.26 L386.17,595.92 Z" fill="#1a3cff"/>
<path d="M390.65,597.96 L392.63,600.30 L390.65,602.64 L388.67,600.30 Z" fill="#1a3cff"/>
<line x1="401.30" y1="596.36" x2="401.30" y2="590.23" stroke="#4a64ff" stroke-width="1.0"/>
<line x1="399.10" y1="590.23" x2="403.50" y2="590.23" stroke="#4a64ff" stroke-width="1.0"/>
<path d="M399.23,589.48 L403.37,589.48 L401.30,585.88 Z" fill="#1a3cff"/>
<path d="M399.23,598.24 L403.37,598.24 L401.30,594.64 Z" fill="#1a3cff"/>
<path d="M399.23,602.61 L403.37,602.61 L401.30,599.01 Z" fill="#1a3cff"/>
<line x1="414.45" y1="599.86" x2="414.45" y2="598.11" stroke="#4a64ff" stroke-width="1.0"/>
<line x1="412.25" y1="598.11" x2="416.65" y2="598.11" stroke="#4a64ff" stroke-width="1.0"/>
<path d="M411.45,597.96 L413.43,600.30 L411.45,602.64 L409.47,600.30 Z" fill="#1a3cff"/>
<path d="M414.45,594.46 L416.43,596.80 L414.45,599.14 L412.47,596.80 Z" fill="#1a3cff"/>
<path d="M417.45,597.08 L419.43,599.42 L417.45,601.76 L415.47,599.42 Z" fill="#1a3cff"/>
<line x1="428.25" y1="570.52" x2="428.25" y2="566.14" stroke="#c050e8" stroke-width="1.0"/>
<line x1="426.05" y1="566.14" x2="430.45" y2="566.14" stroke="#c050e8" stroke-width="1.0"/>
<circle cx="428.25" cy="567.02" r="1.90" fill="#b020e0"/>
<circle cx="428.25" cy="574.02" r="1.90" fill="#b020e0"/>
<circle cx="426.25" cy="570.52" r="1.90" fill="#b020e0"/>
<line x1="441.45" y1="573.59" x2="441.45" y2="571.83" stroke="#c050e8" stroke-width="1.0"/>
<line x1="439.25" y1="571.83" x2="443.65" y2="571.83" stroke="#c050e8" stroke-width="1.0"/>
<circle cx="438.45" cy="574.02" r="1.90" fill="#b020e0"/>
<circle cx="441.45" cy="570.52" r="1.90" fill="#b020e0"/>
<circle cx="444.45" cy="574.02" r="1.90" fill="#b020e0"/>
<line x1="454.60" y1="574.90" x2="454.60" y2="571.83" stroke="#c050e8" stroke-width="1.0"/>
<line x1="452.40" y1="571.83" x2="456.80" y2="571.83" stroke="#c050e8" stroke-width="1.0"/>
<circle cx="451.60" cy="574.90" r="1.90" fill="#b020e0"/>
<circle cx="454.60" cy="570.52" r="1.90" fill="#b020e0"/>
<circle cx="457.60" cy="574.90" r="1.90" fill="#b020e0"/>
<line x1="309.00" y1="654.60" x2="309.00" y2="658.60" stroke="#000" stroke-width="1.3"/>
<text x="309.00" y="664.90" font-size="8.6" font-weight="bold" text-anchor="middle" dominant-baseline="central" fill="#000">1</text>
<line x1="322.30" y1="654.60" x2="322.30" y2="658.60" stroke="#000" stroke-width="1.3"/>
<text x="322.30" y="664.90" font-size="8.6" font-weight="bold" text-anchor="middle" dominant-baseline="central" fill="#000">2</text>
<line x1="335.50" y1="654.60" x2="335.50" y2="658.60" stroke="#000" stroke-width="1.3"/>
<text x="335.50" y="664.90" font-size="8.6" font-weight="bold" text-anchor="middle" dominant-baseline="central" fill="#000">3</text>
<line x1="348.55" y1="654.60" x2="348.55" y2="658.60" stroke="#000" stroke-width="1.3"/>
<text x="348.55" y="664.90" font-size="8.6" font-weight="bold" text-anchor="middle" dominant-baseline="central" fill="#000">4</text>
<line x1="361.70" y1="654.60" x2="361.70" y2="658.60" stroke="#000" stroke-width="1.3"/>
<text x="361.70" y="664.90" font-size="8.6" font-weight="bold" text-anchor="middle" dominant-baseline="central" fill="#000">5</text>
<line x1="375.00" y1="654.60" x2="375.00" y2="658.60" stroke="#000" stroke-width="1.3"/>
<text x="375.00" y="664.90" font-size="8.6" font-weight="bold" text-anchor="middle" dominant-baseline="central" fill="#000">6</text>
<line x1="388.15" y1="654.60" x2="388.15" y2="658.60" stroke="#000" stroke-width="1.3"/>
<text x="388.15" y="664.90" font-size="8.6" font-weight="bold" text-anchor="middle" dominant-baseline="central" fill="#000">7</text>
<line x1="401.30" y1="654.60" x2="401.30" y2="658.60" stroke="#000" stroke-width="1.3"/>
<text x="401.30" y="664.90" font-size="8.6" font-weight="bold" text-anchor="middle" dominant-baseline="central" fill="#000">8</text>
<line x1="414.45" y1="654.60" x2="414.45" y2="658.60" stroke="#000" stroke-width="1.3"/>
<text x="414.45" y="664.90" font-size="8.6" font-weight="bold" text-anchor="middle" dominant-baseline="central" fill="#000">9</text>
<line x1="428.25" y1="654.60" x2="428.25" y2="658.60" stroke="#000" stroke-width="1.3"/>
<text x="428.25" y="664.90" font-size="8.6" font-weight="bold" text-anchor="middle" dominant-baseline="central" fill="#000">10</text>
<line x1="441.45" y1="654.60" x2="441.45" y2="658.60" stroke="#000" stroke-width="1.3"/>
<text x="441.45" y="664.90" font-size="8.6" font-weight="bold" text-anchor="middle" dominant-baseline="central" fill="#000">11</text>
<line x1="454.60" y1="654.60" x2="454.60" y2="658.60" stroke="#000" stroke-width="1.3"/>
<text x="454.60" y="664.90" font-size="8.6" font-weight="bold" text-anchor="middle" dominant-baseline="central" fill="#000">12</text>
<line x1="304.50" y1="670.00" x2="340.10" y2="670.00" stroke="#000" stroke-width="1.6"/>
<line x1="343.90" y1="670.00" x2="379.50" y2="670.00" stroke="#000" stroke-width="1.6"/>
<line x1="383.50" y1="670.00" x2="419.10" y2="670.00" stroke="#000" stroke-width="1.6"/>
<line x1="423.60" y1="670.00" x2="459.20" y2="670.00" stroke="#000" stroke-width="1.6"/>
<line x1="306.30" y1="641.10" x2="337.10" y2="641.10" stroke="#000" stroke-width="1.6"/>
<line x1="343.10" y1="601.00" x2="377.20" y2="601.00" stroke="#000" stroke-width="1.6"/>
<line x1="385.80" y1="587.00" x2="417.10" y2="587.00" stroke="#000" stroke-width="1.6"/>
<line x1="425.40" y1="561.90" x2="456.70" y2="561.90" stroke="#000" stroke-width="1.6"/>
<path d="M315.8,599.7 V594.2 H362 V599.2" stroke="#000" stroke-width="1.6" fill="none"/>
<path d="M336.25,584.74V589.66M334.12,585.97L338.38,588.43M334.12,588.43L338.38,585.97M342.95,584.74V589.66M340.82,585.97L345.08,588.43M340.82,588.43L345.08,585.97" stroke="#000" stroke-width="1.16" fill="none"/>
<path d="M321.3,584.7 V579.2 H402.3 V584.7" stroke="#000" stroke-width="1.6" fill="none"/>
<path d="M358.05,569.74V574.66M355.92,570.97L360.18,573.43M355.92,573.43L360.18,570.97M364.75,569.74V574.66M362.62,570.97L366.88,573.43M362.62,573.43L366.88,570.97" stroke="#000" stroke-width="1.16" fill="none"/>
<path d="M402.3,560.1 V555.1 H445 V560.1" stroke="#000" stroke-width="1.6" fill="none"/>
<path d="M418.74,547.00H423.34M418.74,549.20H423.34M420.49,544.97L419.39,551.23M422.70,544.97L421.59,551.23M423.86,547.00H428.46M423.86,549.20H428.46M425.61,544.97L424.50,551.23M427.81,544.97L426.71,551.23" stroke="#111" stroke-width="0.97" fill="none"/>
<text x="316.30" y="677.50" font-size="9" font-weight="bold" text-anchor="end" dominant-baseline="central" fill="#000">8a (20 mg/kg)</text>
<text x="316.30" y="688.00" font-size="9" font-weight="bold" text-anchor="end" dominant-baseline="central" fill="#000">GEM (10 mg/kg)</text>
<line x1="319.70" y1="678.00" x2="325.50" y2="678.00" stroke="#222" stroke-width="1.0"/>
<line x1="319.70" y1="688.50" x2="325.50" y2="688.50" stroke="#999" stroke-width="1.0"/>
<text x="361.50" y="677.50" font-size="9" font-weight="bold" text-anchor="middle" dominant-baseline="central" fill="#222">+</text>
<line x1="358.60" y1="688.50" x2="364.40" y2="688.50" stroke="#666" stroke-width="1.0"/>
<line x1="398.10" y1="678.00" x2="403.90" y2="678.00" stroke="#888" stroke-width="1.0"/>
<text x="401.00" y="688.00" font-size="9" font-weight="bold" text-anchor="middle" dominant-baseline="central" fill="#000">+</text>
<text x="442.20" y="677.50" font-size="9" font-weight="bold" text-anchor="middle" dominant-baseline="central" fill="#222">+</text>
<text x="442.20" y="688.00" font-size="9" font-weight="bold" text-anchor="middle" dominant-baseline="central" fill="#000">+</text>
<text x="267.30" y="602.00" font-size="9" font-weight="bold" text-anchor="middle" dominant-baseline="central" fill="#000" transform="rotate(-90 267.3 602)" textLength="113.8" lengthAdjust="spacingAndGlyphs">Relative protein expression</text>
<text x="277.30" y="601.00" font-size="9" font-weight="bold" text-anchor="middle" dominant-baseline="central" fill="#000" transform="rotate(-90 277.3 601)" textLength="126.5" lengthAdjust="spacingAndGlyphs">(Cleaved-Caspase 3/Caspase 3)</text>
<line x1="519.50" y1="548.90" x2="519.50" y2="655.20" stroke="#000" stroke-width="1.3"/>
<line x1="515.00" y1="654.60" x2="519.50" y2="654.60" stroke="#000" stroke-width="1.3"/>
<text x="514.00" y="654.80" font-size="7.7" font-weight="bold" text-anchor="end" dominant-baseline="central" fill="#000">0</text>
<line x1="515.00" y1="628.33" x2="519.50" y2="628.33" stroke="#000" stroke-width="1.3"/>
<text x="514.00" y="628.53" font-size="7.7" font-weight="bold" text-anchor="end" dominant-baseline="central" fill="#000">2</text>
<line x1="515.00" y1="602.05" x2="519.50" y2="602.05" stroke="#000" stroke-width="1.3"/>
<text x="514.00" y="602.25" font-size="7.7" font-weight="bold" text-anchor="end" dominant-baseline="central" fill="#000">4</text>
<line x1="515.00" y1="575.77" x2="519.50" y2="575.77" stroke="#000" stroke-width="1.3"/>
<text x="514.00" y="575.98" font-size="7.7" font-weight="bold" text-anchor="end" dominant-baseline="central" fill="#000">6</text>
<line x1="515.00" y1="549.50" x2="519.50" y2="549.50" stroke="#000" stroke-width="1.3"/>
<text x="514.00" y="549.70" font-size="7.7" font-weight="bold" text-anchor="end" dominant-baseline="central" fill="#000">8</text>
<line x1="515.00" y1="654.60" x2="683.30" y2="654.60" stroke="#000" stroke-width="1.6"/>
<rect x="524.30" y="642.12" width="8.30" height="12.48" fill="#000" stroke="#000" stroke-width="1.5"/>
<rect x="537.60" y="642.12" width="8.00" height="12.48" fill="#999" stroke="#000" stroke-width="1.5"/>
<rect x="550.90" y="642.12" width="8.00" height="12.48" fill="#888" stroke="#000" stroke-width="1.5"/>
<rect x="563.90" y="594.17" width="8.30" height="60.43" fill="#d8d8d8" stroke="#000" stroke-width="1.5"/>
<rect x="577.20" y="583.66" width="8.00" height="70.94" fill="#555" stroke="#000" stroke-width="1.5"/>
<rect x="590.20" y="592.85" width="8.30" height="61.75" fill="#9a9a9a" stroke="#000" stroke-width="1.5"/>
<rect x="603.50" y="636.86" width="8.00" height="17.74" fill="#555" stroke="#000" stroke-width="1.5"/>
<rect x="616.60" y="637.78" width="8.20" height="16.82" fill="#e8e8e8" stroke="#000" stroke-width="1.5"/>
<rect x="629.80" y="635.68" width="8.10" height="18.92" fill="#a0a0a0" stroke="#000" stroke-width="1.5"/>
<rect x="642.90" y="584.05" width="8.80" height="70.55" fill="#000" stroke="#000" stroke-width="1.5"/>
<rect x="656.20" y="597.45" width="8.50" height="57.15" fill="#a0a0a0" stroke="#000" stroke-width="1.5"/>
<rect x="669.20" y="568.55" width="8.30" height="86.05" fill="#777" stroke="#000" stroke-width="1.5"/>
<line x1="528.45" y1="642.12" x2="528.45" y2="640.81" stroke="#44e044" stroke-width="1.0"/>
<line x1="526.25" y1="640.81" x2="530.65" y2="640.81" stroke="#44e044" stroke-width="1.0"/>
<circle cx="526.45" cy="638.84" r="1.90" fill="#22dd22"/>
<circle cx="530.45" cy="640.15" r="1.90" fill="#22dd22"/>
<circle cx="526.45" cy="643.43" r="1.90" fill="#22dd22"/>
<line x1="541.60" y1="642.12" x2="541.60" y2="641.46" stroke="#44e044" stroke-width="1.0"/>
<line x1="539.40" y1="641.46" x2="543.80" y2="641.46" stroke="#44e044" stroke-width="1.0"/>
<circle cx="539.60" cy="640.15" r="1.90" fill="#22dd22"/>
<circle cx="543.60" cy="640.15" r="1.90" fill="#22dd22"/>
<circle cx="541.60" cy="641.46" r="1.90" fill="#22dd22"/>
<line x1="554.90" y1="642.12" x2="554.90" y2="641.46" stroke="#44e044" stroke-width="1.0"/>
<line x1="552.70" y1="641.46" x2="557.10" y2="641.46" stroke="#44e044" stroke-width="1.0"/>
<circle cx="552.90" cy="641.46" r="1.90" fill="#22dd22"/>
<circle cx="556.90" cy="641.46" r="1.90" fill="#22dd22"/>
<circle cx="554.90" cy="641.46" r="1.90" fill="#22dd22"/>
<line x1="568.05" y1="594.17" x2="568.05" y2="591.54" stroke="#ff5a5a" stroke-width="1.0"/>
<line x1="565.85" y1="591.54" x2="570.25" y2="591.54" stroke="#ff5a5a" stroke-width="1.0"/>
<path d="M563.98,590.76 L568.12,590.76 L566.05,594.36 Z" fill="#ff2020"/>
<path d="M567.98,590.10 L572.12,590.10 L570.05,593.70 Z" fill="#ff2020"/>
<path d="M565.98,594.04 L570.12,594.04 L568.05,597.64 Z" fill="#ff2020"/>
<line x1="581.20" y1="583.66" x2="581.20" y2="581.69" stroke="#ff5a5a" stroke-width="1.0"/>
<line x1="579.00" y1="581.69" x2="583.40" y2="581.69" stroke="#ff5a5a" stroke-width="1.0"/>
<path d="M581.20,577.38 L583.18,579.72 L581.20,582.06 L579.22,579.72 Z" fill="#ff2020"/>
<path d="M578.20,585.26 L580.18,587.60 L578.20,589.94 L576.22,587.60 Z" fill="#ff2020"/>
<path d="M584.20,582.63 L586.18,584.97 L584.20,587.31 L582.22,584.97 Z" fill="#ff2020"/>
<line x1="594.35" y1="592.85" x2="594.35" y2="586.28" stroke="#ff5a5a" stroke-width="1.0"/>
<line x1="592.15" y1="586.28" x2="596.55" y2="586.28" stroke="#ff5a5a" stroke-width="1.0"/>
<path d="M592.28,587.73 L596.42,587.73 L594.35,584.12 Z" fill="#ff2020"/>
<path d="M592.28,594.29 L596.42,594.29 L594.35,590.69 Z" fill="#ff2020"/>
<path d="M592.28,598.24 L596.42,598.24 L594.35,594.63 Z" fill="#ff2020"/>
<line x1="607.50" y1="636.86" x2="607.50" y2="635.55" stroke="#4a64ff" stroke-width="1.0"/>
<line x1="605.30" y1="635.55" x2="609.70" y2="635.55" stroke="#4a64ff" stroke-width="1.0"/>
<path d="M605.50,633.87 L607.48,636.21 L605.50,638.55 L603.52,636.21 Z" fill="#1a3cff"/>
<path d="M607.50,632.55 L609.48,634.89 L607.50,637.23 L605.52,634.89 Z" fill="#1a3cff"/>
<path d="M610.00,633.87 L611.98,636.21 L610.00,638.55 L608.02,636.21 Z" fill="#1a3cff"/>
<line x1="620.70" y1="637.78" x2="620.70" y2="636.47" stroke="#4a64ff" stroke-width="1.0"/>
<line x1="618.50" y1="636.47" x2="622.90" y2="636.47" stroke="#4a64ff" stroke-width="1.0"/>
<path d="M616.63,641.59 L620.77,641.59 L618.70,637.99 Z" fill="#1a3cff"/>
<path d="M618.63,638.96 L622.77,638.96 L620.70,635.36 Z" fill="#1a3cff"/>
<path d="M621.13,640.28 L625.27,640.28 L623.20,636.68 Z" fill="#1a3cff"/>
<line x1="633.85" y1="635.68" x2="633.85" y2="634.37" stroke="#4a64ff" stroke-width="1.0"/>
<line x1="631.65" y1="634.37" x2="636.05" y2="634.37" stroke="#4a64ff" stroke-width="1.0"/>
<path d="M631.85,636.50 L633.83,638.84 L631.85,641.18 L629.87,638.84 Z" fill="#1a3cff"/>
<path d="M633.85,629.93 L635.83,632.27 L633.85,634.61 L631.87,632.27 Z" fill="#1a3cff"/>
<path d="M636.35,633.87 L638.33,636.21 L636.35,638.55 L634.37,636.21 Z" fill="#1a3cff"/>
<line x1="647.30" y1="584.05" x2="647.30" y2="574.20" stroke="#c050e8" stroke-width="1.0"/>
<line x1="645.10" y1="574.20" x2="649.50" y2="574.20" stroke="#c050e8" stroke-width="1.0"/>
<circle cx="644.30" cy="578.40" r="1.90" fill="#b020e0"/>
<circle cx="650.30" cy="577.09" r="1.90" fill="#b020e0"/>
<circle cx="647.30" cy="592.85" r="1.90" fill="#b020e0"/>
<line x1="660.45" y1="597.45" x2="660.45" y2="592.20" stroke="#c050e8" stroke-width="1.0"/>
<line x1="658.25" y1="592.20" x2="662.65" y2="592.20" stroke="#c050e8" stroke-width="1.0"/>
<circle cx="658.45" cy="596.79" r="1.90" fill="#b020e0"/>
<circle cx="662.45" cy="594.17" r="1.90" fill="#b020e0"/>
<circle cx="660.45" cy="602.05" r="1.90" fill="#b020e0"/>
<line x1="673.35" y1="568.55" x2="673.35" y2="561.32" stroke="#c050e8" stroke-width="1.0"/>
<line x1="671.15" y1="561.32" x2="675.55" y2="561.32" stroke="#c050e8" stroke-width="1.0"/>
<circle cx="673.35" cy="560.01" r="1.90" fill="#b020e0"/>
<circle cx="670.35" cy="567.89" r="1.90" fill="#b020e0"/>
<circle cx="676.35" cy="567.89" r="1.90" fill="#b020e0"/>
<line x1="528.45" y1="654.60" x2="528.45" y2="658.60" stroke="#000" stroke-width="1.3"/>
<text x="528.45" y="664.90" font-size="8.6" font-weight="bold" text-anchor="middle" dominant-baseline="central" fill="#000">1</text>
<line x1="541.60" y1="654.60" x2="541.60" y2="658.60" stroke="#000" stroke-width="1.3"/>
<text x="541.60" y="664.90" font-size="8.6" font-weight="bold" text-anchor="middle" dominant-baseline="central" fill="#000">2</text>
<line x1="554.90" y1="654.60" x2="554.90" y2="658.60" stroke="#000" stroke-width="1.3"/>
<text x="554.90" y="664.90" font-size="8.6" font-weight="bold" text-anchor="middle" dominant-baseline="central" fill="#000">3</text>
<line x1="568.05" y1="654.60" x2="568.05" y2="658.60" stroke="#000" stroke-width="1.3"/>
<text x="568.05" y="664.90" font-size="8.6" font-weight="bold" text-anchor="middle" dominant-baseline="central" fill="#000">4</text>
<line x1="581.20" y1="654.60" x2="581.20" y2="658.60" stroke="#000" stroke-width="1.3"/>
<text x="581.20" y="664.90" font-size="8.6" font-weight="bold" text-anchor="middle" dominant-baseline="central" fill="#000">5</text>
<line x1="594.35" y1="654.60" x2="594.35" y2="658.60" stroke="#000" stroke-width="1.3"/>
<text x="594.35" y="664.90" font-size="8.6" font-weight="bold" text-anchor="middle" dominant-baseline="central" fill="#000">6</text>
<line x1="607.50" y1="654.60" x2="607.50" y2="658.60" stroke="#000" stroke-width="1.3"/>
<text x="607.50" y="664.90" font-size="8.6" font-weight="bold" text-anchor="middle" dominant-baseline="central" fill="#000">7</text>
<line x1="620.70" y1="654.60" x2="620.70" y2="658.60" stroke="#000" stroke-width="1.3"/>
<text x="620.70" y="664.90" font-size="8.6" font-weight="bold" text-anchor="middle" dominant-baseline="central" fill="#000">8</text>
<line x1="633.85" y1="654.60" x2="633.85" y2="658.60" stroke="#000" stroke-width="1.3"/>
<text x="633.85" y="664.90" font-size="8.6" font-weight="bold" text-anchor="middle" dominant-baseline="central" fill="#000">9</text>
<line x1="647.30" y1="654.60" x2="647.30" y2="658.60" stroke="#000" stroke-width="1.3"/>
<text x="647.30" y="664.90" font-size="8.6" font-weight="bold" text-anchor="middle" dominant-baseline="central" fill="#000">10</text>
<line x1="660.45" y1="654.60" x2="660.45" y2="658.60" stroke="#000" stroke-width="1.3"/>
<text x="660.45" y="664.90" font-size="8.6" font-weight="bold" text-anchor="middle" dominant-baseline="central" fill="#000">11</text>
<line x1="673.35" y1="654.60" x2="673.35" y2="658.60" stroke="#000" stroke-width="1.3"/>
<text x="673.35" y="664.90" font-size="8.6" font-weight="bold" text-anchor="middle" dominant-baseline="central" fill="#000">12</text>
<line x1="523.80" y1="670.00" x2="559.40" y2="670.00" stroke="#000" stroke-width="1.6"/>
<line x1="563.40" y1="670.00" x2="599.00" y2="670.00" stroke="#000" stroke-width="1.6"/>
<line x1="603.00" y1="670.00" x2="638.40" y2="670.00" stroke="#000" stroke-width="1.6"/>
<line x1="642.40" y1="670.00" x2="678.00" y2="670.00" stroke="#000" stroke-width="1.6"/>
<line x1="525.00" y1="635.80" x2="556.40" y2="635.80" stroke="#000" stroke-width="1.6"/>
<line x1="562.10" y1="574.70" x2="596.50" y2="574.70" stroke="#000" stroke-width="1.6"/>
<line x1="604.80" y1="629.80" x2="636.60" y2="629.80" stroke="#000" stroke-width="1.6"/>
<line x1="644.90" y1="559.60" x2="676.00" y2="559.60" stroke="#000" stroke-width="1.6"/>
<path d="M537.1,573.2 V567.6 H579 V573.2" stroke="#000" stroke-width="1.6" fill="none"/>
<path d="M552.50,559.14V564.06M550.37,560.37L554.63,562.83M550.37,562.83L554.63,560.37M558.40,559.14V564.06M556.27,560.37L560.53,562.83M556.27,562.83L560.53,560.37M564.30,559.14V564.06M562.17,560.37L566.43,562.83M562.17,562.83L566.43,560.37" stroke="#000" stroke-width="1.16" fill="none"/>
<path d="M617.1,558.9 V553.4 H662.2 V558.9" stroke="#000" stroke-width="1.6" fill="none"/>
<path d="M632.71,544.64H637.11M632.71,546.76H637.11M634.38,542.71L633.32,548.69M636.49,542.71L635.44,548.69M637.60,544.64H642.00M637.60,546.76H642.00M639.27,542.71L638.22,548.69M641.38,542.71L640.33,548.69M642.49,544.64H646.89M642.49,546.76H646.89M644.16,542.71L643.11,548.69M646.28,542.71L645.22,548.69" stroke="#111" stroke-width="0.92" fill="none"/>
<text x="535.50" y="677.50" font-size="9" font-weight="bold" text-anchor="end" dominant-baseline="central" fill="#000">8a (20 mg/kg)</text>
<text x="535.50" y="688.00" font-size="9" font-weight="bold" text-anchor="end" dominant-baseline="central" fill="#000">GEM (10 mg/kg)</text>
<line x1="538.40" y1="678.00" x2="544.20" y2="678.00" stroke="#222" stroke-width="1.0"/>
<line x1="538.40" y1="688.50" x2="544.20" y2="688.50" stroke="#999" stroke-width="1.0"/>
<text x="581.10" y="677.50" font-size="9" font-weight="bold" text-anchor="middle" dominant-baseline="central" fill="#222">+</text>
<line x1="578.20" y1="688.50" x2="584.00" y2="688.50" stroke="#666" stroke-width="1.0"/>
<line x1="617.40" y1="678.00" x2="623.20" y2="678.00" stroke="#888" stroke-width="1.0"/>
<text x="620.30" y="688.00" font-size="9" font-weight="bold" text-anchor="middle" dominant-baseline="central" fill="#000">+</text>
<text x="661.40" y="677.50" font-size="9" font-weight="bold" text-anchor="middle" dominant-baseline="central" fill="#222">+</text>
<text x="661.40" y="688.00" font-size="9" font-weight="bold" text-anchor="middle" dominant-baseline="central" fill="#000">+</text>
<text x="491.10" y="602.00" font-size="9" font-weight="bold" text-anchor="middle" dominant-baseline="central" fill="#000" transform="rotate(-90 491.1 602)" textLength="113.8" lengthAdjust="spacingAndGlyphs">Relative protein expression</text>
<text x="501.10" y="601.00" font-size="9" font-weight="bold" text-anchor="middle" dominant-baseline="central" fill="#000" transform="rotate(-90 501.1 601)" textLength="58" lengthAdjust="spacingAndGlyphs">(Ac-H3K9/H3)</text>
</svg></body></html>
